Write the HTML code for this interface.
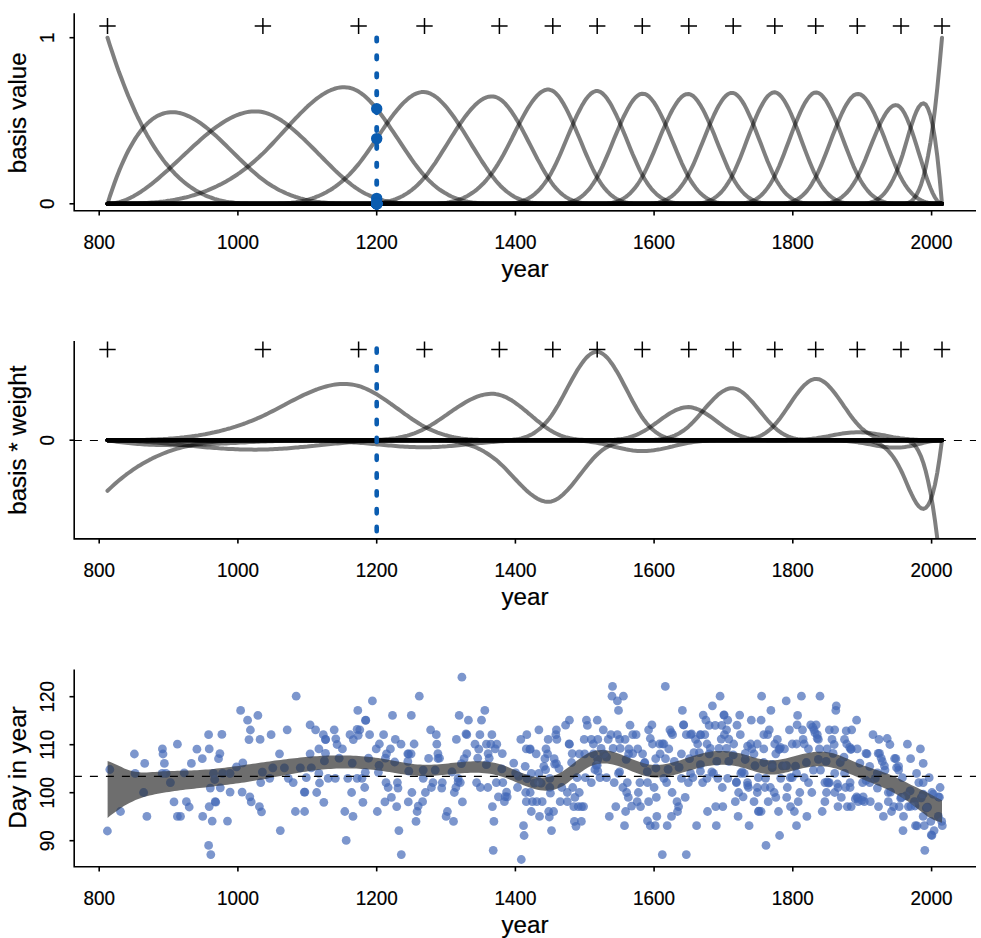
<!DOCTYPE html>
<html><head><meta charset="utf-8"><style>
html,body{margin:0;padding:0;background:#fff;}
svg{display:block;}
.tl{font-family:"Liberation Sans",sans-serif;font-size:19.2px;fill:#000;stroke:#000;stroke-width:0.2px;}
.al{font-family:"Liberation Sans",sans-serif;font-size:24.2px;fill:#000;stroke:#000;stroke-width:0.2px;}
</style></head><body>
<svg width="981" height="938" viewBox="0 0 981 938">
<rect width="981" height="938" fill="#fff"/>
<path d="M74.2 13.3 V210.8 H976" fill="none" stroke="#000" stroke-width="1.6"/>
<path d="M99.2 210.8 H931.6" stroke="#000" stroke-width="1" fill="none"/>
<path d="M99.2 210.8 v4.7" stroke="#000" stroke-width="1.6"/>
<text transform="translate(99.2 249.1) scale(0.985 1.045)" class="tl" text-anchor="middle">800</text>
<path d="M237.9 210.8 v4.7" stroke="#000" stroke-width="1.6"/>
<text transform="translate(237.9 249.1) scale(0.985 1.045)" class="tl" text-anchor="middle">1000</text>
<path d="M376.7 210.8 v4.7" stroke="#000" stroke-width="1.6"/>
<text transform="translate(376.7 249.1) scale(0.985 1.045)" class="tl" text-anchor="middle">1200</text>
<path d="M515.4 210.8 v4.7" stroke="#000" stroke-width="1.6"/>
<text transform="translate(515.4 249.1) scale(0.985 1.045)" class="tl" text-anchor="middle">1400</text>
<path d="M654.1 210.8 v4.7" stroke="#000" stroke-width="1.6"/>
<text transform="translate(654.1 249.1) scale(0.985 1.045)" class="tl" text-anchor="middle">1600</text>
<path d="M792.8 210.8 v4.7" stroke="#000" stroke-width="1.6"/>
<text transform="translate(792.8 249.1) scale(0.985 1.045)" class="tl" text-anchor="middle">1800</text>
<path d="M931.6 210.8 v4.7" stroke="#000" stroke-width="1.6"/>
<text transform="translate(931.6 249.1) scale(0.985 1.045)" class="tl" text-anchor="middle">2000</text>
<text x="525" y="277.1" class="al" text-anchor="middle">year</text>
<path d="M74.2 203.8 h-4.7" stroke="#000" stroke-width="1.6"/>
<text transform="translate(54.2 203.8) rotate(-90) scale(0.985 1.045)" class="tl" text-anchor="middle">0</text>
<path d="M74.2 37.7 h-4.7" stroke="#000" stroke-width="1.6"/>
<text transform="translate(54.2 37.7) rotate(-90) scale(0.985 1.045)" class="tl" text-anchor="middle">1</text>
<text transform="translate(25.9 112.8) rotate(-90)" class="al" text-anchor="middle">basis value</text>
<path d="M99.3 26.1 h16.4 M107.5 18.1 v16" stroke="#000" stroke-width="1.5"/>
<path d="M254.7 26.1 h16.4 M262.9 18.1 v16" stroke="#000" stroke-width="1.5"/>
<path d="M350.4 26.1 h16.4 M358.6 18.1 v16" stroke="#000" stroke-width="1.5"/>
<path d="M416.3 26.1 h16.4 M424.5 18.1 v16" stroke="#000" stroke-width="1.5"/>
<path d="M491.2 26.1 h16.4 M499.4 18.1 v16" stroke="#000" stroke-width="1.5"/>
<path d="M544.6 26.1 h16.4 M552.8 18.1 v16" stroke="#000" stroke-width="1.5"/>
<path d="M589.0 26.1 h16.4 M597.2 18.1 v16" stroke="#000" stroke-width="1.5"/>
<path d="M634.1 26.1 h16.4 M642.3 18.1 v16" stroke="#000" stroke-width="1.5"/>
<path d="M680.6 26.1 h16.4 M688.8 18.1 v16" stroke="#000" stroke-width="1.5"/>
<path d="M725.0 26.1 h16.4 M733.2 18.1 v16" stroke="#000" stroke-width="1.5"/>
<path d="M766.6 26.1 h16.4 M774.8 18.1 v16" stroke="#000" stroke-width="1.5"/>
<path d="M807.5 26.1 h16.4 M815.7 18.1 v16" stroke="#000" stroke-width="1.5"/>
<path d="M849.1 26.1 h16.4 M857.3 18.1 v16" stroke="#000" stroke-width="1.5"/>
<path d="M892.8 26.1 h16.4 M901.0 18.1 v16" stroke="#000" stroke-width="1.5"/>
<path d="M933.8 26.1 h16.4 M942.0 18.1 v16" stroke="#000" stroke-width="1.5"/>
<polyline points="107.5,37.7 109.8,45.0 112.2,52.2 114.5,59.1 116.8,65.8 119.1,72.3 121.5,78.5 123.8,84.6 126.1,90.5 128.4,96.2 130.8,101.6 133.1,106.9 135.4,112.1 137.7,117.0 140.1,121.7 142.4,126.3 144.7,130.7 147.0,134.9 149.4,139.0 151.7,142.9 154.0,146.6 156.3,150.2 158.7,153.6 161.0,156.9 163.3,160.1 165.6,163.1 168.0,165.9 170.3,168.6 172.6,171.2 174.9,173.7 177.3,176.0 179.6,178.2 181.9,180.3 184.2,182.2 186.6,184.1 188.9,185.8 191.2,187.5 193.5,189.0 195.8,190.5 198.2,191.8 200.5,193.0 202.8,194.2 205.1,195.3 207.5,196.3 209.8,197.2 212.1,198.0 214.4,198.8 216.8,199.5 219.1,200.1 221.4,200.6 223.7,201.1 226.1,201.6 228.4,202.0 230.7,202.3 233.0,202.6 235.4,202.9 237.7,203.1 240.0,203.3 242.3,203.4 244.7,203.5 247.0,203.6 249.3,203.7 251.6,203.7 254.0,203.8 256.3,203.8 258.6,203.8 260.9,203.8 263.3,203.8 265.6,203.8 267.9,203.8 270.2,203.8 272.6,203.8 274.9,203.8 277.2,203.8 279.5,203.8 281.9,203.8 284.2,203.8 286.5,203.8 288.8,203.8 291.1,203.8 293.5,203.8 295.8,203.8 298.1,203.8 300.4,203.8 302.8,203.8 305.1,203.8 307.4,203.8 309.7,203.8 312.1,203.8 314.4,203.8 316.7,203.8 319.0,203.8 321.4,203.8 323.7,203.8 326.0,203.8 328.3,203.8 330.7,203.8 333.0,203.8 335.3,203.8 337.6,203.8 340.0,203.8 342.3,203.8 344.6,203.8 346.9,203.8 349.3,203.8 351.6,203.8 353.9,203.8 356.2,203.8 358.6,203.8 360.9,203.8 363.2,203.8 365.5,203.8 367.9,203.8 370.2,203.8 372.5,203.8 374.8,203.8 377.2,203.8 379.5,203.8 381.8,203.8 384.1,203.8 386.4,203.8 388.8,203.8 391.1,203.8 393.4,203.8 395.7,203.8 398.1,203.8 400.4,203.8 402.7,203.8 405.0,203.8 407.4,203.8 409.7,203.8 412.0,203.8 414.3,203.8 416.7,203.8 419.0,203.8 421.3,203.8 423.6,203.8 426.0,203.8 428.3,203.8 430.6,203.8 432.9,203.8 435.3,203.8 437.6,203.8 439.9,203.8 442.2,203.8 444.6,203.8 446.9,203.8 449.2,203.8 451.5,203.8 453.9,203.8 456.2,203.8 458.5,203.8 460.8,203.8 463.2,203.8 465.5,203.8 467.8,203.8 470.1,203.8 472.4,203.8 474.8,203.8 477.1,203.8 479.4,203.8 481.7,203.8 484.1,203.8 486.4,203.8 488.7,203.8 491.0,203.8 493.4,203.8 495.7,203.8 498.0,203.8 500.3,203.8 502.7,203.8 505.0,203.8 507.3,203.8 509.6,203.8 512.0,203.8 514.3,203.8 516.6,203.8 518.9,203.8 521.3,203.8 523.6,203.8 525.9,203.8 528.2,203.8 530.6,203.8 532.9,203.8 535.2,203.8 537.5,203.8 539.9,203.8 542.2,203.8 544.5,203.8 546.8,203.8 549.2,203.8 551.5,203.8 553.8,203.8 556.1,203.8 558.5,203.8 560.8,203.8 563.1,203.8 565.4,203.8 567.7,203.8 570.1,203.8 572.4,203.8 574.7,203.8 577.0,203.8 579.4,203.8 581.7,203.8 584.0,203.8 586.3,203.8 588.7,203.8 591.0,203.8 593.3,203.8 595.6,203.8 598.0,203.8 600.3,203.8 602.6,203.8 604.9,203.8 607.3,203.8 609.6,203.8 611.9,203.8 614.2,203.8 616.6,203.8 618.9,203.8 621.2,203.8 623.5,203.8 625.9,203.8 628.2,203.8 630.5,203.8 632.8,203.8 635.2,203.8 637.5,203.8 639.8,203.8 642.1,203.8 644.5,203.8 646.8,203.8 649.1,203.8 651.4,203.8 653.8,203.8 656.1,203.8 658.4,203.8 660.7,203.8 663.0,203.8 665.4,203.8 667.7,203.8 670.0,203.8 672.3,203.8 674.7,203.8 677.0,203.8 679.3,203.8 681.6,203.8 684.0,203.8 686.3,203.8 688.6,203.8 690.9,203.8 693.3,203.8 695.6,203.8 697.9,203.8 700.2,203.8 702.6,203.8 704.9,203.8 707.2,203.8 709.5,203.8 711.9,203.8 714.2,203.8 716.5,203.8 718.8,203.8 721.2,203.8 723.5,203.8 725.8,203.8 728.1,203.8 730.5,203.8 732.8,203.8 735.1,203.8 737.4,203.8 739.8,203.8 742.1,203.8 744.4,203.8 746.7,203.8 749.0,203.8 751.4,203.8 753.7,203.8 756.0,203.8 758.3,203.8 760.7,203.8 763.0,203.8 765.3,203.8 767.6,203.8 770.0,203.8 772.3,203.8 774.6,203.8 776.9,203.8 779.3,203.8 781.6,203.8 783.9,203.8 786.2,203.8 788.6,203.8 790.9,203.8 793.2,203.8 795.5,203.8 797.9,203.8 800.2,203.8 802.5,203.8 804.8,203.8 807.2,203.8 809.5,203.8 811.8,203.8 814.1,203.8 816.5,203.8 818.8,203.8 821.1,203.8 823.4,203.8 825.8,203.8 828.1,203.8 830.4,203.8 832.7,203.8 835.1,203.8 837.4,203.8 839.7,203.8 842.0,203.8 844.3,203.8 846.7,203.8 849.0,203.8 851.3,203.8 853.6,203.8 856.0,203.8 858.3,203.8 860.6,203.8 862.9,203.8 865.3,203.8 867.6,203.8 869.9,203.8 872.2,203.8 874.6,203.8 876.9,203.8 879.2,203.8 881.5,203.8 883.9,203.8 886.2,203.8 888.5,203.8 890.8,203.8 893.2,203.8 895.5,203.8 897.8,203.8 900.1,203.8 902.5,203.8 904.8,203.8 907.1,203.8 909.4,203.8 911.8,203.8 914.1,203.8 916.4,203.8 918.7,203.8 921.1,203.8 923.4,203.8 925.7,203.8 928.0,203.8 930.4,203.8 932.7,203.8 935.0,203.8 937.3,203.8 939.6,203.8 942.0,203.8" fill="none" stroke="rgba(0,0,0,0.5)" stroke-width="4.0" stroke-linejoin="round" stroke-linecap="round"/>
<polyline points="107.5,203.8 109.8,196.5 112.2,189.6 114.5,183.0 116.8,176.8 119.1,170.9 121.5,165.3 123.8,160.1 126.1,155.1 128.4,150.5 130.8,146.2 133.1,142.2 135.4,138.4 137.7,135.0 140.1,131.8 142.4,128.8 144.7,126.2 147.0,123.8 149.4,121.6 151.7,119.7 154.0,118.0 156.3,116.6 158.7,115.3 161.0,114.3 163.3,113.5 165.6,112.9 168.0,112.5 170.3,112.2 172.6,112.2 174.9,112.3 177.3,112.6 179.6,113.0 181.9,113.6 184.2,114.4 186.6,115.3 188.9,116.3 191.2,117.5 193.5,118.7 195.8,120.1 198.2,121.6 200.5,123.2 202.8,124.9 205.1,126.7 207.5,128.5 209.8,130.5 212.1,132.5 214.4,134.5 216.8,136.6 219.1,138.8 221.4,141.0 223.7,143.2 226.1,145.5 228.4,147.8 230.7,150.1 233.0,152.4 235.4,154.7 237.7,157.0 240.0,159.3 242.3,161.5 244.7,163.8 247.0,166.0 249.3,168.1 251.6,170.3 254.0,172.3 256.3,174.3 258.6,176.3 260.9,178.1 263.3,179.9 265.6,181.6 267.9,183.3 270.2,184.8 272.6,186.3 274.9,187.6 277.2,188.9 279.5,190.2 281.9,191.3 284.2,192.4 286.5,193.5 288.8,194.4 291.1,195.3 293.5,196.2 295.8,197.0 298.1,197.7 300.4,198.4 302.8,199.0 305.1,199.6 307.4,200.1 309.7,200.6 312.1,201.0 314.4,201.4 316.7,201.8 319.0,202.1 321.4,202.4 323.7,202.6 326.0,202.8 328.3,203.0 330.7,203.2 333.0,203.3 335.3,203.5 337.6,203.5 340.0,203.6 342.3,203.7 344.6,203.7 346.9,203.8 349.3,203.8 351.6,203.8 353.9,203.8 356.2,203.8 358.6,203.8 360.9,203.8 363.2,203.8 365.5,203.8 367.9,203.8 370.2,203.8 372.5,203.8 374.8,203.8 377.2,203.8 379.5,203.8 381.8,203.8 384.1,203.8 386.4,203.8 388.8,203.8 391.1,203.8 393.4,203.8 395.7,203.8 398.1,203.8 400.4,203.8 402.7,203.8 405.0,203.8 407.4,203.8 409.7,203.8 412.0,203.8 414.3,203.8 416.7,203.8 419.0,203.8 421.3,203.8 423.6,203.8 426.0,203.8 428.3,203.8 430.6,203.8 432.9,203.8 435.3,203.8 437.6,203.8 439.9,203.8 442.2,203.8 444.6,203.8 446.9,203.8 449.2,203.8 451.5,203.8 453.9,203.8 456.2,203.8 458.5,203.8 460.8,203.8 463.2,203.8 465.5,203.8 467.8,203.8 470.1,203.8 472.4,203.8 474.8,203.8 477.1,203.8 479.4,203.8 481.7,203.8 484.1,203.8 486.4,203.8 488.7,203.8 491.0,203.8 493.4,203.8 495.7,203.8 498.0,203.8 500.3,203.8 502.7,203.8 505.0,203.8 507.3,203.8 509.6,203.8 512.0,203.8 514.3,203.8 516.6,203.8 518.9,203.8 521.3,203.8 523.6,203.8 525.9,203.8 528.2,203.8 530.6,203.8 532.9,203.8 535.2,203.8 537.5,203.8 539.9,203.8 542.2,203.8 544.5,203.8 546.8,203.8 549.2,203.8 551.5,203.8 553.8,203.8 556.1,203.8 558.5,203.8 560.8,203.8 563.1,203.8 565.4,203.8 567.7,203.8 570.1,203.8 572.4,203.8 574.7,203.8 577.0,203.8 579.4,203.8 581.7,203.8 584.0,203.8 586.3,203.8 588.7,203.8 591.0,203.8 593.3,203.8 595.6,203.8 598.0,203.8 600.3,203.8 602.6,203.8 604.9,203.8 607.3,203.8 609.6,203.8 611.9,203.8 614.2,203.8 616.6,203.8 618.9,203.8 621.2,203.8 623.5,203.8 625.9,203.8 628.2,203.8 630.5,203.8 632.8,203.8 635.2,203.8 637.5,203.8 639.8,203.8 642.1,203.8 644.5,203.8 646.8,203.8 649.1,203.8 651.4,203.8 653.8,203.8 656.1,203.8 658.4,203.8 660.7,203.8 663.0,203.8 665.4,203.8 667.7,203.8 670.0,203.8 672.3,203.8 674.7,203.8 677.0,203.8 679.3,203.8 681.6,203.8 684.0,203.8 686.3,203.8 688.6,203.8 690.9,203.8 693.3,203.8 695.6,203.8 697.9,203.8 700.2,203.8 702.6,203.8 704.9,203.8 707.2,203.8 709.5,203.8 711.9,203.8 714.2,203.8 716.5,203.8 718.8,203.8 721.2,203.8 723.5,203.8 725.8,203.8 728.1,203.8 730.5,203.8 732.8,203.8 735.1,203.8 737.4,203.8 739.8,203.8 742.1,203.8 744.4,203.8 746.7,203.8 749.0,203.8 751.4,203.8 753.7,203.8 756.0,203.8 758.3,203.8 760.7,203.8 763.0,203.8 765.3,203.8 767.6,203.8 770.0,203.8 772.3,203.8 774.6,203.8 776.9,203.8 779.3,203.8 781.6,203.8 783.9,203.8 786.2,203.8 788.6,203.8 790.9,203.8 793.2,203.8 795.5,203.8 797.9,203.8 800.2,203.8 802.5,203.8 804.8,203.8 807.2,203.8 809.5,203.8 811.8,203.8 814.1,203.8 816.5,203.8 818.8,203.8 821.1,203.8 823.4,203.8 825.8,203.8 828.1,203.8 830.4,203.8 832.7,203.8 835.1,203.8 837.4,203.8 839.7,203.8 842.0,203.8 844.3,203.8 846.7,203.8 849.0,203.8 851.3,203.8 853.6,203.8 856.0,203.8 858.3,203.8 860.6,203.8 862.9,203.8 865.3,203.8 867.6,203.8 869.9,203.8 872.2,203.8 874.6,203.8 876.9,203.8 879.2,203.8 881.5,203.8 883.9,203.8 886.2,203.8 888.5,203.8 890.8,203.8 893.2,203.8 895.5,203.8 897.8,203.8 900.1,203.8 902.5,203.8 904.8,203.8 907.1,203.8 909.4,203.8 911.8,203.8 914.1,203.8 916.4,203.8 918.7,203.8 921.1,203.8 923.4,203.8 925.7,203.8 928.0,203.8 930.4,203.8 932.7,203.8 935.0,203.8 937.3,203.8 939.6,203.8 942.0,203.8" fill="none" stroke="rgba(0,0,0,0.5)" stroke-width="4.0" stroke-linejoin="round" stroke-linecap="round"/>
<polyline points="107.5,203.8 109.8,203.7 112.2,203.5 114.5,203.2 116.8,202.7 119.1,202.2 121.5,201.5 123.8,200.7 126.1,199.8 128.4,198.7 130.8,197.6 133.1,196.4 135.4,195.1 137.7,193.7 140.1,192.3 142.4,190.7 144.7,189.1 147.0,187.4 149.4,185.7 151.7,183.9 154.0,182.0 156.3,180.1 158.7,178.1 161.0,176.1 163.3,174.1 165.6,172.0 168.0,169.9 170.3,167.8 172.6,165.6 174.9,163.5 177.3,161.3 179.6,159.1 181.9,156.9 184.2,154.7 186.6,152.6 188.9,150.4 191.2,148.2 193.5,146.1 195.8,144.0 198.2,141.9 200.5,139.8 202.8,137.8 205.1,135.8 207.5,133.9 209.8,132.0 212.1,130.2 214.4,128.4 216.8,126.7 219.1,125.1 221.4,123.5 223.7,122.0 226.1,120.6 228.4,119.2 230.7,118.0 233.0,116.9 235.4,115.8 237.7,114.8 240.0,114.0 242.3,113.3 244.7,112.6 247.0,112.1 249.3,111.7 251.6,111.5 254.0,111.4 256.3,111.4 258.6,111.5 260.9,111.8 263.3,112.3 265.6,112.9 267.9,113.6 270.2,114.5 272.6,115.5 274.9,116.7 277.2,118.0 279.5,119.3 281.9,120.8 284.2,122.4 286.5,124.1 288.8,125.9 291.1,127.8 293.5,129.7 295.8,131.7 298.1,133.8 300.4,135.9 302.8,138.1 305.1,140.3 307.4,142.6 309.7,144.9 312.1,147.2 314.4,149.5 316.7,151.9 319.0,154.3 321.4,156.6 323.7,159.0 326.0,161.4 328.3,163.7 330.7,166.0 333.0,168.3 335.3,170.6 337.6,172.8 340.0,174.9 342.3,177.0 344.6,179.1 346.9,181.0 349.3,182.9 351.6,184.8 353.9,186.5 356.2,188.1 358.6,189.7 360.9,191.1 363.2,192.5 365.5,193.7 367.9,194.8 370.2,195.9 372.5,196.9 374.8,197.8 377.2,198.6 379.5,199.3 381.8,200.0 384.1,200.6 386.4,201.1 388.8,201.6 391.1,202.0 393.4,202.3 395.7,202.6 398.1,202.9 400.4,203.1 402.7,203.3 405.0,203.4 407.4,203.6 409.7,203.6 412.0,203.7 414.3,203.7 416.7,203.8 419.0,203.8 421.3,203.8 423.6,203.8 426.0,203.8 428.3,203.8 430.6,203.8 432.9,203.8 435.3,203.8 437.6,203.8 439.9,203.8 442.2,203.8 444.6,203.8 446.9,203.8 449.2,203.8 451.5,203.8 453.9,203.8 456.2,203.8 458.5,203.8 460.8,203.8 463.2,203.8 465.5,203.8 467.8,203.8 470.1,203.8 472.4,203.8 474.8,203.8 477.1,203.8 479.4,203.8 481.7,203.8 484.1,203.8 486.4,203.8 488.7,203.8 491.0,203.8 493.4,203.8 495.7,203.8 498.0,203.8 500.3,203.8 502.7,203.8 505.0,203.8 507.3,203.8 509.6,203.8 512.0,203.8 514.3,203.8 516.6,203.8 518.9,203.8 521.3,203.8 523.6,203.8 525.9,203.8 528.2,203.8 530.6,203.8 532.9,203.8 535.2,203.8 537.5,203.8 539.9,203.8 542.2,203.8 544.5,203.8 546.8,203.8 549.2,203.8 551.5,203.8 553.8,203.8 556.1,203.8 558.5,203.8 560.8,203.8 563.1,203.8 565.4,203.8 567.7,203.8 570.1,203.8 572.4,203.8 574.7,203.8 577.0,203.8 579.4,203.8 581.7,203.8 584.0,203.8 586.3,203.8 588.7,203.8 591.0,203.8 593.3,203.8 595.6,203.8 598.0,203.8 600.3,203.8 602.6,203.8 604.9,203.8 607.3,203.8 609.6,203.8 611.9,203.8 614.2,203.8 616.6,203.8 618.9,203.8 621.2,203.8 623.5,203.8 625.9,203.8 628.2,203.8 630.5,203.8 632.8,203.8 635.2,203.8 637.5,203.8 639.8,203.8 642.1,203.8 644.5,203.8 646.8,203.8 649.1,203.8 651.4,203.8 653.8,203.8 656.1,203.8 658.4,203.8 660.7,203.8 663.0,203.8 665.4,203.8 667.7,203.8 670.0,203.8 672.3,203.8 674.7,203.8 677.0,203.8 679.3,203.8 681.6,203.8 684.0,203.8 686.3,203.8 688.6,203.8 690.9,203.8 693.3,203.8 695.6,203.8 697.9,203.8 700.2,203.8 702.6,203.8 704.9,203.8 707.2,203.8 709.5,203.8 711.9,203.8 714.2,203.8 716.5,203.8 718.8,203.8 721.2,203.8 723.5,203.8 725.8,203.8 728.1,203.8 730.5,203.8 732.8,203.8 735.1,203.8 737.4,203.8 739.8,203.8 742.1,203.8 744.4,203.8 746.7,203.8 749.0,203.8 751.4,203.8 753.7,203.8 756.0,203.8 758.3,203.8 760.7,203.8 763.0,203.8 765.3,203.8 767.6,203.8 770.0,203.8 772.3,203.8 774.6,203.8 776.9,203.8 779.3,203.8 781.6,203.8 783.9,203.8 786.2,203.8 788.6,203.8 790.9,203.8 793.2,203.8 795.5,203.8 797.9,203.8 800.2,203.8 802.5,203.8 804.8,203.8 807.2,203.8 809.5,203.8 811.8,203.8 814.1,203.8 816.5,203.8 818.8,203.8 821.1,203.8 823.4,203.8 825.8,203.8 828.1,203.8 830.4,203.8 832.7,203.8 835.1,203.8 837.4,203.8 839.7,203.8 842.0,203.8 844.3,203.8 846.7,203.8 849.0,203.8 851.3,203.8 853.6,203.8 856.0,203.8 858.3,203.8 860.6,203.8 862.9,203.8 865.3,203.8 867.6,203.8 869.9,203.8 872.2,203.8 874.6,203.8 876.9,203.8 879.2,203.8 881.5,203.8 883.9,203.8 886.2,203.8 888.5,203.8 890.8,203.8 893.2,203.8 895.5,203.8 897.8,203.8 900.1,203.8 902.5,203.8 904.8,203.8 907.1,203.8 909.4,203.8 911.8,203.8 914.1,203.8 916.4,203.8 918.7,203.8 921.1,203.8 923.4,203.8 925.7,203.8 928.0,203.8 930.4,203.8 932.7,203.8 935.0,203.8 937.3,203.8 939.6,203.8 942.0,203.8" fill="none" stroke="rgba(0,0,0,0.5)" stroke-width="4.0" stroke-linejoin="round" stroke-linecap="round"/>
<polyline points="107.5,203.8 109.8,203.8 112.2,203.8 114.5,203.8 116.8,203.8 119.1,203.8 121.5,203.8 123.8,203.7 126.1,203.7 128.4,203.7 130.8,203.6 133.1,203.6 135.4,203.5 137.7,203.4 140.1,203.3 142.4,203.2 144.7,203.1 147.0,203.0 149.4,202.8 151.7,202.6 154.0,202.5 156.3,202.2 158.7,202.0 161.0,201.7 163.3,201.5 165.6,201.2 168.0,200.8 170.3,200.5 172.6,200.1 174.9,199.7 177.3,199.2 179.6,198.8 181.9,198.3 184.2,197.7 186.6,197.2 188.9,196.6 191.2,195.9 193.5,195.3 195.8,194.5 198.2,193.8 200.5,193.0 202.8,192.2 205.1,191.3 207.5,190.4 209.8,189.4 212.1,188.4 214.4,187.4 216.8,186.3 219.1,185.1 221.4,184.0 223.7,182.7 226.1,181.4 228.4,180.1 230.7,178.7 233.0,177.2 235.4,175.7 237.7,174.2 240.0,172.6 242.3,170.9 244.7,169.2 247.0,167.4 249.3,165.5 251.6,163.6 254.0,161.6 256.3,159.6 258.6,157.5 260.9,155.3 263.3,153.1 265.6,150.8 267.9,148.4 270.2,146.0 272.6,143.5 274.9,141.0 277.2,138.5 279.5,136.0 281.9,133.4 284.2,130.9 286.5,128.3 288.8,125.8 291.1,123.2 293.5,120.7 295.8,118.2 298.1,115.8 300.4,113.4 302.8,111.1 305.1,108.8 307.4,106.6 309.7,104.5 312.1,102.5 314.4,100.5 316.7,98.7 319.0,97.0 321.4,95.3 323.7,93.9 326.0,92.5 328.3,91.3 330.7,90.2 333.0,89.3 335.3,88.5 337.6,87.9 340.0,87.5 342.3,87.3 344.6,87.3 346.9,87.4 349.3,87.8 351.6,88.4 353.9,89.2 356.2,90.3 358.6,91.6 360.9,93.1 363.2,94.8 365.5,96.8 367.9,99.0 370.2,101.3 372.5,103.9 374.8,106.6 377.2,109.4 379.5,112.4 381.8,115.5 384.1,118.7 386.4,122.0 388.8,125.3 391.1,128.8 393.4,132.2 395.7,135.7 398.1,139.2 400.4,142.7 402.7,146.2 405.0,149.7 407.4,153.2 409.7,156.5 412.0,159.8 414.3,163.1 416.7,166.2 419.0,169.2 421.3,172.1 423.6,174.8 426.0,177.4 428.3,179.8 430.6,182.1 432.9,184.2 435.3,186.2 437.6,188.1 439.9,189.8 442.2,191.3 444.6,192.8 446.9,194.1 449.2,195.4 451.5,196.5 453.9,197.5 456.2,198.4 458.5,199.2 460.8,200.0 463.2,200.6 465.5,201.2 467.8,201.7 470.1,202.1 472.4,202.5 474.8,202.8 477.1,203.1 479.4,203.3 481.7,203.4 484.1,203.6 486.4,203.7 488.7,203.7 491.0,203.8 493.4,203.8 495.7,203.8 498.0,203.8 500.3,203.8 502.7,203.8 505.0,203.8 507.3,203.8 509.6,203.8 512.0,203.8 514.3,203.8 516.6,203.8 518.9,203.8 521.3,203.8 523.6,203.8 525.9,203.8 528.2,203.8 530.6,203.8 532.9,203.8 535.2,203.8 537.5,203.8 539.9,203.8 542.2,203.8 544.5,203.8 546.8,203.8 549.2,203.8 551.5,203.8 553.8,203.8 556.1,203.8 558.5,203.8 560.8,203.8 563.1,203.8 565.4,203.8 567.7,203.8 570.1,203.8 572.4,203.8 574.7,203.8 577.0,203.8 579.4,203.8 581.7,203.8 584.0,203.8 586.3,203.8 588.7,203.8 591.0,203.8 593.3,203.8 595.6,203.8 598.0,203.8 600.3,203.8 602.6,203.8 604.9,203.8 607.3,203.8 609.6,203.8 611.9,203.8 614.2,203.8 616.6,203.8 618.9,203.8 621.2,203.8 623.5,203.8 625.9,203.8 628.2,203.8 630.5,203.8 632.8,203.8 635.2,203.8 637.5,203.8 639.8,203.8 642.1,203.8 644.5,203.8 646.8,203.8 649.1,203.8 651.4,203.8 653.8,203.8 656.1,203.8 658.4,203.8 660.7,203.8 663.0,203.8 665.4,203.8 667.7,203.8 670.0,203.8 672.3,203.8 674.7,203.8 677.0,203.8 679.3,203.8 681.6,203.8 684.0,203.8 686.3,203.8 688.6,203.8 690.9,203.8 693.3,203.8 695.6,203.8 697.9,203.8 700.2,203.8 702.6,203.8 704.9,203.8 707.2,203.8 709.5,203.8 711.9,203.8 714.2,203.8 716.5,203.8 718.8,203.8 721.2,203.8 723.5,203.8 725.8,203.8 728.1,203.8 730.5,203.8 732.8,203.8 735.1,203.8 737.4,203.8 739.8,203.8 742.1,203.8 744.4,203.8 746.7,203.8 749.0,203.8 751.4,203.8 753.7,203.8 756.0,203.8 758.3,203.8 760.7,203.8 763.0,203.8 765.3,203.8 767.6,203.8 770.0,203.8 772.3,203.8 774.6,203.8 776.9,203.8 779.3,203.8 781.6,203.8 783.9,203.8 786.2,203.8 788.6,203.8 790.9,203.8 793.2,203.8 795.5,203.8 797.9,203.8 800.2,203.8 802.5,203.8 804.8,203.8 807.2,203.8 809.5,203.8 811.8,203.8 814.1,203.8 816.5,203.8 818.8,203.8 821.1,203.8 823.4,203.8 825.8,203.8 828.1,203.8 830.4,203.8 832.7,203.8 835.1,203.8 837.4,203.8 839.7,203.8 842.0,203.8 844.3,203.8 846.7,203.8 849.0,203.8 851.3,203.8 853.6,203.8 856.0,203.8 858.3,203.8 860.6,203.8 862.9,203.8 865.3,203.8 867.6,203.8 869.9,203.8 872.2,203.8 874.6,203.8 876.9,203.8 879.2,203.8 881.5,203.8 883.9,203.8 886.2,203.8 888.5,203.8 890.8,203.8 893.2,203.8 895.5,203.8 897.8,203.8 900.1,203.8 902.5,203.8 904.8,203.8 907.1,203.8 909.4,203.8 911.8,203.8 914.1,203.8 916.4,203.8 918.7,203.8 921.1,203.8 923.4,203.8 925.7,203.8 928.0,203.8 930.4,203.8 932.7,203.8 935.0,203.8 937.3,203.8 939.6,203.8 942.0,203.8" fill="none" stroke="rgba(0,0,0,0.5)" stroke-width="4.0" stroke-linejoin="round" stroke-linecap="round"/>
<polyline points="107.5,203.8 109.8,203.8 112.2,203.8 114.5,203.8 116.8,203.8 119.1,203.8 121.5,203.8 123.8,203.8 126.1,203.8 128.4,203.8 130.8,203.8 133.1,203.8 135.4,203.8 137.7,203.8 140.1,203.8 142.4,203.8 144.7,203.8 147.0,203.8 149.4,203.8 151.7,203.8 154.0,203.8 156.3,203.8 158.7,203.8 161.0,203.8 163.3,203.8 165.6,203.8 168.0,203.8 170.3,203.8 172.6,203.8 174.9,203.8 177.3,203.8 179.6,203.8 181.9,203.8 184.2,203.8 186.6,203.8 188.9,203.8 191.2,203.8 193.5,203.8 195.8,203.8 198.2,203.8 200.5,203.8 202.8,203.8 205.1,203.8 207.5,203.8 209.8,203.8 212.1,203.8 214.4,203.8 216.8,203.8 219.1,203.8 221.4,203.8 223.7,203.8 226.1,203.8 228.4,203.8 230.7,203.8 233.0,203.8 235.4,203.8 237.7,203.8 240.0,203.8 242.3,203.8 244.7,203.8 247.0,203.8 249.3,203.8 251.6,203.8 254.0,203.8 256.3,203.8 258.6,203.8 260.9,203.8 263.3,203.8 265.6,203.8 267.9,203.8 270.2,203.8 272.6,203.8 274.9,203.7 277.2,203.7 279.5,203.6 281.9,203.5 284.2,203.4 286.5,203.2 288.8,203.0 291.1,202.8 293.5,202.5 295.8,202.2 298.1,201.8 300.4,201.4 302.8,200.9 305.1,200.4 307.4,199.8 309.7,199.1 312.1,198.4 314.4,197.6 316.7,196.7 319.0,195.8 321.4,194.7 323.7,193.6 326.0,192.4 328.3,191.1 330.7,189.7 333.0,188.2 335.3,186.6 337.6,184.9 340.0,183.0 342.3,181.1 344.6,179.0 346.9,176.9 349.3,174.6 351.6,172.1 353.9,169.6 356.2,166.9 358.6,164.1 360.9,161.1 363.2,158.0 365.5,154.8 367.9,151.5 370.2,148.2 372.5,144.8 374.8,141.3 377.2,137.9 379.5,134.4 381.8,131.0 384.1,127.6 386.4,124.2 388.8,120.9 391.1,117.7 393.4,114.6 395.7,111.7 398.1,108.8 400.4,106.2 402.7,103.7 405.0,101.4 407.4,99.3 409.7,97.4 412.0,95.8 414.3,94.4 416.7,93.4 419.0,92.6 421.3,92.1 423.6,92.0 426.0,92.2 428.3,92.8 430.6,93.7 432.9,94.9 435.3,96.5 437.6,98.2 439.9,100.3 442.2,102.6 444.6,105.1 446.9,107.8 449.2,110.7 451.5,113.8 453.9,117.0 456.2,120.3 458.5,123.8 460.8,127.4 463.2,131.0 465.5,134.7 467.8,138.5 470.1,142.3 472.4,146.1 474.8,149.9 477.1,153.6 479.4,157.3 481.7,161.0 484.1,164.5 486.4,168.0 488.7,171.3 491.0,174.6 493.4,177.6 495.7,180.5 498.0,183.2 500.3,185.7 502.7,188.0 505.0,190.1 507.3,192.0 509.6,193.7 512.0,195.3 514.3,196.7 516.6,197.9 518.9,198.9 521.3,199.9 523.6,200.7 525.9,201.4 528.2,201.9 530.6,202.4 532.9,202.8 535.2,203.1 537.5,203.4 539.9,203.5 542.2,203.6 544.5,203.7 546.8,203.8 549.2,203.8 551.5,203.8 553.8,203.8 556.1,203.8 558.5,203.8 560.8,203.8 563.1,203.8 565.4,203.8 567.7,203.8 570.1,203.8 572.4,203.8 574.7,203.8 577.0,203.8 579.4,203.8 581.7,203.8 584.0,203.8 586.3,203.8 588.7,203.8 591.0,203.8 593.3,203.8 595.6,203.8 598.0,203.8 600.3,203.8 602.6,203.8 604.9,203.8 607.3,203.8 609.6,203.8 611.9,203.8 614.2,203.8 616.6,203.8 618.9,203.8 621.2,203.8 623.5,203.8 625.9,203.8 628.2,203.8 630.5,203.8 632.8,203.8 635.2,203.8 637.5,203.8 639.8,203.8 642.1,203.8 644.5,203.8 646.8,203.8 649.1,203.8 651.4,203.8 653.8,203.8 656.1,203.8 658.4,203.8 660.7,203.8 663.0,203.8 665.4,203.8 667.7,203.8 670.0,203.8 672.3,203.8 674.7,203.8 677.0,203.8 679.3,203.8 681.6,203.8 684.0,203.8 686.3,203.8 688.6,203.8 690.9,203.8 693.3,203.8 695.6,203.8 697.9,203.8 700.2,203.8 702.6,203.8 704.9,203.8 707.2,203.8 709.5,203.8 711.9,203.8 714.2,203.8 716.5,203.8 718.8,203.8 721.2,203.8 723.5,203.8 725.8,203.8 728.1,203.8 730.5,203.8 732.8,203.8 735.1,203.8 737.4,203.8 739.8,203.8 742.1,203.8 744.4,203.8 746.7,203.8 749.0,203.8 751.4,203.8 753.7,203.8 756.0,203.8 758.3,203.8 760.7,203.8 763.0,203.8 765.3,203.8 767.6,203.8 770.0,203.8 772.3,203.8 774.6,203.8 776.9,203.8 779.3,203.8 781.6,203.8 783.9,203.8 786.2,203.8 788.6,203.8 790.9,203.8 793.2,203.8 795.5,203.8 797.9,203.8 800.2,203.8 802.5,203.8 804.8,203.8 807.2,203.8 809.5,203.8 811.8,203.8 814.1,203.8 816.5,203.8 818.8,203.8 821.1,203.8 823.4,203.8 825.8,203.8 828.1,203.8 830.4,203.8 832.7,203.8 835.1,203.8 837.4,203.8 839.7,203.8 842.0,203.8 844.3,203.8 846.7,203.8 849.0,203.8 851.3,203.8 853.6,203.8 856.0,203.8 858.3,203.8 860.6,203.8 862.9,203.8 865.3,203.8 867.6,203.8 869.9,203.8 872.2,203.8 874.6,203.8 876.9,203.8 879.2,203.8 881.5,203.8 883.9,203.8 886.2,203.8 888.5,203.8 890.8,203.8 893.2,203.8 895.5,203.8 897.8,203.8 900.1,203.8 902.5,203.8 904.8,203.8 907.1,203.8 909.4,203.8 911.8,203.8 914.1,203.8 916.4,203.8 918.7,203.8 921.1,203.8 923.4,203.8 925.7,203.8 928.0,203.8 930.4,203.8 932.7,203.8 935.0,203.8 937.3,203.8 939.6,203.8 942.0,203.8" fill="none" stroke="rgba(0,0,0,0.5)" stroke-width="4.0" stroke-linejoin="round" stroke-linecap="round"/>
<polyline points="107.5,203.8 109.8,203.8 112.2,203.8 114.5,203.8 116.8,203.8 119.1,203.8 121.5,203.8 123.8,203.8 126.1,203.8 128.4,203.8 130.8,203.8 133.1,203.8 135.4,203.8 137.7,203.8 140.1,203.8 142.4,203.8 144.7,203.8 147.0,203.8 149.4,203.8 151.7,203.8 154.0,203.8 156.3,203.8 158.7,203.8 161.0,203.8 163.3,203.8 165.6,203.8 168.0,203.8 170.3,203.8 172.6,203.8 174.9,203.8 177.3,203.8 179.6,203.8 181.9,203.8 184.2,203.8 186.6,203.8 188.9,203.8 191.2,203.8 193.5,203.8 195.8,203.8 198.2,203.8 200.5,203.8 202.8,203.8 205.1,203.8 207.5,203.8 209.8,203.8 212.1,203.8 214.4,203.8 216.8,203.8 219.1,203.8 221.4,203.8 223.7,203.8 226.1,203.8 228.4,203.8 230.7,203.8 233.0,203.8 235.4,203.8 237.7,203.8 240.0,203.8 242.3,203.8 244.7,203.8 247.0,203.8 249.3,203.8 251.6,203.8 254.0,203.8 256.3,203.8 258.6,203.8 260.9,203.8 263.3,203.8 265.6,203.8 267.9,203.8 270.2,203.8 272.6,203.8 274.9,203.8 277.2,203.8 279.5,203.8 281.9,203.8 284.2,203.8 286.5,203.8 288.8,203.8 291.1,203.8 293.5,203.8 295.8,203.8 298.1,203.8 300.4,203.8 302.8,203.8 305.1,203.8 307.4,203.8 309.7,203.8 312.1,203.8 314.4,203.8 316.7,203.8 319.0,203.8 321.4,203.8 323.7,203.8 326.0,203.8 328.3,203.8 330.7,203.8 333.0,203.8 335.3,203.8 337.6,203.8 340.0,203.8 342.3,203.8 344.6,203.8 346.9,203.8 349.3,203.8 351.6,203.8 353.9,203.8 356.2,203.8 358.6,203.8 360.9,203.8 363.2,203.8 365.5,203.8 367.9,203.7 370.2,203.7 372.5,203.6 374.8,203.4 377.2,203.2 379.5,203.0 381.8,202.7 384.1,202.3 386.4,201.8 388.8,201.3 391.1,200.6 393.4,199.9 395.7,199.1 398.1,198.1 400.4,197.1 402.7,195.9 405.0,194.6 407.4,193.1 409.7,191.5 412.0,189.8 414.3,187.9 416.7,185.8 419.0,183.5 421.3,181.1 423.6,178.5 426.0,175.7 428.3,172.7 430.6,169.5 432.9,166.2 435.3,162.8 437.6,159.2 439.9,155.6 442.2,151.9 444.6,148.2 446.9,144.5 449.2,140.7 451.5,137.0 453.9,133.3 456.2,129.7 458.5,126.2 460.8,122.7 463.2,119.4 465.5,116.2 467.8,113.2 470.1,110.4 472.4,107.8 474.8,105.3 477.1,103.2 479.4,101.3 481.7,99.7 484.1,98.3 486.4,97.4 488.7,96.7 491.0,96.4 493.4,96.5 495.7,97.0 498.0,98.0 500.3,99.4 502.7,101.2 505.0,103.4 507.3,106.1 509.6,109.0 512.0,112.3 514.3,115.8 516.6,119.6 518.9,123.6 521.3,127.8 523.6,132.1 525.9,136.5 528.2,141.0 530.6,145.6 532.9,150.1 535.2,154.6 537.5,159.1 539.9,163.4 542.2,167.7 544.5,171.7 546.8,175.6 549.2,179.2 551.5,182.6 553.8,185.7 556.1,188.4 558.5,190.9 560.8,193.1 563.1,195.0 565.4,196.7 567.7,198.1 570.1,199.4 572.4,200.4 574.7,201.3 577.0,202.0 579.4,202.5 581.7,203.0 584.0,203.3 586.3,203.5 588.7,203.7 591.0,203.7 593.3,203.8 595.6,203.8 598.0,203.8 600.3,203.8 602.6,203.8 604.9,203.8 607.3,203.8 609.6,203.8 611.9,203.8 614.2,203.8 616.6,203.8 618.9,203.8 621.2,203.8 623.5,203.8 625.9,203.8 628.2,203.8 630.5,203.8 632.8,203.8 635.2,203.8 637.5,203.8 639.8,203.8 642.1,203.8 644.5,203.8 646.8,203.8 649.1,203.8 651.4,203.8 653.8,203.8 656.1,203.8 658.4,203.8 660.7,203.8 663.0,203.8 665.4,203.8 667.7,203.8 670.0,203.8 672.3,203.8 674.7,203.8 677.0,203.8 679.3,203.8 681.6,203.8 684.0,203.8 686.3,203.8 688.6,203.8 690.9,203.8 693.3,203.8 695.6,203.8 697.9,203.8 700.2,203.8 702.6,203.8 704.9,203.8 707.2,203.8 709.5,203.8 711.9,203.8 714.2,203.8 716.5,203.8 718.8,203.8 721.2,203.8 723.5,203.8 725.8,203.8 728.1,203.8 730.5,203.8 732.8,203.8 735.1,203.8 737.4,203.8 739.8,203.8 742.1,203.8 744.4,203.8 746.7,203.8 749.0,203.8 751.4,203.8 753.7,203.8 756.0,203.8 758.3,203.8 760.7,203.8 763.0,203.8 765.3,203.8 767.6,203.8 770.0,203.8 772.3,203.8 774.6,203.8 776.9,203.8 779.3,203.8 781.6,203.8 783.9,203.8 786.2,203.8 788.6,203.8 790.9,203.8 793.2,203.8 795.5,203.8 797.9,203.8 800.2,203.8 802.5,203.8 804.8,203.8 807.2,203.8 809.5,203.8 811.8,203.8 814.1,203.8 816.5,203.8 818.8,203.8 821.1,203.8 823.4,203.8 825.8,203.8 828.1,203.8 830.4,203.8 832.7,203.8 835.1,203.8 837.4,203.8 839.7,203.8 842.0,203.8 844.3,203.8 846.7,203.8 849.0,203.8 851.3,203.8 853.6,203.8 856.0,203.8 858.3,203.8 860.6,203.8 862.9,203.8 865.3,203.8 867.6,203.8 869.9,203.8 872.2,203.8 874.6,203.8 876.9,203.8 879.2,203.8 881.5,203.8 883.9,203.8 886.2,203.8 888.5,203.8 890.8,203.8 893.2,203.8 895.5,203.8 897.8,203.8 900.1,203.8 902.5,203.8 904.8,203.8 907.1,203.8 909.4,203.8 911.8,203.8 914.1,203.8 916.4,203.8 918.7,203.8 921.1,203.8 923.4,203.8 925.7,203.8 928.0,203.8 930.4,203.8 932.7,203.8 935.0,203.8 937.3,203.8 939.6,203.8 942.0,203.8" fill="none" stroke="rgba(0,0,0,0.5)" stroke-width="4.0" stroke-linejoin="round" stroke-linecap="round"/>
<polyline points="107.5,203.8 109.8,203.8 112.2,203.8 114.5,203.8 116.8,203.8 119.1,203.8 121.5,203.8 123.8,203.8 126.1,203.8 128.4,203.8 130.8,203.8 133.1,203.8 135.4,203.8 137.7,203.8 140.1,203.8 142.4,203.8 144.7,203.8 147.0,203.8 149.4,203.8 151.7,203.8 154.0,203.8 156.3,203.8 158.7,203.8 161.0,203.8 163.3,203.8 165.6,203.8 168.0,203.8 170.3,203.8 172.6,203.8 174.9,203.8 177.3,203.8 179.6,203.8 181.9,203.8 184.2,203.8 186.6,203.8 188.9,203.8 191.2,203.8 193.5,203.8 195.8,203.8 198.2,203.8 200.5,203.8 202.8,203.8 205.1,203.8 207.5,203.8 209.8,203.8 212.1,203.8 214.4,203.8 216.8,203.8 219.1,203.8 221.4,203.8 223.7,203.8 226.1,203.8 228.4,203.8 230.7,203.8 233.0,203.8 235.4,203.8 237.7,203.8 240.0,203.8 242.3,203.8 244.7,203.8 247.0,203.8 249.3,203.8 251.6,203.8 254.0,203.8 256.3,203.8 258.6,203.8 260.9,203.8 263.3,203.8 265.6,203.8 267.9,203.8 270.2,203.8 272.6,203.8 274.9,203.8 277.2,203.8 279.5,203.8 281.9,203.8 284.2,203.8 286.5,203.8 288.8,203.8 291.1,203.8 293.5,203.8 295.8,203.8 298.1,203.8 300.4,203.8 302.8,203.8 305.1,203.8 307.4,203.8 309.7,203.8 312.1,203.8 314.4,203.8 316.7,203.8 319.0,203.8 321.4,203.8 323.7,203.8 326.0,203.8 328.3,203.8 330.7,203.8 333.0,203.8 335.3,203.8 337.6,203.8 340.0,203.8 342.3,203.8 344.6,203.8 346.9,203.8 349.3,203.8 351.6,203.8 353.9,203.8 356.2,203.8 358.6,203.8 360.9,203.8 363.2,203.8 365.5,203.8 367.9,203.8 370.2,203.8 372.5,203.8 374.8,203.8 377.2,203.8 379.5,203.8 381.8,203.8 384.1,203.8 386.4,203.8 388.8,203.8 391.1,203.8 393.4,203.8 395.7,203.8 398.1,203.8 400.4,203.8 402.7,203.8 405.0,203.8 407.4,203.8 409.7,203.8 412.0,203.8 414.3,203.8 416.7,203.8 419.0,203.8 421.3,203.8 423.6,203.8 426.0,203.8 428.3,203.8 430.6,203.8 432.9,203.7 435.3,203.7 437.6,203.6 439.9,203.4 442.2,203.2 444.6,203.0 446.9,202.7 449.2,202.3 451.5,201.8 453.9,201.3 456.2,200.6 458.5,199.9 460.8,199.0 463.2,198.0 465.5,196.9 467.8,195.7 470.1,194.3 472.4,192.8 474.8,191.1 477.1,189.3 479.4,187.2 481.7,185.0 484.1,182.7 486.4,180.1 488.7,177.3 491.0,174.3 493.4,171.1 495.7,167.7 498.0,164.1 500.3,160.2 502.7,156.1 505.0,151.8 507.3,147.3 509.6,142.8 512.0,138.2 514.3,133.5 516.6,128.9 518.9,124.4 521.3,119.9 523.6,115.6 525.9,111.5 528.2,107.6 530.6,104.0 532.9,100.7 535.2,97.8 537.5,95.2 539.9,93.0 542.2,91.4 544.5,90.2 546.8,89.6 549.2,89.6 551.5,90.3 553.8,91.6 556.1,93.6 558.5,96.2 560.8,99.4 563.1,103.1 565.4,107.2 567.7,111.7 570.1,116.6 572.4,121.7 574.7,127.0 577.0,132.5 579.4,138.0 581.7,143.6 584.0,149.2 586.3,154.6 588.7,160.0 591.0,165.1 593.3,170.0 595.6,174.5 598.0,178.7 600.3,182.4 602.6,185.8 604.9,188.7 607.3,191.4 609.6,193.7 611.9,195.7 614.2,197.4 616.6,198.9 618.9,200.1 621.2,201.1 623.5,201.9 625.9,202.5 628.2,203.0 630.5,203.3 632.8,203.6 635.2,203.7 637.5,203.8 639.8,203.8 642.1,203.8 644.5,203.8 646.8,203.8 649.1,203.8 651.4,203.8 653.8,203.8 656.1,203.8 658.4,203.8 660.7,203.8 663.0,203.8 665.4,203.8 667.7,203.8 670.0,203.8 672.3,203.8 674.7,203.8 677.0,203.8 679.3,203.8 681.6,203.8 684.0,203.8 686.3,203.8 688.6,203.8 690.9,203.8 693.3,203.8 695.6,203.8 697.9,203.8 700.2,203.8 702.6,203.8 704.9,203.8 707.2,203.8 709.5,203.8 711.9,203.8 714.2,203.8 716.5,203.8 718.8,203.8 721.2,203.8 723.5,203.8 725.8,203.8 728.1,203.8 730.5,203.8 732.8,203.8 735.1,203.8 737.4,203.8 739.8,203.8 742.1,203.8 744.4,203.8 746.7,203.8 749.0,203.8 751.4,203.8 753.7,203.8 756.0,203.8 758.3,203.8 760.7,203.8 763.0,203.8 765.3,203.8 767.6,203.8 770.0,203.8 772.3,203.8 774.6,203.8 776.9,203.8 779.3,203.8 781.6,203.8 783.9,203.8 786.2,203.8 788.6,203.8 790.9,203.8 793.2,203.8 795.5,203.8 797.9,203.8 800.2,203.8 802.5,203.8 804.8,203.8 807.2,203.8 809.5,203.8 811.8,203.8 814.1,203.8 816.5,203.8 818.8,203.8 821.1,203.8 823.4,203.8 825.8,203.8 828.1,203.8 830.4,203.8 832.7,203.8 835.1,203.8 837.4,203.8 839.7,203.8 842.0,203.8 844.3,203.8 846.7,203.8 849.0,203.8 851.3,203.8 853.6,203.8 856.0,203.8 858.3,203.8 860.6,203.8 862.9,203.8 865.3,203.8 867.6,203.8 869.9,203.8 872.2,203.8 874.6,203.8 876.9,203.8 879.2,203.8 881.5,203.8 883.9,203.8 886.2,203.8 888.5,203.8 890.8,203.8 893.2,203.8 895.5,203.8 897.8,203.8 900.1,203.8 902.5,203.8 904.8,203.8 907.1,203.8 909.4,203.8 911.8,203.8 914.1,203.8 916.4,203.8 918.7,203.8 921.1,203.8 923.4,203.8 925.7,203.8 928.0,203.8 930.4,203.8 932.7,203.8 935.0,203.8 937.3,203.8 939.6,203.8 942.0,203.8" fill="none" stroke="rgba(0,0,0,0.5)" stroke-width="4.0" stroke-linejoin="round" stroke-linecap="round"/>
<polyline points="107.5,203.8 109.8,203.8 112.2,203.8 114.5,203.8 116.8,203.8 119.1,203.8 121.5,203.8 123.8,203.8 126.1,203.8 128.4,203.8 130.8,203.8 133.1,203.8 135.4,203.8 137.7,203.8 140.1,203.8 142.4,203.8 144.7,203.8 147.0,203.8 149.4,203.8 151.7,203.8 154.0,203.8 156.3,203.8 158.7,203.8 161.0,203.8 163.3,203.8 165.6,203.8 168.0,203.8 170.3,203.8 172.6,203.8 174.9,203.8 177.3,203.8 179.6,203.8 181.9,203.8 184.2,203.8 186.6,203.8 188.9,203.8 191.2,203.8 193.5,203.8 195.8,203.8 198.2,203.8 200.5,203.8 202.8,203.8 205.1,203.8 207.5,203.8 209.8,203.8 212.1,203.8 214.4,203.8 216.8,203.8 219.1,203.8 221.4,203.8 223.7,203.8 226.1,203.8 228.4,203.8 230.7,203.8 233.0,203.8 235.4,203.8 237.7,203.8 240.0,203.8 242.3,203.8 244.7,203.8 247.0,203.8 249.3,203.8 251.6,203.8 254.0,203.8 256.3,203.8 258.6,203.8 260.9,203.8 263.3,203.8 265.6,203.8 267.9,203.8 270.2,203.8 272.6,203.8 274.9,203.8 277.2,203.8 279.5,203.8 281.9,203.8 284.2,203.8 286.5,203.8 288.8,203.8 291.1,203.8 293.5,203.8 295.8,203.8 298.1,203.8 300.4,203.8 302.8,203.8 305.1,203.8 307.4,203.8 309.7,203.8 312.1,203.8 314.4,203.8 316.7,203.8 319.0,203.8 321.4,203.8 323.7,203.8 326.0,203.8 328.3,203.8 330.7,203.8 333.0,203.8 335.3,203.8 337.6,203.8 340.0,203.8 342.3,203.8 344.6,203.8 346.9,203.8 349.3,203.8 351.6,203.8 353.9,203.8 356.2,203.8 358.6,203.8 360.9,203.8 363.2,203.8 365.5,203.8 367.9,203.8 370.2,203.8 372.5,203.8 374.8,203.8 377.2,203.8 379.5,203.8 381.8,203.8 384.1,203.8 386.4,203.8 388.8,203.8 391.1,203.8 393.4,203.8 395.7,203.8 398.1,203.8 400.4,203.8 402.7,203.8 405.0,203.8 407.4,203.8 409.7,203.8 412.0,203.8 414.3,203.8 416.7,203.8 419.0,203.8 421.3,203.8 423.6,203.8 426.0,203.8 428.3,203.8 430.6,203.8 432.9,203.8 435.3,203.8 437.6,203.8 439.9,203.8 442.2,203.8 444.6,203.8 446.9,203.8 449.2,203.8 451.5,203.8 453.9,203.8 456.2,203.8 458.5,203.8 460.8,203.8 463.2,203.8 465.5,203.8 467.8,203.8 470.1,203.8 472.4,203.8 474.8,203.8 477.1,203.8 479.4,203.8 481.7,203.8 484.1,203.8 486.4,203.8 488.7,203.8 491.0,203.8 493.4,203.8 495.7,203.8 498.0,203.8 500.3,203.8 502.7,203.8 505.0,203.8 507.3,203.7 509.6,203.6 512.0,203.4 514.3,203.1 516.6,202.7 518.9,202.1 521.3,201.5 523.6,200.7 525.9,199.7 528.2,198.5 530.6,197.1 532.9,195.5 535.2,193.6 537.5,191.5 539.9,189.1 542.2,186.4 544.5,183.4 546.8,180.1 549.2,176.4 551.5,172.4 553.8,168.0 556.1,163.3 558.5,158.2 560.8,153.0 563.1,147.5 565.4,142.0 567.7,136.5 570.1,130.9 572.4,125.5 574.7,120.2 577.0,115.2 579.4,110.5 581.7,106.1 584.0,102.2 586.3,98.7 588.7,95.8 591.0,93.5 593.3,92.0 595.6,91.1 598.0,91.1 600.3,91.9 602.6,93.5 604.9,95.8 607.3,98.8 609.6,102.3 611.9,106.3 614.2,110.8 616.6,115.7 618.9,120.8 621.2,126.2 623.5,131.8 625.9,137.5 628.2,143.2 630.5,148.9 632.8,154.5 635.2,159.9 637.5,165.1 639.8,170.1 642.1,174.6 644.5,178.8 646.8,182.5 649.1,185.8 651.4,188.8 653.8,191.4 656.1,193.7 658.4,195.7 660.7,197.4 663.0,198.9 665.4,200.1 667.7,201.1 670.0,201.9 672.3,202.5 674.7,203.0 677.0,203.3 679.3,203.6 681.6,203.7 684.0,203.8 686.3,203.8 688.6,203.8 690.9,203.8 693.3,203.8 695.6,203.8 697.9,203.8 700.2,203.8 702.6,203.8 704.9,203.8 707.2,203.8 709.5,203.8 711.9,203.8 714.2,203.8 716.5,203.8 718.8,203.8 721.2,203.8 723.5,203.8 725.8,203.8 728.1,203.8 730.5,203.8 732.8,203.8 735.1,203.8 737.4,203.8 739.8,203.8 742.1,203.8 744.4,203.8 746.7,203.8 749.0,203.8 751.4,203.8 753.7,203.8 756.0,203.8 758.3,203.8 760.7,203.8 763.0,203.8 765.3,203.8 767.6,203.8 770.0,203.8 772.3,203.8 774.6,203.8 776.9,203.8 779.3,203.8 781.6,203.8 783.9,203.8 786.2,203.8 788.6,203.8 790.9,203.8 793.2,203.8 795.5,203.8 797.9,203.8 800.2,203.8 802.5,203.8 804.8,203.8 807.2,203.8 809.5,203.8 811.8,203.8 814.1,203.8 816.5,203.8 818.8,203.8 821.1,203.8 823.4,203.8 825.8,203.8 828.1,203.8 830.4,203.8 832.7,203.8 835.1,203.8 837.4,203.8 839.7,203.8 842.0,203.8 844.3,203.8 846.7,203.8 849.0,203.8 851.3,203.8 853.6,203.8 856.0,203.8 858.3,203.8 860.6,203.8 862.9,203.8 865.3,203.8 867.6,203.8 869.9,203.8 872.2,203.8 874.6,203.8 876.9,203.8 879.2,203.8 881.5,203.8 883.9,203.8 886.2,203.8 888.5,203.8 890.8,203.8 893.2,203.8 895.5,203.8 897.8,203.8 900.1,203.8 902.5,203.8 904.8,203.8 907.1,203.8 909.4,203.8 911.8,203.8 914.1,203.8 916.4,203.8 918.7,203.8 921.1,203.8 923.4,203.8 925.7,203.8 928.0,203.8 930.4,203.8 932.7,203.8 935.0,203.8 937.3,203.8 939.6,203.8 942.0,203.8" fill="none" stroke="rgba(0,0,0,0.5)" stroke-width="4.0" stroke-linejoin="round" stroke-linecap="round"/>
<polyline points="107.5,203.8 109.8,203.8 112.2,203.8 114.5,203.8 116.8,203.8 119.1,203.8 121.5,203.8 123.8,203.8 126.1,203.8 128.4,203.8 130.8,203.8 133.1,203.8 135.4,203.8 137.7,203.8 140.1,203.8 142.4,203.8 144.7,203.8 147.0,203.8 149.4,203.8 151.7,203.8 154.0,203.8 156.3,203.8 158.7,203.8 161.0,203.8 163.3,203.8 165.6,203.8 168.0,203.8 170.3,203.8 172.6,203.8 174.9,203.8 177.3,203.8 179.6,203.8 181.9,203.8 184.2,203.8 186.6,203.8 188.9,203.8 191.2,203.8 193.5,203.8 195.8,203.8 198.2,203.8 200.5,203.8 202.8,203.8 205.1,203.8 207.5,203.8 209.8,203.8 212.1,203.8 214.4,203.8 216.8,203.8 219.1,203.8 221.4,203.8 223.7,203.8 226.1,203.8 228.4,203.8 230.7,203.8 233.0,203.8 235.4,203.8 237.7,203.8 240.0,203.8 242.3,203.8 244.7,203.8 247.0,203.8 249.3,203.8 251.6,203.8 254.0,203.8 256.3,203.8 258.6,203.8 260.9,203.8 263.3,203.8 265.6,203.8 267.9,203.8 270.2,203.8 272.6,203.8 274.9,203.8 277.2,203.8 279.5,203.8 281.9,203.8 284.2,203.8 286.5,203.8 288.8,203.8 291.1,203.8 293.5,203.8 295.8,203.8 298.1,203.8 300.4,203.8 302.8,203.8 305.1,203.8 307.4,203.8 309.7,203.8 312.1,203.8 314.4,203.8 316.7,203.8 319.0,203.8 321.4,203.8 323.7,203.8 326.0,203.8 328.3,203.8 330.7,203.8 333.0,203.8 335.3,203.8 337.6,203.8 340.0,203.8 342.3,203.8 344.6,203.8 346.9,203.8 349.3,203.8 351.6,203.8 353.9,203.8 356.2,203.8 358.6,203.8 360.9,203.8 363.2,203.8 365.5,203.8 367.9,203.8 370.2,203.8 372.5,203.8 374.8,203.8 377.2,203.8 379.5,203.8 381.8,203.8 384.1,203.8 386.4,203.8 388.8,203.8 391.1,203.8 393.4,203.8 395.7,203.8 398.1,203.8 400.4,203.8 402.7,203.8 405.0,203.8 407.4,203.8 409.7,203.8 412.0,203.8 414.3,203.8 416.7,203.8 419.0,203.8 421.3,203.8 423.6,203.8 426.0,203.8 428.3,203.8 430.6,203.8 432.9,203.8 435.3,203.8 437.6,203.8 439.9,203.8 442.2,203.8 444.6,203.8 446.9,203.8 449.2,203.8 451.5,203.8 453.9,203.8 456.2,203.8 458.5,203.8 460.8,203.8 463.2,203.8 465.5,203.8 467.8,203.8 470.1,203.8 472.4,203.8 474.8,203.8 477.1,203.8 479.4,203.8 481.7,203.8 484.1,203.8 486.4,203.8 488.7,203.8 491.0,203.8 493.4,203.8 495.7,203.8 498.0,203.8 500.3,203.8 502.7,203.8 505.0,203.8 507.3,203.8 509.6,203.8 512.0,203.8 514.3,203.8 516.6,203.8 518.9,203.8 521.3,203.8 523.6,203.8 525.9,203.8 528.2,203.8 530.6,203.8 532.9,203.8 535.2,203.8 537.5,203.8 539.9,203.8 542.2,203.8 544.5,203.8 546.8,203.8 549.2,203.8 551.5,203.8 553.8,203.8 556.1,203.8 558.5,203.7 560.8,203.6 563.1,203.5 565.4,203.2 567.7,202.8 570.1,202.2 572.4,201.5 574.7,200.6 577.0,199.4 579.4,198.1 581.7,196.4 584.0,194.5 586.3,192.2 588.7,189.7 591.0,186.7 593.3,183.4 595.6,179.7 598.0,175.5 600.3,171.0 602.6,166.1 604.9,160.9 607.3,155.4 609.6,149.9 611.9,144.2 614.2,138.5 616.6,132.9 618.9,127.4 621.2,122.1 623.5,117.0 625.9,112.3 628.2,107.9 630.5,104.0 632.8,100.6 635.2,97.8 637.5,95.7 639.8,94.3 642.1,93.7 644.5,93.9 646.8,94.9 649.1,96.7 651.4,99.1 653.8,102.2 656.1,105.8 658.4,109.9 660.7,114.4 663.0,119.2 665.4,124.3 667.7,129.7 670.0,135.2 672.3,140.8 674.7,146.4 677.0,152.0 679.3,157.4 681.6,162.8 684.0,167.8 686.3,172.6 688.6,177.0 690.9,181.0 693.3,184.5 695.6,187.7 697.9,190.5 700.2,193.0 702.6,195.1 704.9,196.9 707.2,198.5 709.5,199.8 711.9,200.9 714.2,201.7 716.5,202.4 718.8,202.9 721.2,203.3 723.5,203.5 725.8,203.7 728.1,203.8 730.5,203.8 732.8,203.8 735.1,203.8 737.4,203.8 739.8,203.8 742.1,203.8 744.4,203.8 746.7,203.8 749.0,203.8 751.4,203.8 753.7,203.8 756.0,203.8 758.3,203.8 760.7,203.8 763.0,203.8 765.3,203.8 767.6,203.8 770.0,203.8 772.3,203.8 774.6,203.8 776.9,203.8 779.3,203.8 781.6,203.8 783.9,203.8 786.2,203.8 788.6,203.8 790.9,203.8 793.2,203.8 795.5,203.8 797.9,203.8 800.2,203.8 802.5,203.8 804.8,203.8 807.2,203.8 809.5,203.8 811.8,203.8 814.1,203.8 816.5,203.8 818.8,203.8 821.1,203.8 823.4,203.8 825.8,203.8 828.1,203.8 830.4,203.8 832.7,203.8 835.1,203.8 837.4,203.8 839.7,203.8 842.0,203.8 844.3,203.8 846.7,203.8 849.0,203.8 851.3,203.8 853.6,203.8 856.0,203.8 858.3,203.8 860.6,203.8 862.9,203.8 865.3,203.8 867.6,203.8 869.9,203.8 872.2,203.8 874.6,203.8 876.9,203.8 879.2,203.8 881.5,203.8 883.9,203.8 886.2,203.8 888.5,203.8 890.8,203.8 893.2,203.8 895.5,203.8 897.8,203.8 900.1,203.8 902.5,203.8 904.8,203.8 907.1,203.8 909.4,203.8 911.8,203.8 914.1,203.8 916.4,203.8 918.7,203.8 921.1,203.8 923.4,203.8 925.7,203.8 928.0,203.8 930.4,203.8 932.7,203.8 935.0,203.8 937.3,203.8 939.6,203.8 942.0,203.8" fill="none" stroke="rgba(0,0,0,0.5)" stroke-width="4.0" stroke-linejoin="round" stroke-linecap="round"/>
<polyline points="107.5,203.8 109.8,203.8 112.2,203.8 114.5,203.8 116.8,203.8 119.1,203.8 121.5,203.8 123.8,203.8 126.1,203.8 128.4,203.8 130.8,203.8 133.1,203.8 135.4,203.8 137.7,203.8 140.1,203.8 142.4,203.8 144.7,203.8 147.0,203.8 149.4,203.8 151.7,203.8 154.0,203.8 156.3,203.8 158.7,203.8 161.0,203.8 163.3,203.8 165.6,203.8 168.0,203.8 170.3,203.8 172.6,203.8 174.9,203.8 177.3,203.8 179.6,203.8 181.9,203.8 184.2,203.8 186.6,203.8 188.9,203.8 191.2,203.8 193.5,203.8 195.8,203.8 198.2,203.8 200.5,203.8 202.8,203.8 205.1,203.8 207.5,203.8 209.8,203.8 212.1,203.8 214.4,203.8 216.8,203.8 219.1,203.8 221.4,203.8 223.7,203.8 226.1,203.8 228.4,203.8 230.7,203.8 233.0,203.8 235.4,203.8 237.7,203.8 240.0,203.8 242.3,203.8 244.7,203.8 247.0,203.8 249.3,203.8 251.6,203.8 254.0,203.8 256.3,203.8 258.6,203.8 260.9,203.8 263.3,203.8 265.6,203.8 267.9,203.8 270.2,203.8 272.6,203.8 274.9,203.8 277.2,203.8 279.5,203.8 281.9,203.8 284.2,203.8 286.5,203.8 288.8,203.8 291.1,203.8 293.5,203.8 295.8,203.8 298.1,203.8 300.4,203.8 302.8,203.8 305.1,203.8 307.4,203.8 309.7,203.8 312.1,203.8 314.4,203.8 316.7,203.8 319.0,203.8 321.4,203.8 323.7,203.8 326.0,203.8 328.3,203.8 330.7,203.8 333.0,203.8 335.3,203.8 337.6,203.8 340.0,203.8 342.3,203.8 344.6,203.8 346.9,203.8 349.3,203.8 351.6,203.8 353.9,203.8 356.2,203.8 358.6,203.8 360.9,203.8 363.2,203.8 365.5,203.8 367.9,203.8 370.2,203.8 372.5,203.8 374.8,203.8 377.2,203.8 379.5,203.8 381.8,203.8 384.1,203.8 386.4,203.8 388.8,203.8 391.1,203.8 393.4,203.8 395.7,203.8 398.1,203.8 400.4,203.8 402.7,203.8 405.0,203.8 407.4,203.8 409.7,203.8 412.0,203.8 414.3,203.8 416.7,203.8 419.0,203.8 421.3,203.8 423.6,203.8 426.0,203.8 428.3,203.8 430.6,203.8 432.9,203.8 435.3,203.8 437.6,203.8 439.9,203.8 442.2,203.8 444.6,203.8 446.9,203.8 449.2,203.8 451.5,203.8 453.9,203.8 456.2,203.8 458.5,203.8 460.8,203.8 463.2,203.8 465.5,203.8 467.8,203.8 470.1,203.8 472.4,203.8 474.8,203.8 477.1,203.8 479.4,203.8 481.7,203.8 484.1,203.8 486.4,203.8 488.7,203.8 491.0,203.8 493.4,203.8 495.7,203.8 498.0,203.8 500.3,203.8 502.7,203.8 505.0,203.8 507.3,203.8 509.6,203.8 512.0,203.8 514.3,203.8 516.6,203.8 518.9,203.8 521.3,203.8 523.6,203.8 525.9,203.8 528.2,203.8 530.6,203.8 532.9,203.8 535.2,203.8 537.5,203.8 539.9,203.8 542.2,203.8 544.5,203.8 546.8,203.8 549.2,203.8 551.5,203.8 553.8,203.8 556.1,203.8 558.5,203.8 560.8,203.8 563.1,203.8 565.4,203.8 567.7,203.8 570.1,203.8 572.4,203.8 574.7,203.8 577.0,203.8 579.4,203.8 581.7,203.8 584.0,203.8 586.3,203.8 588.7,203.8 591.0,203.8 593.3,203.8 595.6,203.8 598.0,203.8 600.3,203.8 602.6,203.8 604.9,203.7 607.3,203.5 609.6,203.2 611.9,202.9 614.2,202.3 616.6,201.7 618.9,200.8 621.2,199.7 623.5,198.4 625.9,196.9 628.2,195.0 630.5,192.9 632.8,190.4 635.2,187.7 637.5,184.5 639.8,181.0 642.1,177.0 644.5,172.7 646.8,167.9 649.1,162.9 651.4,157.6 653.8,152.1 656.1,146.5 658.4,140.9 660.7,135.3 663.0,129.8 665.4,124.5 667.7,119.4 670.0,114.5 672.3,110.0 674.7,106.0 677.0,102.4 679.3,99.3 681.6,96.9 684.0,95.2 686.3,94.2 688.6,94.0 690.9,94.7 693.3,96.1 695.6,98.4 697.9,101.3 700.2,104.8 702.6,108.9 704.9,113.4 707.2,118.3 709.5,123.5 711.9,129.0 714.2,134.6 716.5,140.4 718.8,146.2 721.2,152.0 723.5,157.6 725.8,163.1 728.1,168.4 730.5,173.3 732.8,177.8 735.1,181.9 737.4,185.5 739.8,188.7 742.1,191.5 744.4,194.0 746.7,196.0 749.0,197.8 751.4,199.3 753.7,200.5 756.0,201.5 758.3,202.2 760.7,202.8 763.0,203.2 765.3,203.5 767.6,203.7 770.0,203.8 772.3,203.8 774.6,203.8 776.9,203.8 779.3,203.8 781.6,203.8 783.9,203.8 786.2,203.8 788.6,203.8 790.9,203.8 793.2,203.8 795.5,203.8 797.9,203.8 800.2,203.8 802.5,203.8 804.8,203.8 807.2,203.8 809.5,203.8 811.8,203.8 814.1,203.8 816.5,203.8 818.8,203.8 821.1,203.8 823.4,203.8 825.8,203.8 828.1,203.8 830.4,203.8 832.7,203.8 835.1,203.8 837.4,203.8 839.7,203.8 842.0,203.8 844.3,203.8 846.7,203.8 849.0,203.8 851.3,203.8 853.6,203.8 856.0,203.8 858.3,203.8 860.6,203.8 862.9,203.8 865.3,203.8 867.6,203.8 869.9,203.8 872.2,203.8 874.6,203.8 876.9,203.8 879.2,203.8 881.5,203.8 883.9,203.8 886.2,203.8 888.5,203.8 890.8,203.8 893.2,203.8 895.5,203.8 897.8,203.8 900.1,203.8 902.5,203.8 904.8,203.8 907.1,203.8 909.4,203.8 911.8,203.8 914.1,203.8 916.4,203.8 918.7,203.8 921.1,203.8 923.4,203.8 925.7,203.8 928.0,203.8 930.4,203.8 932.7,203.8 935.0,203.8 937.3,203.8 939.6,203.8 942.0,203.8" fill="none" stroke="rgba(0,0,0,0.5)" stroke-width="4.0" stroke-linejoin="round" stroke-linecap="round"/>
<polyline points="107.5,203.8 109.8,203.8 112.2,203.8 114.5,203.8 116.8,203.8 119.1,203.8 121.5,203.8 123.8,203.8 126.1,203.8 128.4,203.8 130.8,203.8 133.1,203.8 135.4,203.8 137.7,203.8 140.1,203.8 142.4,203.8 144.7,203.8 147.0,203.8 149.4,203.8 151.7,203.8 154.0,203.8 156.3,203.8 158.7,203.8 161.0,203.8 163.3,203.8 165.6,203.8 168.0,203.8 170.3,203.8 172.6,203.8 174.9,203.8 177.3,203.8 179.6,203.8 181.9,203.8 184.2,203.8 186.6,203.8 188.9,203.8 191.2,203.8 193.5,203.8 195.8,203.8 198.2,203.8 200.5,203.8 202.8,203.8 205.1,203.8 207.5,203.8 209.8,203.8 212.1,203.8 214.4,203.8 216.8,203.8 219.1,203.8 221.4,203.8 223.7,203.8 226.1,203.8 228.4,203.8 230.7,203.8 233.0,203.8 235.4,203.8 237.7,203.8 240.0,203.8 242.3,203.8 244.7,203.8 247.0,203.8 249.3,203.8 251.6,203.8 254.0,203.8 256.3,203.8 258.6,203.8 260.9,203.8 263.3,203.8 265.6,203.8 267.9,203.8 270.2,203.8 272.6,203.8 274.9,203.8 277.2,203.8 279.5,203.8 281.9,203.8 284.2,203.8 286.5,203.8 288.8,203.8 291.1,203.8 293.5,203.8 295.8,203.8 298.1,203.8 300.4,203.8 302.8,203.8 305.1,203.8 307.4,203.8 309.7,203.8 312.1,203.8 314.4,203.8 316.7,203.8 319.0,203.8 321.4,203.8 323.7,203.8 326.0,203.8 328.3,203.8 330.7,203.8 333.0,203.8 335.3,203.8 337.6,203.8 340.0,203.8 342.3,203.8 344.6,203.8 346.9,203.8 349.3,203.8 351.6,203.8 353.9,203.8 356.2,203.8 358.6,203.8 360.9,203.8 363.2,203.8 365.5,203.8 367.9,203.8 370.2,203.8 372.5,203.8 374.8,203.8 377.2,203.8 379.5,203.8 381.8,203.8 384.1,203.8 386.4,203.8 388.8,203.8 391.1,203.8 393.4,203.8 395.7,203.8 398.1,203.8 400.4,203.8 402.7,203.8 405.0,203.8 407.4,203.8 409.7,203.8 412.0,203.8 414.3,203.8 416.7,203.8 419.0,203.8 421.3,203.8 423.6,203.8 426.0,203.8 428.3,203.8 430.6,203.8 432.9,203.8 435.3,203.8 437.6,203.8 439.9,203.8 442.2,203.8 444.6,203.8 446.9,203.8 449.2,203.8 451.5,203.8 453.9,203.8 456.2,203.8 458.5,203.8 460.8,203.8 463.2,203.8 465.5,203.8 467.8,203.8 470.1,203.8 472.4,203.8 474.8,203.8 477.1,203.8 479.4,203.8 481.7,203.8 484.1,203.8 486.4,203.8 488.7,203.8 491.0,203.8 493.4,203.8 495.7,203.8 498.0,203.8 500.3,203.8 502.7,203.8 505.0,203.8 507.3,203.8 509.6,203.8 512.0,203.8 514.3,203.8 516.6,203.8 518.9,203.8 521.3,203.8 523.6,203.8 525.9,203.8 528.2,203.8 530.6,203.8 532.9,203.8 535.2,203.8 537.5,203.8 539.9,203.8 542.2,203.8 544.5,203.8 546.8,203.8 549.2,203.8 551.5,203.8 553.8,203.8 556.1,203.8 558.5,203.8 560.8,203.8 563.1,203.8 565.4,203.8 567.7,203.8 570.1,203.8 572.4,203.8 574.7,203.8 577.0,203.8 579.4,203.8 581.7,203.8 584.0,203.8 586.3,203.8 588.7,203.8 591.0,203.8 593.3,203.8 595.6,203.8 598.0,203.8 600.3,203.8 602.6,203.8 604.9,203.8 607.3,203.8 609.6,203.8 611.9,203.8 614.2,203.8 616.6,203.8 618.9,203.8 621.2,203.8 623.5,203.8 625.9,203.8 628.2,203.8 630.5,203.8 632.8,203.8 635.2,203.8 637.5,203.8 639.8,203.8 642.1,203.8 644.5,203.8 646.8,203.8 649.1,203.7 651.4,203.6 653.8,203.4 656.1,203.0 658.4,202.6 660.7,201.9 663.0,201.2 665.4,200.2 667.7,198.9 670.0,197.5 672.3,195.8 674.7,193.7 677.0,191.4 679.3,188.8 681.6,185.7 684.0,182.4 686.3,178.6 688.6,174.3 690.9,169.7 693.3,164.7 695.6,159.3 697.9,153.8 700.2,148.0 702.6,142.2 704.9,136.4 707.2,130.7 709.5,125.1 711.9,119.7 714.2,114.5 716.5,109.8 718.8,105.5 721.2,101.7 723.5,98.4 725.8,95.9 728.1,94.0 730.5,93.0 732.8,92.9 735.1,93.6 737.4,95.3 739.8,97.8 742.1,101.1 744.4,104.9 746.7,109.4 749.0,114.3 751.4,119.6 753.7,125.3 756.0,131.2 758.3,137.2 760.7,143.3 763.0,149.4 765.3,155.4 767.6,161.3 770.0,166.8 772.3,172.1 774.6,176.9 776.9,181.2 779.3,185.0 781.6,188.4 783.9,191.3 786.2,193.9 788.6,196.0 790.9,197.9 793.2,199.4 795.5,200.6 797.9,201.6 800.2,202.3 802.5,202.9 804.8,203.3 807.2,203.6 809.5,203.7 811.8,203.8 814.1,203.8 816.5,203.8 818.8,203.8 821.1,203.8 823.4,203.8 825.8,203.8 828.1,203.8 830.4,203.8 832.7,203.8 835.1,203.8 837.4,203.8 839.7,203.8 842.0,203.8 844.3,203.8 846.7,203.8 849.0,203.8 851.3,203.8 853.6,203.8 856.0,203.8 858.3,203.8 860.6,203.8 862.9,203.8 865.3,203.8 867.6,203.8 869.9,203.8 872.2,203.8 874.6,203.8 876.9,203.8 879.2,203.8 881.5,203.8 883.9,203.8 886.2,203.8 888.5,203.8 890.8,203.8 893.2,203.8 895.5,203.8 897.8,203.8 900.1,203.8 902.5,203.8 904.8,203.8 907.1,203.8 909.4,203.8 911.8,203.8 914.1,203.8 916.4,203.8 918.7,203.8 921.1,203.8 923.4,203.8 925.7,203.8 928.0,203.8 930.4,203.8 932.7,203.8 935.0,203.8 937.3,203.8 939.6,203.8 942.0,203.8" fill="none" stroke="rgba(0,0,0,0.5)" stroke-width="4.0" stroke-linejoin="round" stroke-linecap="round"/>
<polyline points="107.5,203.8 109.8,203.8 112.2,203.8 114.5,203.8 116.8,203.8 119.1,203.8 121.5,203.8 123.8,203.8 126.1,203.8 128.4,203.8 130.8,203.8 133.1,203.8 135.4,203.8 137.7,203.8 140.1,203.8 142.4,203.8 144.7,203.8 147.0,203.8 149.4,203.8 151.7,203.8 154.0,203.8 156.3,203.8 158.7,203.8 161.0,203.8 163.3,203.8 165.6,203.8 168.0,203.8 170.3,203.8 172.6,203.8 174.9,203.8 177.3,203.8 179.6,203.8 181.9,203.8 184.2,203.8 186.6,203.8 188.9,203.8 191.2,203.8 193.5,203.8 195.8,203.8 198.2,203.8 200.5,203.8 202.8,203.8 205.1,203.8 207.5,203.8 209.8,203.8 212.1,203.8 214.4,203.8 216.8,203.8 219.1,203.8 221.4,203.8 223.7,203.8 226.1,203.8 228.4,203.8 230.7,203.8 233.0,203.8 235.4,203.8 237.7,203.8 240.0,203.8 242.3,203.8 244.7,203.8 247.0,203.8 249.3,203.8 251.6,203.8 254.0,203.8 256.3,203.8 258.6,203.8 260.9,203.8 263.3,203.8 265.6,203.8 267.9,203.8 270.2,203.8 272.6,203.8 274.9,203.8 277.2,203.8 279.5,203.8 281.9,203.8 284.2,203.8 286.5,203.8 288.8,203.8 291.1,203.8 293.5,203.8 295.8,203.8 298.1,203.8 300.4,203.8 302.8,203.8 305.1,203.8 307.4,203.8 309.7,203.8 312.1,203.8 314.4,203.8 316.7,203.8 319.0,203.8 321.4,203.8 323.7,203.8 326.0,203.8 328.3,203.8 330.7,203.8 333.0,203.8 335.3,203.8 337.6,203.8 340.0,203.8 342.3,203.8 344.6,203.8 346.9,203.8 349.3,203.8 351.6,203.8 353.9,203.8 356.2,203.8 358.6,203.8 360.9,203.8 363.2,203.8 365.5,203.8 367.9,203.8 370.2,203.8 372.5,203.8 374.8,203.8 377.2,203.8 379.5,203.8 381.8,203.8 384.1,203.8 386.4,203.8 388.8,203.8 391.1,203.8 393.4,203.8 395.7,203.8 398.1,203.8 400.4,203.8 402.7,203.8 405.0,203.8 407.4,203.8 409.7,203.8 412.0,203.8 414.3,203.8 416.7,203.8 419.0,203.8 421.3,203.8 423.6,203.8 426.0,203.8 428.3,203.8 430.6,203.8 432.9,203.8 435.3,203.8 437.6,203.8 439.9,203.8 442.2,203.8 444.6,203.8 446.9,203.8 449.2,203.8 451.5,203.8 453.9,203.8 456.2,203.8 458.5,203.8 460.8,203.8 463.2,203.8 465.5,203.8 467.8,203.8 470.1,203.8 472.4,203.8 474.8,203.8 477.1,203.8 479.4,203.8 481.7,203.8 484.1,203.8 486.4,203.8 488.7,203.8 491.0,203.8 493.4,203.8 495.7,203.8 498.0,203.8 500.3,203.8 502.7,203.8 505.0,203.8 507.3,203.8 509.6,203.8 512.0,203.8 514.3,203.8 516.6,203.8 518.9,203.8 521.3,203.8 523.6,203.8 525.9,203.8 528.2,203.8 530.6,203.8 532.9,203.8 535.2,203.8 537.5,203.8 539.9,203.8 542.2,203.8 544.5,203.8 546.8,203.8 549.2,203.8 551.5,203.8 553.8,203.8 556.1,203.8 558.5,203.8 560.8,203.8 563.1,203.8 565.4,203.8 567.7,203.8 570.1,203.8 572.4,203.8 574.7,203.8 577.0,203.8 579.4,203.8 581.7,203.8 584.0,203.8 586.3,203.8 588.7,203.8 591.0,203.8 593.3,203.8 595.6,203.8 598.0,203.8 600.3,203.8 602.6,203.8 604.9,203.8 607.3,203.8 609.6,203.8 611.9,203.8 614.2,203.8 616.6,203.8 618.9,203.8 621.2,203.8 623.5,203.8 625.9,203.8 628.2,203.8 630.5,203.8 632.8,203.8 635.2,203.8 637.5,203.8 639.8,203.8 642.1,203.8 644.5,203.8 646.8,203.8 649.1,203.8 651.4,203.8 653.8,203.8 656.1,203.8 658.4,203.8 660.7,203.8 663.0,203.8 665.4,203.8 667.7,203.8 670.0,203.8 672.3,203.8 674.7,203.8 677.0,203.8 679.3,203.8 681.6,203.8 684.0,203.8 686.3,203.8 688.6,203.8 690.9,203.8 693.3,203.8 695.6,203.7 697.9,203.5 700.2,203.3 702.6,202.9 704.9,202.4 707.2,201.7 709.5,200.7 711.9,199.6 714.2,198.2 716.5,196.5 718.8,194.5 721.2,192.2 723.5,189.5 725.8,186.4 728.1,182.9 730.5,179.0 732.8,174.6 735.1,169.8 737.4,164.5 739.8,158.9 742.1,153.0 744.4,147.0 746.7,140.8 749.0,134.7 751.4,128.7 753.7,122.9 756.0,117.3 758.3,112.0 760.7,107.2 763.0,103.0 765.3,99.3 767.6,96.3 770.0,94.1 772.3,92.7 774.6,92.3 776.9,92.9 779.3,94.5 781.6,96.9 783.9,100.1 786.2,104.0 788.6,108.5 790.9,113.5 793.2,119.0 795.5,124.8 797.9,130.8 800.2,137.0 802.5,143.2 804.8,149.4 807.2,155.6 809.5,161.5 811.8,167.1 814.1,172.4 816.5,177.2 818.8,181.5 821.1,185.3 823.4,188.6 825.8,191.5 828.1,194.0 830.4,196.2 832.7,198.0 835.1,199.5 837.4,200.7 839.7,201.7 842.0,202.4 844.3,202.9 846.7,203.3 849.0,203.6 851.3,203.7 853.6,203.8 856.0,203.8 858.3,203.8 860.6,203.8 862.9,203.8 865.3,203.8 867.6,203.8 869.9,203.8 872.2,203.8 874.6,203.8 876.9,203.8 879.2,203.8 881.5,203.8 883.9,203.8 886.2,203.8 888.5,203.8 890.8,203.8 893.2,203.8 895.5,203.8 897.8,203.8 900.1,203.8 902.5,203.8 904.8,203.8 907.1,203.8 909.4,203.8 911.8,203.8 914.1,203.8 916.4,203.8 918.7,203.8 921.1,203.8 923.4,203.8 925.7,203.8 928.0,203.8 930.4,203.8 932.7,203.8 935.0,203.8 937.3,203.8 939.6,203.8 942.0,203.8" fill="none" stroke="rgba(0,0,0,0.5)" stroke-width="4.0" stroke-linejoin="round" stroke-linecap="round"/>
<polyline points="107.5,203.8 109.8,203.8 112.2,203.8 114.5,203.8 116.8,203.8 119.1,203.8 121.5,203.8 123.8,203.8 126.1,203.8 128.4,203.8 130.8,203.8 133.1,203.8 135.4,203.8 137.7,203.8 140.1,203.8 142.4,203.8 144.7,203.8 147.0,203.8 149.4,203.8 151.7,203.8 154.0,203.8 156.3,203.8 158.7,203.8 161.0,203.8 163.3,203.8 165.6,203.8 168.0,203.8 170.3,203.8 172.6,203.8 174.9,203.8 177.3,203.8 179.6,203.8 181.9,203.8 184.2,203.8 186.6,203.8 188.9,203.8 191.2,203.8 193.5,203.8 195.8,203.8 198.2,203.8 200.5,203.8 202.8,203.8 205.1,203.8 207.5,203.8 209.8,203.8 212.1,203.8 214.4,203.8 216.8,203.8 219.1,203.8 221.4,203.8 223.7,203.8 226.1,203.8 228.4,203.8 230.7,203.8 233.0,203.8 235.4,203.8 237.7,203.8 240.0,203.8 242.3,203.8 244.7,203.8 247.0,203.8 249.3,203.8 251.6,203.8 254.0,203.8 256.3,203.8 258.6,203.8 260.9,203.8 263.3,203.8 265.6,203.8 267.9,203.8 270.2,203.8 272.6,203.8 274.9,203.8 277.2,203.8 279.5,203.8 281.9,203.8 284.2,203.8 286.5,203.8 288.8,203.8 291.1,203.8 293.5,203.8 295.8,203.8 298.1,203.8 300.4,203.8 302.8,203.8 305.1,203.8 307.4,203.8 309.7,203.8 312.1,203.8 314.4,203.8 316.7,203.8 319.0,203.8 321.4,203.8 323.7,203.8 326.0,203.8 328.3,203.8 330.7,203.8 333.0,203.8 335.3,203.8 337.6,203.8 340.0,203.8 342.3,203.8 344.6,203.8 346.9,203.8 349.3,203.8 351.6,203.8 353.9,203.8 356.2,203.8 358.6,203.8 360.9,203.8 363.2,203.8 365.5,203.8 367.9,203.8 370.2,203.8 372.5,203.8 374.8,203.8 377.2,203.8 379.5,203.8 381.8,203.8 384.1,203.8 386.4,203.8 388.8,203.8 391.1,203.8 393.4,203.8 395.7,203.8 398.1,203.8 400.4,203.8 402.7,203.8 405.0,203.8 407.4,203.8 409.7,203.8 412.0,203.8 414.3,203.8 416.7,203.8 419.0,203.8 421.3,203.8 423.6,203.8 426.0,203.8 428.3,203.8 430.6,203.8 432.9,203.8 435.3,203.8 437.6,203.8 439.9,203.8 442.2,203.8 444.6,203.8 446.9,203.8 449.2,203.8 451.5,203.8 453.9,203.8 456.2,203.8 458.5,203.8 460.8,203.8 463.2,203.8 465.5,203.8 467.8,203.8 470.1,203.8 472.4,203.8 474.8,203.8 477.1,203.8 479.4,203.8 481.7,203.8 484.1,203.8 486.4,203.8 488.7,203.8 491.0,203.8 493.4,203.8 495.7,203.8 498.0,203.8 500.3,203.8 502.7,203.8 505.0,203.8 507.3,203.8 509.6,203.8 512.0,203.8 514.3,203.8 516.6,203.8 518.9,203.8 521.3,203.8 523.6,203.8 525.9,203.8 528.2,203.8 530.6,203.8 532.9,203.8 535.2,203.8 537.5,203.8 539.9,203.8 542.2,203.8 544.5,203.8 546.8,203.8 549.2,203.8 551.5,203.8 553.8,203.8 556.1,203.8 558.5,203.8 560.8,203.8 563.1,203.8 565.4,203.8 567.7,203.8 570.1,203.8 572.4,203.8 574.7,203.8 577.0,203.8 579.4,203.8 581.7,203.8 584.0,203.8 586.3,203.8 588.7,203.8 591.0,203.8 593.3,203.8 595.6,203.8 598.0,203.8 600.3,203.8 602.6,203.8 604.9,203.8 607.3,203.8 609.6,203.8 611.9,203.8 614.2,203.8 616.6,203.8 618.9,203.8 621.2,203.8 623.5,203.8 625.9,203.8 628.2,203.8 630.5,203.8 632.8,203.8 635.2,203.8 637.5,203.8 639.8,203.8 642.1,203.8 644.5,203.8 646.8,203.8 649.1,203.8 651.4,203.8 653.8,203.8 656.1,203.8 658.4,203.8 660.7,203.8 663.0,203.8 665.4,203.8 667.7,203.8 670.0,203.8 672.3,203.8 674.7,203.8 677.0,203.8 679.3,203.8 681.6,203.8 684.0,203.8 686.3,203.8 688.6,203.8 690.9,203.8 693.3,203.8 695.6,203.8 697.9,203.8 700.2,203.8 702.6,203.8 704.9,203.8 707.2,203.8 709.5,203.8 711.9,203.8 714.2,203.8 716.5,203.8 718.8,203.8 721.2,203.8 723.5,203.8 725.8,203.8 728.1,203.8 730.5,203.8 732.8,203.8 735.1,203.8 737.4,203.8 739.8,203.7 742.1,203.5 744.4,203.3 746.7,202.8 749.0,202.2 751.4,201.5 753.7,200.4 756.0,199.2 758.3,197.6 760.7,195.7 763.0,193.5 765.3,190.9 767.6,187.9 770.0,184.4 772.3,180.5 774.6,176.1 776.9,171.2 779.3,165.8 781.6,160.1 783.9,154.2 786.2,148.0 788.6,141.8 790.9,135.5 793.2,129.4 795.5,123.4 797.9,117.7 800.2,112.4 802.5,107.5 804.8,103.1 807.2,99.4 809.5,96.4 811.8,94.1 814.1,92.8 816.5,92.5 818.8,93.1 821.1,94.7 823.4,97.2 825.8,100.3 828.1,104.2 830.4,108.6 832.7,113.6 835.1,118.9 837.4,124.6 839.7,130.5 842.0,136.6 844.3,142.8 846.7,148.9 849.0,154.9 851.3,160.7 853.6,166.3 856.0,171.5 858.3,176.2 860.6,180.5 862.9,184.3 865.3,187.6 867.6,190.6 869.9,193.2 872.2,195.4 874.6,197.2 876.9,198.8 879.2,200.1 881.5,201.2 883.9,202.0 886.2,202.6 888.5,203.1 890.8,203.4 893.2,203.6 895.5,203.7 897.8,203.8 900.1,203.8 902.5,203.8 904.8,203.8 907.1,203.8 909.4,203.8 911.8,203.8 914.1,203.8 916.4,203.8 918.7,203.8 921.1,203.8 923.4,203.8 925.7,203.8 928.0,203.8 930.4,203.8 932.7,203.8 935.0,203.8 937.3,203.8 939.6,203.8 942.0,203.8" fill="none" stroke="rgba(0,0,0,0.5)" stroke-width="4.0" stroke-linejoin="round" stroke-linecap="round"/>
<polyline points="107.5,203.8 109.8,203.8 112.2,203.8 114.5,203.8 116.8,203.8 119.1,203.8 121.5,203.8 123.8,203.8 126.1,203.8 128.4,203.8 130.8,203.8 133.1,203.8 135.4,203.8 137.7,203.8 140.1,203.8 142.4,203.8 144.7,203.8 147.0,203.8 149.4,203.8 151.7,203.8 154.0,203.8 156.3,203.8 158.7,203.8 161.0,203.8 163.3,203.8 165.6,203.8 168.0,203.8 170.3,203.8 172.6,203.8 174.9,203.8 177.3,203.8 179.6,203.8 181.9,203.8 184.2,203.8 186.6,203.8 188.9,203.8 191.2,203.8 193.5,203.8 195.8,203.8 198.2,203.8 200.5,203.8 202.8,203.8 205.1,203.8 207.5,203.8 209.8,203.8 212.1,203.8 214.4,203.8 216.8,203.8 219.1,203.8 221.4,203.8 223.7,203.8 226.1,203.8 228.4,203.8 230.7,203.8 233.0,203.8 235.4,203.8 237.7,203.8 240.0,203.8 242.3,203.8 244.7,203.8 247.0,203.8 249.3,203.8 251.6,203.8 254.0,203.8 256.3,203.8 258.6,203.8 260.9,203.8 263.3,203.8 265.6,203.8 267.9,203.8 270.2,203.8 272.6,203.8 274.9,203.8 277.2,203.8 279.5,203.8 281.9,203.8 284.2,203.8 286.5,203.8 288.8,203.8 291.1,203.8 293.5,203.8 295.8,203.8 298.1,203.8 300.4,203.8 302.8,203.8 305.1,203.8 307.4,203.8 309.7,203.8 312.1,203.8 314.4,203.8 316.7,203.8 319.0,203.8 321.4,203.8 323.7,203.8 326.0,203.8 328.3,203.8 330.7,203.8 333.0,203.8 335.3,203.8 337.6,203.8 340.0,203.8 342.3,203.8 344.6,203.8 346.9,203.8 349.3,203.8 351.6,203.8 353.9,203.8 356.2,203.8 358.6,203.8 360.9,203.8 363.2,203.8 365.5,203.8 367.9,203.8 370.2,203.8 372.5,203.8 374.8,203.8 377.2,203.8 379.5,203.8 381.8,203.8 384.1,203.8 386.4,203.8 388.8,203.8 391.1,203.8 393.4,203.8 395.7,203.8 398.1,203.8 400.4,203.8 402.7,203.8 405.0,203.8 407.4,203.8 409.7,203.8 412.0,203.8 414.3,203.8 416.7,203.8 419.0,203.8 421.3,203.8 423.6,203.8 426.0,203.8 428.3,203.8 430.6,203.8 432.9,203.8 435.3,203.8 437.6,203.8 439.9,203.8 442.2,203.8 444.6,203.8 446.9,203.8 449.2,203.8 451.5,203.8 453.9,203.8 456.2,203.8 458.5,203.8 460.8,203.8 463.2,203.8 465.5,203.8 467.8,203.8 470.1,203.8 472.4,203.8 474.8,203.8 477.1,203.8 479.4,203.8 481.7,203.8 484.1,203.8 486.4,203.8 488.7,203.8 491.0,203.8 493.4,203.8 495.7,203.8 498.0,203.8 500.3,203.8 502.7,203.8 505.0,203.8 507.3,203.8 509.6,203.8 512.0,203.8 514.3,203.8 516.6,203.8 518.9,203.8 521.3,203.8 523.6,203.8 525.9,203.8 528.2,203.8 530.6,203.8 532.9,203.8 535.2,203.8 537.5,203.8 539.9,203.8 542.2,203.8 544.5,203.8 546.8,203.8 549.2,203.8 551.5,203.8 553.8,203.8 556.1,203.8 558.5,203.8 560.8,203.8 563.1,203.8 565.4,203.8 567.7,203.8 570.1,203.8 572.4,203.8 574.7,203.8 577.0,203.8 579.4,203.8 581.7,203.8 584.0,203.8 586.3,203.8 588.7,203.8 591.0,203.8 593.3,203.8 595.6,203.8 598.0,203.8 600.3,203.8 602.6,203.8 604.9,203.8 607.3,203.8 609.6,203.8 611.9,203.8 614.2,203.8 616.6,203.8 618.9,203.8 621.2,203.8 623.5,203.8 625.9,203.8 628.2,203.8 630.5,203.8 632.8,203.8 635.2,203.8 637.5,203.8 639.8,203.8 642.1,203.8 644.5,203.8 646.8,203.8 649.1,203.8 651.4,203.8 653.8,203.8 656.1,203.8 658.4,203.8 660.7,203.8 663.0,203.8 665.4,203.8 667.7,203.8 670.0,203.8 672.3,203.8 674.7,203.8 677.0,203.8 679.3,203.8 681.6,203.8 684.0,203.8 686.3,203.8 688.6,203.8 690.9,203.8 693.3,203.8 695.6,203.8 697.9,203.8 700.2,203.8 702.6,203.8 704.9,203.8 707.2,203.8 709.5,203.8 711.9,203.8 714.2,203.8 716.5,203.8 718.8,203.8 721.2,203.8 723.5,203.8 725.8,203.8 728.1,203.8 730.5,203.8 732.8,203.8 735.1,203.8 737.4,203.8 739.8,203.8 742.1,203.8 744.4,203.8 746.7,203.8 749.0,203.8 751.4,203.8 753.7,203.8 756.0,203.8 758.3,203.8 760.7,203.8 763.0,203.8 765.3,203.8 767.6,203.8 770.0,203.8 772.3,203.8 774.6,203.8 776.9,203.8 779.3,203.8 781.6,203.7 783.9,203.5 786.2,203.2 788.6,202.8 790.9,202.2 793.2,201.4 795.5,200.3 797.9,199.0 800.2,197.4 802.5,195.5 804.8,193.3 807.2,190.6 809.5,187.6 811.8,184.1 814.1,180.1 816.5,175.7 818.8,170.7 821.1,165.4 823.4,159.7 825.8,153.8 828.1,147.8 830.4,141.6 832.7,135.5 835.1,129.5 837.4,123.7 839.7,118.2 842.0,113.0 844.3,108.3 846.7,104.1 849.0,100.5 851.3,97.6 853.6,95.4 856.0,94.2 858.3,93.9 860.6,94.5 862.9,96.0 865.3,98.4 867.6,101.4 869.9,105.2 872.2,109.4 874.6,114.2 876.9,119.4 879.2,124.9 881.5,130.6 883.9,136.6 886.2,142.6 888.5,148.6 890.8,154.5 893.2,160.3 895.5,165.9 897.8,171.1 900.1,176.0 902.5,180.4 904.8,184.3 907.1,187.7 909.4,190.7 911.8,193.3 914.1,195.6 916.4,197.4 918.7,199.0 921.1,200.3 923.4,201.4 925.7,202.2 928.0,202.8 930.4,203.2 932.7,203.5 935.0,203.7 937.3,203.8 939.6,203.8 942.0,203.8" fill="none" stroke="rgba(0,0,0,0.5)" stroke-width="4.0" stroke-linejoin="round" stroke-linecap="round"/>
<polyline points="107.5,203.8 109.8,203.8 112.2,203.8 114.5,203.8 116.8,203.8 119.1,203.8 121.5,203.8 123.8,203.8 126.1,203.8 128.4,203.8 130.8,203.8 133.1,203.8 135.4,203.8 137.7,203.8 140.1,203.8 142.4,203.8 144.7,203.8 147.0,203.8 149.4,203.8 151.7,203.8 154.0,203.8 156.3,203.8 158.7,203.8 161.0,203.8 163.3,203.8 165.6,203.8 168.0,203.8 170.3,203.8 172.6,203.8 174.9,203.8 177.3,203.8 179.6,203.8 181.9,203.8 184.2,203.8 186.6,203.8 188.9,203.8 191.2,203.8 193.5,203.8 195.8,203.8 198.2,203.8 200.5,203.8 202.8,203.8 205.1,203.8 207.5,203.8 209.8,203.8 212.1,203.8 214.4,203.8 216.8,203.8 219.1,203.8 221.4,203.8 223.7,203.8 226.1,203.8 228.4,203.8 230.7,203.8 233.0,203.8 235.4,203.8 237.7,203.8 240.0,203.8 242.3,203.8 244.7,203.8 247.0,203.8 249.3,203.8 251.6,203.8 254.0,203.8 256.3,203.8 258.6,203.8 260.9,203.8 263.3,203.8 265.6,203.8 267.9,203.8 270.2,203.8 272.6,203.8 274.9,203.8 277.2,203.8 279.5,203.8 281.9,203.8 284.2,203.8 286.5,203.8 288.8,203.8 291.1,203.8 293.5,203.8 295.8,203.8 298.1,203.8 300.4,203.8 302.8,203.8 305.1,203.8 307.4,203.8 309.7,203.8 312.1,203.8 314.4,203.8 316.7,203.8 319.0,203.8 321.4,203.8 323.7,203.8 326.0,203.8 328.3,203.8 330.7,203.8 333.0,203.8 335.3,203.8 337.6,203.8 340.0,203.8 342.3,203.8 344.6,203.8 346.9,203.8 349.3,203.8 351.6,203.8 353.9,203.8 356.2,203.8 358.6,203.8 360.9,203.8 363.2,203.8 365.5,203.8 367.9,203.8 370.2,203.8 372.5,203.8 374.8,203.8 377.2,203.8 379.5,203.8 381.8,203.8 384.1,203.8 386.4,203.8 388.8,203.8 391.1,203.8 393.4,203.8 395.7,203.8 398.1,203.8 400.4,203.8 402.7,203.8 405.0,203.8 407.4,203.8 409.7,203.8 412.0,203.8 414.3,203.8 416.7,203.8 419.0,203.8 421.3,203.8 423.6,203.8 426.0,203.8 428.3,203.8 430.6,203.8 432.9,203.8 435.3,203.8 437.6,203.8 439.9,203.8 442.2,203.8 444.6,203.8 446.9,203.8 449.2,203.8 451.5,203.8 453.9,203.8 456.2,203.8 458.5,203.8 460.8,203.8 463.2,203.8 465.5,203.8 467.8,203.8 470.1,203.8 472.4,203.8 474.8,203.8 477.1,203.8 479.4,203.8 481.7,203.8 484.1,203.8 486.4,203.8 488.7,203.8 491.0,203.8 493.4,203.8 495.7,203.8 498.0,203.8 500.3,203.8 502.7,203.8 505.0,203.8 507.3,203.8 509.6,203.8 512.0,203.8 514.3,203.8 516.6,203.8 518.9,203.8 521.3,203.8 523.6,203.8 525.9,203.8 528.2,203.8 530.6,203.8 532.9,203.8 535.2,203.8 537.5,203.8 539.9,203.8 542.2,203.8 544.5,203.8 546.8,203.8 549.2,203.8 551.5,203.8 553.8,203.8 556.1,203.8 558.5,203.8 560.8,203.8 563.1,203.8 565.4,203.8 567.7,203.8 570.1,203.8 572.4,203.8 574.7,203.8 577.0,203.8 579.4,203.8 581.7,203.8 584.0,203.8 586.3,203.8 588.7,203.8 591.0,203.8 593.3,203.8 595.6,203.8 598.0,203.8 600.3,203.8 602.6,203.8 604.9,203.8 607.3,203.8 609.6,203.8 611.9,203.8 614.2,203.8 616.6,203.8 618.9,203.8 621.2,203.8 623.5,203.8 625.9,203.8 628.2,203.8 630.5,203.8 632.8,203.8 635.2,203.8 637.5,203.8 639.8,203.8 642.1,203.8 644.5,203.8 646.8,203.8 649.1,203.8 651.4,203.8 653.8,203.8 656.1,203.8 658.4,203.8 660.7,203.8 663.0,203.8 665.4,203.8 667.7,203.8 670.0,203.8 672.3,203.8 674.7,203.8 677.0,203.8 679.3,203.8 681.6,203.8 684.0,203.8 686.3,203.8 688.6,203.8 690.9,203.8 693.3,203.8 695.6,203.8 697.9,203.8 700.2,203.8 702.6,203.8 704.9,203.8 707.2,203.8 709.5,203.8 711.9,203.8 714.2,203.8 716.5,203.8 718.8,203.8 721.2,203.8 723.5,203.8 725.8,203.8 728.1,203.8 730.5,203.8 732.8,203.8 735.1,203.8 737.4,203.8 739.8,203.8 742.1,203.8 744.4,203.8 746.7,203.8 749.0,203.8 751.4,203.8 753.7,203.8 756.0,203.8 758.3,203.8 760.7,203.8 763.0,203.8 765.3,203.8 767.6,203.8 770.0,203.8 772.3,203.8 774.6,203.8 776.9,203.8 779.3,203.8 781.6,203.8 783.9,203.8 786.2,203.8 788.6,203.8 790.9,203.8 793.2,203.8 795.5,203.8 797.9,203.8 800.2,203.8 802.5,203.8 804.8,203.8 807.2,203.8 809.5,203.8 811.8,203.8 814.1,203.8 816.5,203.8 818.8,203.8 821.1,203.7 823.4,203.6 825.8,203.4 828.1,203.1 830.4,202.6 832.7,202.0 835.1,201.1 837.4,200.0 839.7,198.7 842.0,197.1 844.3,195.1 846.7,192.8 849.0,190.2 851.3,187.1 853.6,183.6 856.0,179.7 858.3,175.2 860.6,170.3 862.9,165.1 865.3,159.6 867.6,153.8 869.9,148.0 872.2,142.2 874.6,136.5 876.9,131.0 879.2,125.8 881.5,121.0 883.9,116.6 886.2,112.8 888.5,109.7 890.8,107.3 893.2,105.7 895.5,105.1 897.8,105.5 900.1,107.1 902.5,109.9 904.8,113.8 907.1,118.7 909.4,124.4 911.8,130.9 914.1,137.8 916.4,145.2 918.7,152.7 921.1,160.2 923.4,167.7 925.7,174.8 928.0,181.6 930.4,187.7 932.7,193.1 935.0,197.5 937.3,200.9 939.6,203.0 942.0,203.8" fill="none" stroke="rgba(0,0,0,0.5)" stroke-width="4.0" stroke-linejoin="round" stroke-linecap="round"/>
<polyline points="107.5,203.8 109.8,203.8 112.2,203.8 114.5,203.8 116.8,203.8 119.1,203.8 121.5,203.8 123.8,203.8 126.1,203.8 128.4,203.8 130.8,203.8 133.1,203.8 135.4,203.8 137.7,203.8 140.1,203.8 142.4,203.8 144.7,203.8 147.0,203.8 149.4,203.8 151.7,203.8 154.0,203.8 156.3,203.8 158.7,203.8 161.0,203.8 163.3,203.8 165.6,203.8 168.0,203.8 170.3,203.8 172.6,203.8 174.9,203.8 177.3,203.8 179.6,203.8 181.9,203.8 184.2,203.8 186.6,203.8 188.9,203.8 191.2,203.8 193.5,203.8 195.8,203.8 198.2,203.8 200.5,203.8 202.8,203.8 205.1,203.8 207.5,203.8 209.8,203.8 212.1,203.8 214.4,203.8 216.8,203.8 219.1,203.8 221.4,203.8 223.7,203.8 226.1,203.8 228.4,203.8 230.7,203.8 233.0,203.8 235.4,203.8 237.7,203.8 240.0,203.8 242.3,203.8 244.7,203.8 247.0,203.8 249.3,203.8 251.6,203.8 254.0,203.8 256.3,203.8 258.6,203.8 260.9,203.8 263.3,203.8 265.6,203.8 267.9,203.8 270.2,203.8 272.6,203.8 274.9,203.8 277.2,203.8 279.5,203.8 281.9,203.8 284.2,203.8 286.5,203.8 288.8,203.8 291.1,203.8 293.5,203.8 295.8,203.8 298.1,203.8 300.4,203.8 302.8,203.8 305.1,203.8 307.4,203.8 309.7,203.8 312.1,203.8 314.4,203.8 316.7,203.8 319.0,203.8 321.4,203.8 323.7,203.8 326.0,203.8 328.3,203.8 330.7,203.8 333.0,203.8 335.3,203.8 337.6,203.8 340.0,203.8 342.3,203.8 344.6,203.8 346.9,203.8 349.3,203.8 351.6,203.8 353.9,203.8 356.2,203.8 358.6,203.8 360.9,203.8 363.2,203.8 365.5,203.8 367.9,203.8 370.2,203.8 372.5,203.8 374.8,203.8 377.2,203.8 379.5,203.8 381.8,203.8 384.1,203.8 386.4,203.8 388.8,203.8 391.1,203.8 393.4,203.8 395.7,203.8 398.1,203.8 400.4,203.8 402.7,203.8 405.0,203.8 407.4,203.8 409.7,203.8 412.0,203.8 414.3,203.8 416.7,203.8 419.0,203.8 421.3,203.8 423.6,203.8 426.0,203.8 428.3,203.8 430.6,203.8 432.9,203.8 435.3,203.8 437.6,203.8 439.9,203.8 442.2,203.8 444.6,203.8 446.9,203.8 449.2,203.8 451.5,203.8 453.9,203.8 456.2,203.8 458.5,203.8 460.8,203.8 463.2,203.8 465.5,203.8 467.8,203.8 470.1,203.8 472.4,203.8 474.8,203.8 477.1,203.8 479.4,203.8 481.7,203.8 484.1,203.8 486.4,203.8 488.7,203.8 491.0,203.8 493.4,203.8 495.7,203.8 498.0,203.8 500.3,203.8 502.7,203.8 505.0,203.8 507.3,203.8 509.6,203.8 512.0,203.8 514.3,203.8 516.6,203.8 518.9,203.8 521.3,203.8 523.6,203.8 525.9,203.8 528.2,203.8 530.6,203.8 532.9,203.8 535.2,203.8 537.5,203.8 539.9,203.8 542.2,203.8 544.5,203.8 546.8,203.8 549.2,203.8 551.5,203.8 553.8,203.8 556.1,203.8 558.5,203.8 560.8,203.8 563.1,203.8 565.4,203.8 567.7,203.8 570.1,203.8 572.4,203.8 574.7,203.8 577.0,203.8 579.4,203.8 581.7,203.8 584.0,203.8 586.3,203.8 588.7,203.8 591.0,203.8 593.3,203.8 595.6,203.8 598.0,203.8 600.3,203.8 602.6,203.8 604.9,203.8 607.3,203.8 609.6,203.8 611.9,203.8 614.2,203.8 616.6,203.8 618.9,203.8 621.2,203.8 623.5,203.8 625.9,203.8 628.2,203.8 630.5,203.8 632.8,203.8 635.2,203.8 637.5,203.8 639.8,203.8 642.1,203.8 644.5,203.8 646.8,203.8 649.1,203.8 651.4,203.8 653.8,203.8 656.1,203.8 658.4,203.8 660.7,203.8 663.0,203.8 665.4,203.8 667.7,203.8 670.0,203.8 672.3,203.8 674.7,203.8 677.0,203.8 679.3,203.8 681.6,203.8 684.0,203.8 686.3,203.8 688.6,203.8 690.9,203.8 693.3,203.8 695.6,203.8 697.9,203.8 700.2,203.8 702.6,203.8 704.9,203.8 707.2,203.8 709.5,203.8 711.9,203.8 714.2,203.8 716.5,203.8 718.8,203.8 721.2,203.8 723.5,203.8 725.8,203.8 728.1,203.8 730.5,203.8 732.8,203.8 735.1,203.8 737.4,203.8 739.8,203.8 742.1,203.8 744.4,203.8 746.7,203.8 749.0,203.8 751.4,203.8 753.7,203.8 756.0,203.8 758.3,203.8 760.7,203.8 763.0,203.8 765.3,203.8 767.6,203.8 770.0,203.8 772.3,203.8 774.6,203.8 776.9,203.8 779.3,203.8 781.6,203.8 783.9,203.8 786.2,203.8 788.6,203.8 790.9,203.8 793.2,203.8 795.5,203.8 797.9,203.8 800.2,203.8 802.5,203.8 804.8,203.8 807.2,203.8 809.5,203.8 811.8,203.8 814.1,203.8 816.5,203.8 818.8,203.8 821.1,203.8 823.4,203.8 825.8,203.8 828.1,203.8 830.4,203.8 832.7,203.8 835.1,203.8 837.4,203.8 839.7,203.8 842.0,203.8 844.3,203.8 846.7,203.8 849.0,203.8 851.3,203.8 853.6,203.8 856.0,203.8 858.3,203.8 860.6,203.8 862.9,203.7 865.3,203.5 867.6,203.2 869.9,202.7 872.2,202.0 874.6,201.1 876.9,199.8 879.2,198.3 881.5,196.3 883.9,193.9 886.2,191.1 888.5,187.7 890.8,183.9 893.2,179.4 895.5,174.4 897.8,168.6 900.1,162.2 902.5,155.1 904.8,147.4 907.1,139.5 909.4,131.6 911.8,124.1 914.1,117.3 916.4,111.5 918.7,107.0 921.1,104.2 923.4,103.3 925.7,104.6 928.0,108.6 930.4,115.4 932.7,125.4 935.0,138.9 937.3,156.3 939.6,177.8 942.0,203.8" fill="none" stroke="rgba(0,0,0,0.5)" stroke-width="4.0" stroke-linejoin="round" stroke-linecap="round"/>
<polyline points="107.5,203.8 109.8,203.8 112.2,203.8 114.5,203.8 116.8,203.8 119.1,203.8 121.5,203.8 123.8,203.8 126.1,203.8 128.4,203.8 130.8,203.8 133.1,203.8 135.4,203.8 137.7,203.8 140.1,203.8 142.4,203.8 144.7,203.8 147.0,203.8 149.4,203.8 151.7,203.8 154.0,203.8 156.3,203.8 158.7,203.8 161.0,203.8 163.3,203.8 165.6,203.8 168.0,203.8 170.3,203.8 172.6,203.8 174.9,203.8 177.3,203.8 179.6,203.8 181.9,203.8 184.2,203.8 186.6,203.8 188.9,203.8 191.2,203.8 193.5,203.8 195.8,203.8 198.2,203.8 200.5,203.8 202.8,203.8 205.1,203.8 207.5,203.8 209.8,203.8 212.1,203.8 214.4,203.8 216.8,203.8 219.1,203.8 221.4,203.8 223.7,203.8 226.1,203.8 228.4,203.8 230.7,203.8 233.0,203.8 235.4,203.8 237.7,203.8 240.0,203.8 242.3,203.8 244.7,203.8 247.0,203.8 249.3,203.8 251.6,203.8 254.0,203.8 256.3,203.8 258.6,203.8 260.9,203.8 263.3,203.8 265.6,203.8 267.9,203.8 270.2,203.8 272.6,203.8 274.9,203.8 277.2,203.8 279.5,203.8 281.9,203.8 284.2,203.8 286.5,203.8 288.8,203.8 291.1,203.8 293.5,203.8 295.8,203.8 298.1,203.8 300.4,203.8 302.8,203.8 305.1,203.8 307.4,203.8 309.7,203.8 312.1,203.8 314.4,203.8 316.7,203.8 319.0,203.8 321.4,203.8 323.7,203.8 326.0,203.8 328.3,203.8 330.7,203.8 333.0,203.8 335.3,203.8 337.6,203.8 340.0,203.8 342.3,203.8 344.6,203.8 346.9,203.8 349.3,203.8 351.6,203.8 353.9,203.8 356.2,203.8 358.6,203.8 360.9,203.8 363.2,203.8 365.5,203.8 367.9,203.8 370.2,203.8 372.5,203.8 374.8,203.8 377.2,203.8 379.5,203.8 381.8,203.8 384.1,203.8 386.4,203.8 388.8,203.8 391.1,203.8 393.4,203.8 395.7,203.8 398.1,203.8 400.4,203.8 402.7,203.8 405.0,203.8 407.4,203.8 409.7,203.8 412.0,203.8 414.3,203.8 416.7,203.8 419.0,203.8 421.3,203.8 423.6,203.8 426.0,203.8 428.3,203.8 430.6,203.8 432.9,203.8 435.3,203.8 437.6,203.8 439.9,203.8 442.2,203.8 444.6,203.8 446.9,203.8 449.2,203.8 451.5,203.8 453.9,203.8 456.2,203.8 458.5,203.8 460.8,203.8 463.2,203.8 465.5,203.8 467.8,203.8 470.1,203.8 472.4,203.8 474.8,203.8 477.1,203.8 479.4,203.8 481.7,203.8 484.1,203.8 486.4,203.8 488.7,203.8 491.0,203.8 493.4,203.8 495.7,203.8 498.0,203.8 500.3,203.8 502.7,203.8 505.0,203.8 507.3,203.8 509.6,203.8 512.0,203.8 514.3,203.8 516.6,203.8 518.9,203.8 521.3,203.8 523.6,203.8 525.9,203.8 528.2,203.8 530.6,203.8 532.9,203.8 535.2,203.8 537.5,203.8 539.9,203.8 542.2,203.8 544.5,203.8 546.8,203.8 549.2,203.8 551.5,203.8 553.8,203.8 556.1,203.8 558.5,203.8 560.8,203.8 563.1,203.8 565.4,203.8 567.7,203.8 570.1,203.8 572.4,203.8 574.7,203.8 577.0,203.8 579.4,203.8 581.7,203.8 584.0,203.8 586.3,203.8 588.7,203.8 591.0,203.8 593.3,203.8 595.6,203.8 598.0,203.8 600.3,203.8 602.6,203.8 604.9,203.8 607.3,203.8 609.6,203.8 611.9,203.8 614.2,203.8 616.6,203.8 618.9,203.8 621.2,203.8 623.5,203.8 625.9,203.8 628.2,203.8 630.5,203.8 632.8,203.8 635.2,203.8 637.5,203.8 639.8,203.8 642.1,203.8 644.5,203.8 646.8,203.8 649.1,203.8 651.4,203.8 653.8,203.8 656.1,203.8 658.4,203.8 660.7,203.8 663.0,203.8 665.4,203.8 667.7,203.8 670.0,203.8 672.3,203.8 674.7,203.8 677.0,203.8 679.3,203.8 681.6,203.8 684.0,203.8 686.3,203.8 688.6,203.8 690.9,203.8 693.3,203.8 695.6,203.8 697.9,203.8 700.2,203.8 702.6,203.8 704.9,203.8 707.2,203.8 709.5,203.8 711.9,203.8 714.2,203.8 716.5,203.8 718.8,203.8 721.2,203.8 723.5,203.8 725.8,203.8 728.1,203.8 730.5,203.8 732.8,203.8 735.1,203.8 737.4,203.8 739.8,203.8 742.1,203.8 744.4,203.8 746.7,203.8 749.0,203.8 751.4,203.8 753.7,203.8 756.0,203.8 758.3,203.8 760.7,203.8 763.0,203.8 765.3,203.8 767.6,203.8 770.0,203.8 772.3,203.8 774.6,203.8 776.9,203.8 779.3,203.8 781.6,203.8 783.9,203.8 786.2,203.8 788.6,203.8 790.9,203.8 793.2,203.8 795.5,203.8 797.9,203.8 800.2,203.8 802.5,203.8 804.8,203.8 807.2,203.8 809.5,203.8 811.8,203.8 814.1,203.8 816.5,203.8 818.8,203.8 821.1,203.8 823.4,203.8 825.8,203.8 828.1,203.8 830.4,203.8 832.7,203.8 835.1,203.8 837.4,203.8 839.7,203.8 842.0,203.8 844.3,203.8 846.7,203.8 849.0,203.8 851.3,203.8 853.6,203.8 856.0,203.8 858.3,203.8 860.6,203.8 862.9,203.8 865.3,203.8 867.6,203.8 869.9,203.8 872.2,203.8 874.6,203.8 876.9,203.8 879.2,203.8 881.5,203.8 883.9,203.8 886.2,203.8 888.5,203.8 890.8,203.8 893.2,203.8 895.5,203.8 897.8,203.8 900.1,203.8 902.5,203.8 904.8,203.7 907.1,203.3 909.4,202.4 911.8,200.8 914.1,198.4 916.4,195.0 918.7,190.4 921.1,184.4 923.4,176.8 925.7,167.5 928.0,156.2 930.4,142.8 932.7,127.1 935.0,109.0 937.3,88.1 939.6,64.4 942.0,37.7" fill="none" stroke="rgba(0,0,0,0.5)" stroke-width="4.0" stroke-linejoin="round" stroke-linecap="round"/>
<path d="M376.7 37.8 V203" stroke="#0a5cb0" stroke-width="4.8" stroke-dasharray="3.4 14.5" stroke-linecap="round"/>
<circle cx="376.7" cy="203.8" r="5.7" fill="#0a5cb0"/>
<circle cx="376.7" cy="203.8" r="5.7" fill="#0a5cb0"/>
<circle cx="376.7" cy="198.4" r="5.7" fill="#0a5cb0"/>
<circle cx="376.7" cy="108.8" r="5.7" fill="#0a5cb0"/>
<circle cx="376.7" cy="138.6" r="5.7" fill="#0a5cb0"/>
<circle cx="376.7" cy="203.3" r="5.7" fill="#0a5cb0"/>
<circle cx="376.7" cy="203.8" r="5.7" fill="#0a5cb0"/>
<circle cx="376.7" cy="203.8" r="5.7" fill="#0a5cb0"/>
<circle cx="376.7" cy="203.8" r="5.7" fill="#0a5cb0"/>
<circle cx="376.7" cy="203.8" r="5.7" fill="#0a5cb0"/>
<circle cx="376.7" cy="203.8" r="5.7" fill="#0a5cb0"/>
<circle cx="376.7" cy="203.8" r="5.7" fill="#0a5cb0"/>
<circle cx="376.7" cy="203.8" r="5.7" fill="#0a5cb0"/>
<circle cx="376.7" cy="203.8" r="5.7" fill="#0a5cb0"/>
<circle cx="376.7" cy="203.8" r="5.7" fill="#0a5cb0"/>
<circle cx="376.7" cy="203.8" r="5.7" fill="#0a5cb0"/>
<circle cx="376.7" cy="203.8" r="5.7" fill="#0a5cb0"/>
<defs><clipPath id="c2"><rect x="74" y="341.0" width="902" height="197.89999999999998"/></clipPath></defs>
<path d="M74.2 341.0 V538.9 H976" fill="none" stroke="#000" stroke-width="1.6"/>
<path d="M99.2 538.9 H931.6" stroke="#000" stroke-width="1" fill="none"/>
<path d="M99.2 538.9 v4.7" stroke="#000" stroke-width="1.6"/>
<text transform="translate(99.2 576.85) scale(0.985 1.045)" class="tl" text-anchor="middle">800</text>
<path d="M237.9 538.9 v4.7" stroke="#000" stroke-width="1.6"/>
<text transform="translate(237.9 576.85) scale(0.985 1.045)" class="tl" text-anchor="middle">1000</text>
<path d="M376.7 538.9 v4.7" stroke="#000" stroke-width="1.6"/>
<text transform="translate(376.7 576.85) scale(0.985 1.045)" class="tl" text-anchor="middle">1200</text>
<path d="M515.4 538.9 v4.7" stroke="#000" stroke-width="1.6"/>
<text transform="translate(515.4 576.85) scale(0.985 1.045)" class="tl" text-anchor="middle">1400</text>
<path d="M654.1 538.9 v4.7" stroke="#000" stroke-width="1.6"/>
<text transform="translate(654.1 576.85) scale(0.985 1.045)" class="tl" text-anchor="middle">1600</text>
<path d="M792.8 538.9 v4.7" stroke="#000" stroke-width="1.6"/>
<text transform="translate(792.8 576.85) scale(0.985 1.045)" class="tl" text-anchor="middle">1800</text>
<path d="M931.6 538.9 v4.7" stroke="#000" stroke-width="1.6"/>
<text transform="translate(931.6 576.85) scale(0.985 1.045)" class="tl" text-anchor="middle">2000</text>
<text x="525" y="604.85" class="al" text-anchor="middle">year</text>
<path d="M74.2 440.2 h-4.7" stroke="#000" stroke-width="1.6"/>
<text transform="translate(54.2 440.2) rotate(-90) scale(0.985 1.045)" class="tl" text-anchor="middle">0</text>
<text transform="translate(25.6 440.2) rotate(-90)" class="al" text-anchor="middle">basis * weight</text>
<path d="M73.9 440.5 H976" stroke="#000" stroke-width="1.15" stroke-dasharray="8 8"/>
<path d="M99.3 349.6 h16.4 M107.5 341.6 v16" stroke="#000" stroke-width="1.5"/>
<path d="M254.7 349.6 h16.4 M262.9 341.6 v16" stroke="#000" stroke-width="1.5"/>
<path d="M350.4 349.6 h16.4 M358.6 341.6 v16" stroke="#000" stroke-width="1.5"/>
<path d="M416.3 349.6 h16.4 M424.5 341.6 v16" stroke="#000" stroke-width="1.5"/>
<path d="M491.2 349.6 h16.4 M499.4 341.6 v16" stroke="#000" stroke-width="1.5"/>
<path d="M544.6 349.6 h16.4 M552.8 341.6 v16" stroke="#000" stroke-width="1.5"/>
<path d="M589.0 349.6 h16.4 M597.2 341.6 v16" stroke="#000" stroke-width="1.5"/>
<path d="M634.1 349.6 h16.4 M642.3 341.6 v16" stroke="#000" stroke-width="1.5"/>
<path d="M680.6 349.6 h16.4 M688.8 341.6 v16" stroke="#000" stroke-width="1.5"/>
<path d="M725.0 349.6 h16.4 M733.2 341.6 v16" stroke="#000" stroke-width="1.5"/>
<path d="M766.6 349.6 h16.4 M774.8 341.6 v16" stroke="#000" stroke-width="1.5"/>
<path d="M807.5 349.6 h16.4 M815.7 341.6 v16" stroke="#000" stroke-width="1.5"/>
<path d="M849.1 349.6 h16.4 M857.3 341.6 v16" stroke="#000" stroke-width="1.5"/>
<path d="M892.8 349.6 h16.4 M901.0 341.6 v16" stroke="#000" stroke-width="1.5"/>
<path d="M933.8 349.6 h16.4 M942.0 341.6 v16" stroke="#000" stroke-width="1.5"/>
<g clip-path="url(#c2)">
<polyline points="107.5,490.8 109.8,488.6 112.2,486.4 114.5,484.3 116.8,482.2 119.1,480.3 121.5,478.4 123.8,476.5 126.1,474.7 128.4,473.0 130.8,471.3 133.1,469.7 135.4,468.1 137.7,466.6 140.1,465.2 142.4,463.8 144.7,462.5 147.0,461.2 149.4,459.9 151.7,458.8 154.0,457.6 156.3,456.5 158.7,455.5 161.0,454.5 163.3,453.5 165.6,452.6 168.0,451.7 170.3,450.9 172.6,450.1 174.9,449.4 177.3,448.7 179.6,448.0 181.9,447.4 184.2,446.8 186.6,446.2 188.9,445.7 191.2,445.2 193.5,444.7 195.8,444.3 198.2,443.9 200.5,443.5 202.8,443.1 205.1,442.8 207.5,442.5 209.8,442.2 212.1,442.0 214.4,441.7 216.8,441.5 219.1,441.3 221.4,441.2 223.7,441.0 226.1,440.9 228.4,440.8 230.7,440.6 233.0,440.6 235.4,440.5 237.7,440.4 240.0,440.4 242.3,440.3 244.7,440.3 247.0,440.3 249.3,440.2 251.6,440.2 254.0,440.2 256.3,440.2 258.6,440.2 260.9,440.2 263.3,440.2 265.6,440.2 267.9,440.2 270.2,440.2 272.6,440.2 274.9,440.2 277.2,440.2 279.5,440.2 281.9,440.2 284.2,440.2 286.5,440.2 288.8,440.2 291.1,440.2 293.5,440.2 295.8,440.2 298.1,440.2 300.4,440.2 302.8,440.2 305.1,440.2 307.4,440.2 309.7,440.2 312.1,440.2 314.4,440.2 316.7,440.2 319.0,440.2 321.4,440.2 323.7,440.2 326.0,440.2 328.3,440.2 330.7,440.2 333.0,440.2 335.3,440.2 337.6,440.2 340.0,440.2 342.3,440.2 344.6,440.2 346.9,440.2 349.3,440.2 351.6,440.2 353.9,440.2 356.2,440.2 358.6,440.2 360.9,440.2 363.2,440.2 365.5,440.2 367.9,440.2 370.2,440.2 372.5,440.2 374.8,440.2 377.2,440.2 379.5,440.2 381.8,440.2 384.1,440.2 386.4,440.2 388.8,440.2 391.1,440.2 393.4,440.2 395.7,440.2 398.1,440.2 400.4,440.2 402.7,440.2 405.0,440.2 407.4,440.2 409.7,440.2 412.0,440.2 414.3,440.2 416.7,440.2 419.0,440.2 421.3,440.2 423.6,440.2 426.0,440.2 428.3,440.2 430.6,440.2 432.9,440.2 435.3,440.2 437.6,440.2 439.9,440.2 442.2,440.2 444.6,440.2 446.9,440.2 449.2,440.2 451.5,440.2 453.9,440.2 456.2,440.2 458.5,440.2 460.8,440.2 463.2,440.2 465.5,440.2 467.8,440.2 470.1,440.2 472.4,440.2 474.8,440.2 477.1,440.2 479.4,440.2 481.7,440.2 484.1,440.2 486.4,440.2 488.7,440.2 491.0,440.2 493.4,440.2 495.7,440.2 498.0,440.2 500.3,440.2 502.7,440.2 505.0,440.2 507.3,440.2 509.6,440.2 512.0,440.2 514.3,440.2 516.6,440.2 518.9,440.2 521.3,440.2 523.6,440.2 525.9,440.2 528.2,440.2 530.6,440.2 532.9,440.2 535.2,440.2 537.5,440.2 539.9,440.2 542.2,440.2 544.5,440.2 546.8,440.2 549.2,440.2 551.5,440.2 553.8,440.2 556.1,440.2 558.5,440.2 560.8,440.2 563.1,440.2 565.4,440.2 567.7,440.2 570.1,440.2 572.4,440.2 574.7,440.2 577.0,440.2 579.4,440.2 581.7,440.2 584.0,440.2 586.3,440.2 588.7,440.2 591.0,440.2 593.3,440.2 595.6,440.2 598.0,440.2 600.3,440.2 602.6,440.2 604.9,440.2 607.3,440.2 609.6,440.2 611.9,440.2 614.2,440.2 616.6,440.2 618.9,440.2 621.2,440.2 623.5,440.2 625.9,440.2 628.2,440.2 630.5,440.2 632.8,440.2 635.2,440.2 637.5,440.2 639.8,440.2 642.1,440.2 644.5,440.2 646.8,440.2 649.1,440.2 651.4,440.2 653.8,440.2 656.1,440.2 658.4,440.2 660.7,440.2 663.0,440.2 665.4,440.2 667.7,440.2 670.0,440.2 672.3,440.2 674.7,440.2 677.0,440.2 679.3,440.2 681.6,440.2 684.0,440.2 686.3,440.2 688.6,440.2 690.9,440.2 693.3,440.2 695.6,440.2 697.9,440.2 700.2,440.2 702.6,440.2 704.9,440.2 707.2,440.2 709.5,440.2 711.9,440.2 714.2,440.2 716.5,440.2 718.8,440.2 721.2,440.2 723.5,440.2 725.8,440.2 728.1,440.2 730.5,440.2 732.8,440.2 735.1,440.2 737.4,440.2 739.8,440.2 742.1,440.2 744.4,440.2 746.7,440.2 749.0,440.2 751.4,440.2 753.7,440.2 756.0,440.2 758.3,440.2 760.7,440.2 763.0,440.2 765.3,440.2 767.6,440.2 770.0,440.2 772.3,440.2 774.6,440.2 776.9,440.2 779.3,440.2 781.6,440.2 783.9,440.2 786.2,440.2 788.6,440.2 790.9,440.2 793.2,440.2 795.5,440.2 797.9,440.2 800.2,440.2 802.5,440.2 804.8,440.2 807.2,440.2 809.5,440.2 811.8,440.2 814.1,440.2 816.5,440.2 818.8,440.2 821.1,440.2 823.4,440.2 825.8,440.2 828.1,440.2 830.4,440.2 832.7,440.2 835.1,440.2 837.4,440.2 839.7,440.2 842.0,440.2 844.3,440.2 846.7,440.2 849.0,440.2 851.3,440.2 853.6,440.2 856.0,440.2 858.3,440.2 860.6,440.2 862.9,440.2 865.3,440.2 867.6,440.2 869.9,440.2 872.2,440.2 874.6,440.2 876.9,440.2 879.2,440.2 881.5,440.2 883.9,440.2 886.2,440.2 888.5,440.2 890.8,440.2 893.2,440.2 895.5,440.2 897.8,440.2 900.1,440.2 902.5,440.2 904.8,440.2 907.1,440.2 909.4,440.2 911.8,440.2 914.1,440.2 916.4,440.2 918.7,440.2 921.1,440.2 923.4,440.2 925.7,440.2 928.0,440.2 930.4,440.2 932.7,440.2 935.0,440.2 937.3,440.2 939.6,440.2 942.0,440.2" fill="none" stroke="rgba(0,0,0,0.5)" stroke-width="4.0" stroke-linejoin="round" stroke-linecap="round"/>
<polyline points="107.5,440.2 109.8,440.6 112.2,441.0 114.5,441.3 116.8,441.7 119.1,442.0 121.5,442.3 123.8,442.6 126.1,442.8 128.4,443.1 130.8,443.3 133.1,443.5 135.4,443.7 137.7,443.9 140.1,444.1 142.4,444.3 144.7,444.4 147.0,444.5 149.4,444.7 151.7,444.8 154.0,444.8 156.3,444.9 158.7,445.0 161.0,445.0 163.3,445.1 165.6,445.1 168.0,445.1 170.3,445.2 172.6,445.2 174.9,445.2 177.3,445.1 179.6,445.1 181.9,445.1 184.2,445.0 186.6,445.0 188.9,444.9 191.2,444.9 193.5,444.8 195.8,444.7 198.2,444.7 200.5,444.6 202.8,444.5 205.1,444.4 207.5,444.3 209.8,444.2 212.1,444.1 214.4,444.0 216.8,443.8 219.1,443.7 221.4,443.6 223.7,443.5 226.1,443.4 228.4,443.2 230.7,443.1 233.0,443.0 235.4,442.9 237.7,442.7 240.0,442.6 242.3,442.5 244.7,442.4 247.0,442.2 249.3,442.1 251.6,442.0 254.0,441.9 256.3,441.8 258.6,441.7 260.9,441.6 263.3,441.5 265.6,441.4 267.9,441.3 270.2,441.2 272.6,441.2 274.9,441.1 277.2,441.0 279.5,440.9 281.9,440.9 284.2,440.8 286.5,440.8 288.8,440.7 291.1,440.7 293.5,440.6 295.8,440.6 298.1,440.5 300.4,440.5 302.8,440.5 305.1,440.4 307.4,440.4 309.7,440.4 312.1,440.4 314.4,440.3 316.7,440.3 319.0,440.3 321.4,440.3 323.7,440.3 326.0,440.3 328.3,440.2 330.7,440.2 333.0,440.2 335.3,440.2 337.6,440.2 340.0,440.2 342.3,440.2 344.6,440.2 346.9,440.2 349.3,440.2 351.6,440.2 353.9,440.2 356.2,440.2 358.6,440.2 360.9,440.2 363.2,440.2 365.5,440.2 367.9,440.2 370.2,440.2 372.5,440.2 374.8,440.2 377.2,440.2 379.5,440.2 381.8,440.2 384.1,440.2 386.4,440.2 388.8,440.2 391.1,440.2 393.4,440.2 395.7,440.2 398.1,440.2 400.4,440.2 402.7,440.2 405.0,440.2 407.4,440.2 409.7,440.2 412.0,440.2 414.3,440.2 416.7,440.2 419.0,440.2 421.3,440.2 423.6,440.2 426.0,440.2 428.3,440.2 430.6,440.2 432.9,440.2 435.3,440.2 437.6,440.2 439.9,440.2 442.2,440.2 444.6,440.2 446.9,440.2 449.2,440.2 451.5,440.2 453.9,440.2 456.2,440.2 458.5,440.2 460.8,440.2 463.2,440.2 465.5,440.2 467.8,440.2 470.1,440.2 472.4,440.2 474.8,440.2 477.1,440.2 479.4,440.2 481.7,440.2 484.1,440.2 486.4,440.2 488.7,440.2 491.0,440.2 493.4,440.2 495.7,440.2 498.0,440.2 500.3,440.2 502.7,440.2 505.0,440.2 507.3,440.2 509.6,440.2 512.0,440.2 514.3,440.2 516.6,440.2 518.9,440.2 521.3,440.2 523.6,440.2 525.9,440.2 528.2,440.2 530.6,440.2 532.9,440.2 535.2,440.2 537.5,440.2 539.9,440.2 542.2,440.2 544.5,440.2 546.8,440.2 549.2,440.2 551.5,440.2 553.8,440.2 556.1,440.2 558.5,440.2 560.8,440.2 563.1,440.2 565.4,440.2 567.7,440.2 570.1,440.2 572.4,440.2 574.7,440.2 577.0,440.2 579.4,440.2 581.7,440.2 584.0,440.2 586.3,440.2 588.7,440.2 591.0,440.2 593.3,440.2 595.6,440.2 598.0,440.2 600.3,440.2 602.6,440.2 604.9,440.2 607.3,440.2 609.6,440.2 611.9,440.2 614.2,440.2 616.6,440.2 618.9,440.2 621.2,440.2 623.5,440.2 625.9,440.2 628.2,440.2 630.5,440.2 632.8,440.2 635.2,440.2 637.5,440.2 639.8,440.2 642.1,440.2 644.5,440.2 646.8,440.2 649.1,440.2 651.4,440.2 653.8,440.2 656.1,440.2 658.4,440.2 660.7,440.2 663.0,440.2 665.4,440.2 667.7,440.2 670.0,440.2 672.3,440.2 674.7,440.2 677.0,440.2 679.3,440.2 681.6,440.2 684.0,440.2 686.3,440.2 688.6,440.2 690.9,440.2 693.3,440.2 695.6,440.2 697.9,440.2 700.2,440.2 702.6,440.2 704.9,440.2 707.2,440.2 709.5,440.2 711.9,440.2 714.2,440.2 716.5,440.2 718.8,440.2 721.2,440.2 723.5,440.2 725.8,440.2 728.1,440.2 730.5,440.2 732.8,440.2 735.1,440.2 737.4,440.2 739.8,440.2 742.1,440.2 744.4,440.2 746.7,440.2 749.0,440.2 751.4,440.2 753.7,440.2 756.0,440.2 758.3,440.2 760.7,440.2 763.0,440.2 765.3,440.2 767.6,440.2 770.0,440.2 772.3,440.2 774.6,440.2 776.9,440.2 779.3,440.2 781.6,440.2 783.9,440.2 786.2,440.2 788.6,440.2 790.9,440.2 793.2,440.2 795.5,440.2 797.9,440.2 800.2,440.2 802.5,440.2 804.8,440.2 807.2,440.2 809.5,440.2 811.8,440.2 814.1,440.2 816.5,440.2 818.8,440.2 821.1,440.2 823.4,440.2 825.8,440.2 828.1,440.2 830.4,440.2 832.7,440.2 835.1,440.2 837.4,440.2 839.7,440.2 842.0,440.2 844.3,440.2 846.7,440.2 849.0,440.2 851.3,440.2 853.6,440.2 856.0,440.2 858.3,440.2 860.6,440.2 862.9,440.2 865.3,440.2 867.6,440.2 869.9,440.2 872.2,440.2 874.6,440.2 876.9,440.2 879.2,440.2 881.5,440.2 883.9,440.2 886.2,440.2 888.5,440.2 890.8,440.2 893.2,440.2 895.5,440.2 897.8,440.2 900.1,440.2 902.5,440.2 904.8,440.2 907.1,440.2 909.4,440.2 911.8,440.2 914.1,440.2 916.4,440.2 918.7,440.2 921.1,440.2 923.4,440.2 925.7,440.2 928.0,440.2 930.4,440.2 932.7,440.2 935.0,440.2 937.3,440.2 939.6,440.2 942.0,440.2" fill="none" stroke="rgba(0,0,0,0.5)" stroke-width="4.0" stroke-linejoin="round" stroke-linecap="round"/>
<polyline points="107.5,440.2 109.8,440.2 112.2,440.2 114.5,440.3 116.8,440.3 119.1,440.4 121.5,440.4 123.8,440.5 126.1,440.6 128.4,440.7 130.8,440.8 133.1,441.0 135.4,441.1 137.7,441.2 140.1,441.4 142.4,441.5 144.7,441.7 147.0,441.9 149.4,442.1 151.7,442.2 154.0,442.4 156.3,442.6 158.7,442.8 161.0,443.0 163.3,443.2 165.6,443.5 168.0,443.7 170.3,443.9 172.6,444.1 174.9,444.3 177.3,444.6 179.6,444.8 181.9,445.0 184.2,445.2 186.6,445.4 188.9,445.7 191.2,445.9 193.5,446.1 195.8,446.3 198.2,446.5 200.5,446.7 202.8,447.0 205.1,447.2 207.5,447.4 209.8,447.5 212.1,447.7 214.4,447.9 216.8,448.1 219.1,448.3 221.4,448.4 223.7,448.6 226.1,448.7 228.4,448.9 230.7,449.0 233.0,449.1 235.4,449.2 237.7,449.3 240.0,449.4 242.3,449.5 244.7,449.5 247.0,449.6 249.3,449.6 251.6,449.6 254.0,449.7 256.3,449.7 258.6,449.6 260.9,449.6 263.3,449.6 265.6,449.5 267.9,449.4 270.2,449.3 272.6,449.2 274.9,449.1 277.2,449.0 279.5,448.8 281.9,448.7 284.2,448.5 286.5,448.4 288.8,448.2 291.1,448.0 293.5,447.8 295.8,447.6 298.1,447.4 300.4,447.1 302.8,446.9 305.1,446.7 307.4,446.5 309.7,446.2 312.1,446.0 314.4,445.8 316.7,445.5 319.0,445.3 321.4,445.0 323.7,444.8 326.0,444.5 328.3,444.3 330.7,444.1 333.0,443.8 335.3,443.6 337.6,443.4 340.0,443.2 342.3,442.9 344.6,442.7 346.9,442.5 349.3,442.3 351.6,442.1 353.9,442.0 356.2,441.8 358.6,441.6 360.9,441.5 363.2,441.4 365.5,441.2 367.9,441.1 370.2,441.0 372.5,440.9 374.8,440.8 377.2,440.7 379.5,440.7 381.8,440.6 384.1,440.5 386.4,440.5 388.8,440.4 391.1,440.4 393.4,440.4 395.7,440.3 398.1,440.3 400.4,440.3 402.7,440.3 405.0,440.2 407.4,440.2 409.7,440.2 412.0,440.2 414.3,440.2 416.7,440.2 419.0,440.2 421.3,440.2 423.6,440.2 426.0,440.2 428.3,440.2 430.6,440.2 432.9,440.2 435.3,440.2 437.6,440.2 439.9,440.2 442.2,440.2 444.6,440.2 446.9,440.2 449.2,440.2 451.5,440.2 453.9,440.2 456.2,440.2 458.5,440.2 460.8,440.2 463.2,440.2 465.5,440.2 467.8,440.2 470.1,440.2 472.4,440.2 474.8,440.2 477.1,440.2 479.4,440.2 481.7,440.2 484.1,440.2 486.4,440.2 488.7,440.2 491.0,440.2 493.4,440.2 495.7,440.2 498.0,440.2 500.3,440.2 502.7,440.2 505.0,440.2 507.3,440.2 509.6,440.2 512.0,440.2 514.3,440.2 516.6,440.2 518.9,440.2 521.3,440.2 523.6,440.2 525.9,440.2 528.2,440.2 530.6,440.2 532.9,440.2 535.2,440.2 537.5,440.2 539.9,440.2 542.2,440.2 544.5,440.2 546.8,440.2 549.2,440.2 551.5,440.2 553.8,440.2 556.1,440.2 558.5,440.2 560.8,440.2 563.1,440.2 565.4,440.2 567.7,440.2 570.1,440.2 572.4,440.2 574.7,440.2 577.0,440.2 579.4,440.2 581.7,440.2 584.0,440.2 586.3,440.2 588.7,440.2 591.0,440.2 593.3,440.2 595.6,440.2 598.0,440.2 600.3,440.2 602.6,440.2 604.9,440.2 607.3,440.2 609.6,440.2 611.9,440.2 614.2,440.2 616.6,440.2 618.9,440.2 621.2,440.2 623.5,440.2 625.9,440.2 628.2,440.2 630.5,440.2 632.8,440.2 635.2,440.2 637.5,440.2 639.8,440.2 642.1,440.2 644.5,440.2 646.8,440.2 649.1,440.2 651.4,440.2 653.8,440.2 656.1,440.2 658.4,440.2 660.7,440.2 663.0,440.2 665.4,440.2 667.7,440.2 670.0,440.2 672.3,440.2 674.7,440.2 677.0,440.2 679.3,440.2 681.6,440.2 684.0,440.2 686.3,440.2 688.6,440.2 690.9,440.2 693.3,440.2 695.6,440.2 697.9,440.2 700.2,440.2 702.6,440.2 704.9,440.2 707.2,440.2 709.5,440.2 711.9,440.2 714.2,440.2 716.5,440.2 718.8,440.2 721.2,440.2 723.5,440.2 725.8,440.2 728.1,440.2 730.5,440.2 732.8,440.2 735.1,440.2 737.4,440.2 739.8,440.2 742.1,440.2 744.4,440.2 746.7,440.2 749.0,440.2 751.4,440.2 753.7,440.2 756.0,440.2 758.3,440.2 760.7,440.2 763.0,440.2 765.3,440.2 767.6,440.2 770.0,440.2 772.3,440.2 774.6,440.2 776.9,440.2 779.3,440.2 781.6,440.2 783.9,440.2 786.2,440.2 788.6,440.2 790.9,440.2 793.2,440.2 795.5,440.2 797.9,440.2 800.2,440.2 802.5,440.2 804.8,440.2 807.2,440.2 809.5,440.2 811.8,440.2 814.1,440.2 816.5,440.2 818.8,440.2 821.1,440.2 823.4,440.2 825.8,440.2 828.1,440.2 830.4,440.2 832.7,440.2 835.1,440.2 837.4,440.2 839.7,440.2 842.0,440.2 844.3,440.2 846.7,440.2 849.0,440.2 851.3,440.2 853.6,440.2 856.0,440.2 858.3,440.2 860.6,440.2 862.9,440.2 865.3,440.2 867.6,440.2 869.9,440.2 872.2,440.2 874.6,440.2 876.9,440.2 879.2,440.2 881.5,440.2 883.9,440.2 886.2,440.2 888.5,440.2 890.8,440.2 893.2,440.2 895.5,440.2 897.8,440.2 900.1,440.2 902.5,440.2 904.8,440.2 907.1,440.2 909.4,440.2 911.8,440.2 914.1,440.2 916.4,440.2 918.7,440.2 921.1,440.2 923.4,440.2 925.7,440.2 928.0,440.2 930.4,440.2 932.7,440.2 935.0,440.2 937.3,440.2 939.6,440.2 942.0,440.2" fill="none" stroke="rgba(0,0,0,0.5)" stroke-width="4.0" stroke-linejoin="round" stroke-linecap="round"/>
<polyline points="107.5,440.2 109.8,440.2 112.2,440.2 114.5,440.2 116.8,440.2 119.1,440.2 121.5,440.2 123.8,440.2 126.1,440.2 128.4,440.1 130.8,440.1 133.1,440.1 135.4,440.1 137.7,440.0 140.1,440.0 142.4,439.9 144.7,439.9 147.0,439.8 149.4,439.7 151.7,439.6 154.0,439.5 156.3,439.4 158.7,439.3 161.0,439.2 163.3,439.1 165.6,438.9 168.0,438.8 170.3,438.6 172.6,438.4 174.9,438.2 177.3,438.0 179.6,437.8 181.9,437.5 184.2,437.3 186.6,437.0 188.9,436.7 191.2,436.4 193.5,436.1 195.8,435.7 198.2,435.4 200.5,435.0 202.8,434.6 205.1,434.2 207.5,433.7 209.8,433.3 212.1,432.8 214.4,432.3 216.8,431.7 219.1,431.2 221.4,430.6 223.7,430.0 226.1,429.4 228.4,428.7 230.7,428.1 233.0,427.4 235.4,426.7 237.7,425.9 240.0,425.1 242.3,424.3 244.7,423.5 247.0,422.6 249.3,421.7 251.6,420.8 254.0,419.8 256.3,418.9 258.6,417.8 260.9,416.8 263.3,415.7 265.6,414.6 267.9,413.5 270.2,412.3 272.6,411.1 274.9,409.9 277.2,408.7 279.5,407.5 281.9,406.2 284.2,405.0 286.5,403.7 288.8,402.5 291.1,401.3 293.5,400.1 295.8,398.9 298.1,397.7 300.4,396.6 302.8,395.4 305.1,394.3 307.4,393.3 309.7,392.3 312.1,391.3 314.4,390.3 316.7,389.5 319.0,388.6 321.4,387.8 323.7,387.1 326.0,386.5 328.3,385.9 330.7,385.4 333.0,384.9 335.3,384.5 337.6,384.3 340.0,384.1 342.3,384.0 344.6,383.9 346.9,384.0 349.3,384.2 351.6,384.5 353.9,384.9 356.2,385.4 358.6,386.0 360.9,386.7 363.2,387.6 365.5,388.5 367.9,389.6 370.2,390.7 372.5,392.0 374.8,393.3 377.2,394.6 379.5,396.1 381.8,397.6 384.1,399.1 386.4,400.7 388.8,402.3 391.1,404.0 393.4,405.6 395.7,407.3 398.1,409.0 400.4,410.7 402.7,412.4 405.0,414.1 407.4,415.7 409.7,417.4 412.0,419.0 414.3,420.5 416.7,422.0 419.0,423.5 421.3,424.9 423.6,426.2 426.0,427.5 428.3,428.6 430.6,429.7 432.9,430.7 435.3,431.7 437.6,432.6 439.9,433.4 442.2,434.2 444.6,434.9 446.9,435.5 449.2,436.1 451.5,436.7 453.9,437.2 456.2,437.6 458.5,438.0 460.8,438.4 463.2,438.7 465.5,438.9 467.8,439.2 470.1,439.4 472.4,439.6 474.8,439.7 477.1,439.8 479.4,439.9 481.7,440.0 484.1,440.1 486.4,440.1 488.7,440.2 491.0,440.2 493.4,440.2 495.7,440.2 498.0,440.2 500.3,440.2 502.7,440.2 505.0,440.2 507.3,440.2 509.6,440.2 512.0,440.2 514.3,440.2 516.6,440.2 518.9,440.2 521.3,440.2 523.6,440.2 525.9,440.2 528.2,440.2 530.6,440.2 532.9,440.2 535.2,440.2 537.5,440.2 539.9,440.2 542.2,440.2 544.5,440.2 546.8,440.2 549.2,440.2 551.5,440.2 553.8,440.2 556.1,440.2 558.5,440.2 560.8,440.2 563.1,440.2 565.4,440.2 567.7,440.2 570.1,440.2 572.4,440.2 574.7,440.2 577.0,440.2 579.4,440.2 581.7,440.2 584.0,440.2 586.3,440.2 588.7,440.2 591.0,440.2 593.3,440.2 595.6,440.2 598.0,440.2 600.3,440.2 602.6,440.2 604.9,440.2 607.3,440.2 609.6,440.2 611.9,440.2 614.2,440.2 616.6,440.2 618.9,440.2 621.2,440.2 623.5,440.2 625.9,440.2 628.2,440.2 630.5,440.2 632.8,440.2 635.2,440.2 637.5,440.2 639.8,440.2 642.1,440.2 644.5,440.2 646.8,440.2 649.1,440.2 651.4,440.2 653.8,440.2 656.1,440.2 658.4,440.2 660.7,440.2 663.0,440.2 665.4,440.2 667.7,440.2 670.0,440.2 672.3,440.2 674.7,440.2 677.0,440.2 679.3,440.2 681.6,440.2 684.0,440.2 686.3,440.2 688.6,440.2 690.9,440.2 693.3,440.2 695.6,440.2 697.9,440.2 700.2,440.2 702.6,440.2 704.9,440.2 707.2,440.2 709.5,440.2 711.9,440.2 714.2,440.2 716.5,440.2 718.8,440.2 721.2,440.2 723.5,440.2 725.8,440.2 728.1,440.2 730.5,440.2 732.8,440.2 735.1,440.2 737.4,440.2 739.8,440.2 742.1,440.2 744.4,440.2 746.7,440.2 749.0,440.2 751.4,440.2 753.7,440.2 756.0,440.2 758.3,440.2 760.7,440.2 763.0,440.2 765.3,440.2 767.6,440.2 770.0,440.2 772.3,440.2 774.6,440.2 776.9,440.2 779.3,440.2 781.6,440.2 783.9,440.2 786.2,440.2 788.6,440.2 790.9,440.2 793.2,440.2 795.5,440.2 797.9,440.2 800.2,440.2 802.5,440.2 804.8,440.2 807.2,440.2 809.5,440.2 811.8,440.2 814.1,440.2 816.5,440.2 818.8,440.2 821.1,440.2 823.4,440.2 825.8,440.2 828.1,440.2 830.4,440.2 832.7,440.2 835.1,440.2 837.4,440.2 839.7,440.2 842.0,440.2 844.3,440.2 846.7,440.2 849.0,440.2 851.3,440.2 853.6,440.2 856.0,440.2 858.3,440.2 860.6,440.2 862.9,440.2 865.3,440.2 867.6,440.2 869.9,440.2 872.2,440.2 874.6,440.2 876.9,440.2 879.2,440.2 881.5,440.2 883.9,440.2 886.2,440.2 888.5,440.2 890.8,440.2 893.2,440.2 895.5,440.2 897.8,440.2 900.1,440.2 902.5,440.2 904.8,440.2 907.1,440.2 909.4,440.2 911.8,440.2 914.1,440.2 916.4,440.2 918.7,440.2 921.1,440.2 923.4,440.2 925.7,440.2 928.0,440.2 930.4,440.2 932.7,440.2 935.0,440.2 937.3,440.2 939.6,440.2 942.0,440.2" fill="none" stroke="rgba(0,0,0,0.5)" stroke-width="4.0" stroke-linejoin="round" stroke-linecap="round"/>
<polyline points="107.5,440.2 109.8,440.2 112.2,440.2 114.5,440.2 116.8,440.2 119.1,440.2 121.5,440.2 123.8,440.2 126.1,440.2 128.4,440.2 130.8,440.2 133.1,440.2 135.4,440.2 137.7,440.2 140.1,440.2 142.4,440.2 144.7,440.2 147.0,440.2 149.4,440.2 151.7,440.2 154.0,440.2 156.3,440.2 158.7,440.2 161.0,440.2 163.3,440.2 165.6,440.2 168.0,440.2 170.3,440.2 172.6,440.2 174.9,440.2 177.3,440.2 179.6,440.2 181.9,440.2 184.2,440.2 186.6,440.2 188.9,440.2 191.2,440.2 193.5,440.2 195.8,440.2 198.2,440.2 200.5,440.2 202.8,440.2 205.1,440.2 207.5,440.2 209.8,440.2 212.1,440.2 214.4,440.2 216.8,440.2 219.1,440.2 221.4,440.2 223.7,440.2 226.1,440.2 228.4,440.2 230.7,440.2 233.0,440.2 235.4,440.2 237.7,440.2 240.0,440.2 242.3,440.2 244.7,440.2 247.0,440.2 249.3,440.2 251.6,440.2 254.0,440.2 256.3,440.2 258.6,440.2 260.9,440.2 263.3,440.2 265.6,440.2 267.9,440.2 270.2,440.2 272.6,440.2 274.9,440.2 277.2,440.2 279.5,440.2 281.9,440.2 284.2,440.2 286.5,440.2 288.8,440.3 291.1,440.3 293.5,440.3 295.8,440.3 298.1,440.3 300.4,440.4 302.8,440.4 305.1,440.4 307.4,440.5 309.7,440.5 312.1,440.5 314.4,440.6 316.7,440.6 319.0,440.7 321.4,440.8 323.7,440.8 326.0,440.9 328.3,441.0 330.7,441.1 333.0,441.2 335.3,441.3 337.6,441.4 340.0,441.5 342.3,441.6 344.6,441.8 346.9,441.9 349.3,442.0 351.6,442.2 353.9,442.4 356.2,442.5 358.6,442.7 360.9,442.9 363.2,443.1 365.5,443.3 367.9,443.5 370.2,443.7 372.5,443.9 374.8,444.1 377.2,444.4 379.5,444.6 381.8,444.8 384.1,445.0 386.4,445.2 388.8,445.4 391.1,445.6 393.4,445.8 395.7,446.0 398.1,446.2 400.4,446.4 402.7,446.5 405.0,446.7 407.4,446.8 409.7,446.9 412.0,447.0 414.3,447.1 416.7,447.2 419.0,447.2 421.3,447.3 423.6,447.3 426.0,447.3 428.3,447.2 430.6,447.2 432.9,447.1 435.3,447.0 437.6,446.9 439.9,446.7 442.2,446.6 444.6,446.4 446.9,446.3 449.2,446.1 451.5,445.9 453.9,445.7 456.2,445.5 458.5,445.3 460.8,445.0 463.2,444.8 465.5,444.6 467.8,444.3 470.1,444.1 472.4,443.8 474.8,443.6 477.1,443.4 479.4,443.1 481.7,442.9 484.1,442.7 486.4,442.5 488.7,442.3 491.0,442.0 493.4,441.9 495.7,441.7 498.0,441.5 500.3,441.3 502.7,441.2 505.0,441.1 507.3,440.9 509.6,440.8 512.0,440.7 514.3,440.7 516.6,440.6 518.9,440.5 521.3,440.4 523.6,440.4 525.9,440.4 528.2,440.3 530.6,440.3 532.9,440.3 535.2,440.2 537.5,440.2 539.9,440.2 542.2,440.2 544.5,440.2 546.8,440.2 549.2,440.2 551.5,440.2 553.8,440.2 556.1,440.2 558.5,440.2 560.8,440.2 563.1,440.2 565.4,440.2 567.7,440.2 570.1,440.2 572.4,440.2 574.7,440.2 577.0,440.2 579.4,440.2 581.7,440.2 584.0,440.2 586.3,440.2 588.7,440.2 591.0,440.2 593.3,440.2 595.6,440.2 598.0,440.2 600.3,440.2 602.6,440.2 604.9,440.2 607.3,440.2 609.6,440.2 611.9,440.2 614.2,440.2 616.6,440.2 618.9,440.2 621.2,440.2 623.5,440.2 625.9,440.2 628.2,440.2 630.5,440.2 632.8,440.2 635.2,440.2 637.5,440.2 639.8,440.2 642.1,440.2 644.5,440.2 646.8,440.2 649.1,440.2 651.4,440.2 653.8,440.2 656.1,440.2 658.4,440.2 660.7,440.2 663.0,440.2 665.4,440.2 667.7,440.2 670.0,440.2 672.3,440.2 674.7,440.2 677.0,440.2 679.3,440.2 681.6,440.2 684.0,440.2 686.3,440.2 688.6,440.2 690.9,440.2 693.3,440.2 695.6,440.2 697.9,440.2 700.2,440.2 702.6,440.2 704.9,440.2 707.2,440.2 709.5,440.2 711.9,440.2 714.2,440.2 716.5,440.2 718.8,440.2 721.2,440.2 723.5,440.2 725.8,440.2 728.1,440.2 730.5,440.2 732.8,440.2 735.1,440.2 737.4,440.2 739.8,440.2 742.1,440.2 744.4,440.2 746.7,440.2 749.0,440.2 751.4,440.2 753.7,440.2 756.0,440.2 758.3,440.2 760.7,440.2 763.0,440.2 765.3,440.2 767.6,440.2 770.0,440.2 772.3,440.2 774.6,440.2 776.9,440.2 779.3,440.2 781.6,440.2 783.9,440.2 786.2,440.2 788.6,440.2 790.9,440.2 793.2,440.2 795.5,440.2 797.9,440.2 800.2,440.2 802.5,440.2 804.8,440.2 807.2,440.2 809.5,440.2 811.8,440.2 814.1,440.2 816.5,440.2 818.8,440.2 821.1,440.2 823.4,440.2 825.8,440.2 828.1,440.2 830.4,440.2 832.7,440.2 835.1,440.2 837.4,440.2 839.7,440.2 842.0,440.2 844.3,440.2 846.7,440.2 849.0,440.2 851.3,440.2 853.6,440.2 856.0,440.2 858.3,440.2 860.6,440.2 862.9,440.2 865.3,440.2 867.6,440.2 869.9,440.2 872.2,440.2 874.6,440.2 876.9,440.2 879.2,440.2 881.5,440.2 883.9,440.2 886.2,440.2 888.5,440.2 890.8,440.2 893.2,440.2 895.5,440.2 897.8,440.2 900.1,440.2 902.5,440.2 904.8,440.2 907.1,440.2 909.4,440.2 911.8,440.2 914.1,440.2 916.4,440.2 918.7,440.2 921.1,440.2 923.4,440.2 925.7,440.2 928.0,440.2 930.4,440.2 932.7,440.2 935.0,440.2 937.3,440.2 939.6,440.2 942.0,440.2" fill="none" stroke="rgba(0,0,0,0.5)" stroke-width="4.0" stroke-linejoin="round" stroke-linecap="round"/>
<polyline points="107.5,440.2 109.8,440.2 112.2,440.2 114.5,440.2 116.8,440.2 119.1,440.2 121.5,440.2 123.8,440.2 126.1,440.2 128.4,440.2 130.8,440.2 133.1,440.2 135.4,440.2 137.7,440.2 140.1,440.2 142.4,440.2 144.7,440.2 147.0,440.2 149.4,440.2 151.7,440.2 154.0,440.2 156.3,440.2 158.7,440.2 161.0,440.2 163.3,440.2 165.6,440.2 168.0,440.2 170.3,440.2 172.6,440.2 174.9,440.2 177.3,440.2 179.6,440.2 181.9,440.2 184.2,440.2 186.6,440.2 188.9,440.2 191.2,440.2 193.5,440.2 195.8,440.2 198.2,440.2 200.5,440.2 202.8,440.2 205.1,440.2 207.5,440.2 209.8,440.2 212.1,440.2 214.4,440.2 216.8,440.2 219.1,440.2 221.4,440.2 223.7,440.2 226.1,440.2 228.4,440.2 230.7,440.2 233.0,440.2 235.4,440.2 237.7,440.2 240.0,440.2 242.3,440.2 244.7,440.2 247.0,440.2 249.3,440.2 251.6,440.2 254.0,440.2 256.3,440.2 258.6,440.2 260.9,440.2 263.3,440.2 265.6,440.2 267.9,440.2 270.2,440.2 272.6,440.2 274.9,440.2 277.2,440.2 279.5,440.2 281.9,440.2 284.2,440.2 286.5,440.2 288.8,440.2 291.1,440.2 293.5,440.2 295.8,440.2 298.1,440.2 300.4,440.2 302.8,440.2 305.1,440.2 307.4,440.2 309.7,440.2 312.1,440.2 314.4,440.2 316.7,440.2 319.0,440.2 321.4,440.2 323.7,440.2 326.0,440.2 328.3,440.2 330.7,440.2 333.0,440.2 335.3,440.2 337.6,440.2 340.0,440.2 342.3,440.2 344.6,440.2 346.9,440.2 349.3,440.2 351.6,440.2 353.9,440.2 356.2,440.2 358.6,440.2 360.9,440.2 363.2,440.2 365.5,440.2 367.9,440.2 370.2,440.1 372.5,440.1 374.8,440.0 377.2,439.9 379.5,439.8 381.8,439.7 384.1,439.5 386.4,439.3 388.8,439.1 391.1,438.8 393.4,438.5 395.7,438.2 398.1,437.8 400.4,437.3 402.7,436.8 405.0,436.2 407.4,435.6 409.7,434.9 412.0,434.1 414.3,433.3 416.7,432.4 419.0,431.4 421.3,430.4 423.6,429.2 426.0,428.0 428.3,426.7 430.6,425.4 432.9,423.9 435.3,422.5 437.6,420.9 439.9,419.4 442.2,417.8 444.6,416.2 446.9,414.6 449.2,412.9 451.5,411.3 453.9,409.7 456.2,408.2 458.5,406.6 460.8,405.2 463.2,403.7 465.5,402.3 467.8,401.0 470.1,399.8 472.4,398.7 474.8,397.6 477.1,396.7 479.4,395.9 481.7,395.2 484.1,394.6 486.4,394.2 488.7,393.9 491.0,393.8 493.4,393.8 495.7,394.1 498.0,394.5 500.3,395.1 502.7,395.8 505.0,396.8 507.3,397.9 509.6,399.2 512.0,400.6 514.3,402.2 516.6,403.8 518.9,405.5 521.3,407.3 523.6,409.2 525.9,411.1 528.2,413.1 530.6,415.0 532.9,417.0 535.2,418.9 537.5,420.9 539.9,422.7 542.2,424.6 544.5,426.3 546.8,428.0 549.2,429.6 551.5,431.0 553.8,432.4 556.1,433.5 558.5,434.6 560.8,435.6 563.1,436.4 565.4,437.1 567.7,437.7 570.1,438.3 572.4,438.7 574.7,439.1 577.0,439.4 579.4,439.7 581.7,439.8 584.0,440.0 586.3,440.1 588.7,440.1 591.0,440.2 593.3,440.2 595.6,440.2 598.0,440.2 600.3,440.2 602.6,440.2 604.9,440.2 607.3,440.2 609.6,440.2 611.9,440.2 614.2,440.2 616.6,440.2 618.9,440.2 621.2,440.2 623.5,440.2 625.9,440.2 628.2,440.2 630.5,440.2 632.8,440.2 635.2,440.2 637.5,440.2 639.8,440.2 642.1,440.2 644.5,440.2 646.8,440.2 649.1,440.2 651.4,440.2 653.8,440.2 656.1,440.2 658.4,440.2 660.7,440.2 663.0,440.2 665.4,440.2 667.7,440.2 670.0,440.2 672.3,440.2 674.7,440.2 677.0,440.2 679.3,440.2 681.6,440.2 684.0,440.2 686.3,440.2 688.6,440.2 690.9,440.2 693.3,440.2 695.6,440.2 697.9,440.2 700.2,440.2 702.6,440.2 704.9,440.2 707.2,440.2 709.5,440.2 711.9,440.2 714.2,440.2 716.5,440.2 718.8,440.2 721.2,440.2 723.5,440.2 725.8,440.2 728.1,440.2 730.5,440.2 732.8,440.2 735.1,440.2 737.4,440.2 739.8,440.2 742.1,440.2 744.4,440.2 746.7,440.2 749.0,440.2 751.4,440.2 753.7,440.2 756.0,440.2 758.3,440.2 760.7,440.2 763.0,440.2 765.3,440.2 767.6,440.2 770.0,440.2 772.3,440.2 774.6,440.2 776.9,440.2 779.3,440.2 781.6,440.2 783.9,440.2 786.2,440.2 788.6,440.2 790.9,440.2 793.2,440.2 795.5,440.2 797.9,440.2 800.2,440.2 802.5,440.2 804.8,440.2 807.2,440.2 809.5,440.2 811.8,440.2 814.1,440.2 816.5,440.2 818.8,440.2 821.1,440.2 823.4,440.2 825.8,440.2 828.1,440.2 830.4,440.2 832.7,440.2 835.1,440.2 837.4,440.2 839.7,440.2 842.0,440.2 844.3,440.2 846.7,440.2 849.0,440.2 851.3,440.2 853.6,440.2 856.0,440.2 858.3,440.2 860.6,440.2 862.9,440.2 865.3,440.2 867.6,440.2 869.9,440.2 872.2,440.2 874.6,440.2 876.9,440.2 879.2,440.2 881.5,440.2 883.9,440.2 886.2,440.2 888.5,440.2 890.8,440.2 893.2,440.2 895.5,440.2 897.8,440.2 900.1,440.2 902.5,440.2 904.8,440.2 907.1,440.2 909.4,440.2 911.8,440.2 914.1,440.2 916.4,440.2 918.7,440.2 921.1,440.2 923.4,440.2 925.7,440.2 928.0,440.2 930.4,440.2 932.7,440.2 935.0,440.2 937.3,440.2 939.6,440.2 942.0,440.2" fill="none" stroke="rgba(0,0,0,0.5)" stroke-width="4.0" stroke-linejoin="round" stroke-linecap="round"/>
<polyline points="107.5,440.2 109.8,440.2 112.2,440.2 114.5,440.2 116.8,440.2 119.1,440.2 121.5,440.2 123.8,440.2 126.1,440.2 128.4,440.2 130.8,440.2 133.1,440.2 135.4,440.2 137.7,440.2 140.1,440.2 142.4,440.2 144.7,440.2 147.0,440.2 149.4,440.2 151.7,440.2 154.0,440.2 156.3,440.2 158.7,440.2 161.0,440.2 163.3,440.2 165.6,440.2 168.0,440.2 170.3,440.2 172.6,440.2 174.9,440.2 177.3,440.2 179.6,440.2 181.9,440.2 184.2,440.2 186.6,440.2 188.9,440.2 191.2,440.2 193.5,440.2 195.8,440.2 198.2,440.2 200.5,440.2 202.8,440.2 205.1,440.2 207.5,440.2 209.8,440.2 212.1,440.2 214.4,440.2 216.8,440.2 219.1,440.2 221.4,440.2 223.7,440.2 226.1,440.2 228.4,440.2 230.7,440.2 233.0,440.2 235.4,440.2 237.7,440.2 240.0,440.2 242.3,440.2 244.7,440.2 247.0,440.2 249.3,440.2 251.6,440.2 254.0,440.2 256.3,440.2 258.6,440.2 260.9,440.2 263.3,440.2 265.6,440.2 267.9,440.2 270.2,440.2 272.6,440.2 274.9,440.2 277.2,440.2 279.5,440.2 281.9,440.2 284.2,440.2 286.5,440.2 288.8,440.2 291.1,440.2 293.5,440.2 295.8,440.2 298.1,440.2 300.4,440.2 302.8,440.2 305.1,440.2 307.4,440.2 309.7,440.2 312.1,440.2 314.4,440.2 316.7,440.2 319.0,440.2 321.4,440.2 323.7,440.2 326.0,440.2 328.3,440.2 330.7,440.2 333.0,440.2 335.3,440.2 337.6,440.2 340.0,440.2 342.3,440.2 344.6,440.2 346.9,440.2 349.3,440.2 351.6,440.2 353.9,440.2 356.2,440.2 358.6,440.2 360.9,440.2 363.2,440.2 365.5,440.2 367.9,440.2 370.2,440.2 372.5,440.2 374.8,440.2 377.2,440.2 379.5,440.2 381.8,440.2 384.1,440.2 386.4,440.2 388.8,440.2 391.1,440.2 393.4,440.2 395.7,440.2 398.1,440.2 400.4,440.2 402.7,440.2 405.0,440.2 407.4,440.2 409.7,440.2 412.0,440.2 414.3,440.2 416.7,440.2 419.0,440.2 421.3,440.2 423.6,440.2 426.0,440.2 428.3,440.2 430.6,440.2 432.9,440.2 435.3,440.3 437.6,440.3 439.9,440.4 442.2,440.5 444.6,440.6 446.9,440.8 449.2,441.0 451.5,441.3 453.9,441.6 456.2,441.9 458.5,442.3 460.8,442.8 463.2,443.3 465.5,443.9 467.8,444.6 470.1,445.3 472.4,446.1 474.8,447.0 477.1,448.0 479.4,449.1 481.7,450.3 484.1,451.6 486.4,453.0 488.7,454.5 491.0,456.1 493.4,457.8 495.7,459.6 498.0,461.6 500.3,463.7 502.7,465.9 505.0,468.2 507.3,470.6 509.6,473.1 512.0,475.6 514.3,478.1 516.6,480.5 518.9,483.0 521.3,485.4 523.6,487.7 525.9,489.9 528.2,492.0 530.6,494.0 532.9,495.7 535.2,497.3 537.5,498.7 539.9,499.9 542.2,500.8 544.5,501.4 546.8,501.7 549.2,501.7 551.5,501.4 553.8,500.6 556.1,499.6 558.5,498.2 560.8,496.4 563.1,494.5 565.4,492.2 567.7,489.8 570.1,487.2 572.4,484.4 574.7,481.6 577.0,478.6 579.4,475.6 581.7,472.6 584.0,469.6 586.3,466.7 588.7,463.8 591.0,461.1 593.3,458.4 595.6,456.0 598.0,453.7 600.3,451.7 602.6,449.9 604.9,448.3 607.3,446.9 609.6,445.6 611.9,444.6 614.2,443.6 616.6,442.9 618.9,442.2 621.2,441.7 623.5,441.2 625.9,440.9 628.2,440.6 630.5,440.5 632.8,440.3 635.2,440.3 637.5,440.2 639.8,440.2 642.1,440.2 644.5,440.2 646.8,440.2 649.1,440.2 651.4,440.2 653.8,440.2 656.1,440.2 658.4,440.2 660.7,440.2 663.0,440.2 665.4,440.2 667.7,440.2 670.0,440.2 672.3,440.2 674.7,440.2 677.0,440.2 679.3,440.2 681.6,440.2 684.0,440.2 686.3,440.2 688.6,440.2 690.9,440.2 693.3,440.2 695.6,440.2 697.9,440.2 700.2,440.2 702.6,440.2 704.9,440.2 707.2,440.2 709.5,440.2 711.9,440.2 714.2,440.2 716.5,440.2 718.8,440.2 721.2,440.2 723.5,440.2 725.8,440.2 728.1,440.2 730.5,440.2 732.8,440.2 735.1,440.2 737.4,440.2 739.8,440.2 742.1,440.2 744.4,440.2 746.7,440.2 749.0,440.2 751.4,440.2 753.7,440.2 756.0,440.2 758.3,440.2 760.7,440.2 763.0,440.2 765.3,440.2 767.6,440.2 770.0,440.2 772.3,440.2 774.6,440.2 776.9,440.2 779.3,440.2 781.6,440.2 783.9,440.2 786.2,440.2 788.6,440.2 790.9,440.2 793.2,440.2 795.5,440.2 797.9,440.2 800.2,440.2 802.5,440.2 804.8,440.2 807.2,440.2 809.5,440.2 811.8,440.2 814.1,440.2 816.5,440.2 818.8,440.2 821.1,440.2 823.4,440.2 825.8,440.2 828.1,440.2 830.4,440.2 832.7,440.2 835.1,440.2 837.4,440.2 839.7,440.2 842.0,440.2 844.3,440.2 846.7,440.2 849.0,440.2 851.3,440.2 853.6,440.2 856.0,440.2 858.3,440.2 860.6,440.2 862.9,440.2 865.3,440.2 867.6,440.2 869.9,440.2 872.2,440.2 874.6,440.2 876.9,440.2 879.2,440.2 881.5,440.2 883.9,440.2 886.2,440.2 888.5,440.2 890.8,440.2 893.2,440.2 895.5,440.2 897.8,440.2 900.1,440.2 902.5,440.2 904.8,440.2 907.1,440.2 909.4,440.2 911.8,440.2 914.1,440.2 916.4,440.2 918.7,440.2 921.1,440.2 923.4,440.2 925.7,440.2 928.0,440.2 930.4,440.2 932.7,440.2 935.0,440.2 937.3,440.2 939.6,440.2 942.0,440.2" fill="none" stroke="rgba(0,0,0,0.5)" stroke-width="4.0" stroke-linejoin="round" stroke-linecap="round"/>
<polyline points="107.5,440.2 109.8,440.2 112.2,440.2 114.5,440.2 116.8,440.2 119.1,440.2 121.5,440.2 123.8,440.2 126.1,440.2 128.4,440.2 130.8,440.2 133.1,440.2 135.4,440.2 137.7,440.2 140.1,440.2 142.4,440.2 144.7,440.2 147.0,440.2 149.4,440.2 151.7,440.2 154.0,440.2 156.3,440.2 158.7,440.2 161.0,440.2 163.3,440.2 165.6,440.2 168.0,440.2 170.3,440.2 172.6,440.2 174.9,440.2 177.3,440.2 179.6,440.2 181.9,440.2 184.2,440.2 186.6,440.2 188.9,440.2 191.2,440.2 193.5,440.2 195.8,440.2 198.2,440.2 200.5,440.2 202.8,440.2 205.1,440.2 207.5,440.2 209.8,440.2 212.1,440.2 214.4,440.2 216.8,440.2 219.1,440.2 221.4,440.2 223.7,440.2 226.1,440.2 228.4,440.2 230.7,440.2 233.0,440.2 235.4,440.2 237.7,440.2 240.0,440.2 242.3,440.2 244.7,440.2 247.0,440.2 249.3,440.2 251.6,440.2 254.0,440.2 256.3,440.2 258.6,440.2 260.9,440.2 263.3,440.2 265.6,440.2 267.9,440.2 270.2,440.2 272.6,440.2 274.9,440.2 277.2,440.2 279.5,440.2 281.9,440.2 284.2,440.2 286.5,440.2 288.8,440.2 291.1,440.2 293.5,440.2 295.8,440.2 298.1,440.2 300.4,440.2 302.8,440.2 305.1,440.2 307.4,440.2 309.7,440.2 312.1,440.2 314.4,440.2 316.7,440.2 319.0,440.2 321.4,440.2 323.7,440.2 326.0,440.2 328.3,440.2 330.7,440.2 333.0,440.2 335.3,440.2 337.6,440.2 340.0,440.2 342.3,440.2 344.6,440.2 346.9,440.2 349.3,440.2 351.6,440.2 353.9,440.2 356.2,440.2 358.6,440.2 360.9,440.2 363.2,440.2 365.5,440.2 367.9,440.2 370.2,440.2 372.5,440.2 374.8,440.2 377.2,440.2 379.5,440.2 381.8,440.2 384.1,440.2 386.4,440.2 388.8,440.2 391.1,440.2 393.4,440.2 395.7,440.2 398.1,440.2 400.4,440.2 402.7,440.2 405.0,440.2 407.4,440.2 409.7,440.2 412.0,440.2 414.3,440.2 416.7,440.2 419.0,440.2 421.3,440.2 423.6,440.2 426.0,440.2 428.3,440.2 430.6,440.2 432.9,440.2 435.3,440.2 437.6,440.2 439.9,440.2 442.2,440.2 444.6,440.2 446.9,440.2 449.2,440.2 451.5,440.2 453.9,440.2 456.2,440.2 458.5,440.2 460.8,440.2 463.2,440.2 465.5,440.2 467.8,440.2 470.1,440.2 472.4,440.2 474.8,440.2 477.1,440.2 479.4,440.2 481.7,440.2 484.1,440.2 486.4,440.2 488.7,440.2 491.0,440.2 493.4,440.2 495.7,440.2 498.0,440.2 500.3,440.2 502.7,440.2 505.0,440.2 507.3,440.1 509.6,440.0 512.0,439.9 514.3,439.6 516.6,439.3 518.9,438.9 521.3,438.4 523.6,437.7 525.9,437.0 528.2,436.0 530.6,434.9 532.9,433.7 535.2,432.2 537.5,430.5 539.9,428.7 542.2,426.6 544.5,424.2 546.8,421.6 549.2,418.7 551.5,415.6 553.8,412.1 556.1,408.4 558.5,404.5 560.8,400.3 563.1,396.1 565.4,391.7 567.7,387.4 570.1,383.0 572.4,378.8 574.7,374.7 577.0,370.7 579.4,367.0 581.7,363.6 584.0,360.5 586.3,357.8 588.7,355.5 591.0,353.7 593.3,352.5 595.6,351.8 598.0,351.8 600.3,352.4 602.6,353.7 604.9,355.5 607.3,357.8 609.6,360.6 611.9,363.7 614.2,367.2 616.6,371.1 618.9,375.1 621.2,379.3 623.5,383.7 625.9,388.2 628.2,392.6 630.5,397.1 632.8,401.5 635.2,405.8 637.5,409.9 639.8,413.7 642.1,417.3 644.5,420.6 646.8,423.5 649.1,426.1 651.4,428.4 653.8,430.5 656.1,432.3 658.4,433.9 660.7,435.2 663.0,436.4 665.4,437.3 667.7,438.1 670.0,438.7 672.3,439.2 674.7,439.6 677.0,439.8 679.3,440.0 681.6,440.1 684.0,440.2 686.3,440.2 688.6,440.2 690.9,440.2 693.3,440.2 695.6,440.2 697.9,440.2 700.2,440.2 702.6,440.2 704.9,440.2 707.2,440.2 709.5,440.2 711.9,440.2 714.2,440.2 716.5,440.2 718.8,440.2 721.2,440.2 723.5,440.2 725.8,440.2 728.1,440.2 730.5,440.2 732.8,440.2 735.1,440.2 737.4,440.2 739.8,440.2 742.1,440.2 744.4,440.2 746.7,440.2 749.0,440.2 751.4,440.2 753.7,440.2 756.0,440.2 758.3,440.2 760.7,440.2 763.0,440.2 765.3,440.2 767.6,440.2 770.0,440.2 772.3,440.2 774.6,440.2 776.9,440.2 779.3,440.2 781.6,440.2 783.9,440.2 786.2,440.2 788.6,440.2 790.9,440.2 793.2,440.2 795.5,440.2 797.9,440.2 800.2,440.2 802.5,440.2 804.8,440.2 807.2,440.2 809.5,440.2 811.8,440.2 814.1,440.2 816.5,440.2 818.8,440.2 821.1,440.2 823.4,440.2 825.8,440.2 828.1,440.2 830.4,440.2 832.7,440.2 835.1,440.2 837.4,440.2 839.7,440.2 842.0,440.2 844.3,440.2 846.7,440.2 849.0,440.2 851.3,440.2 853.6,440.2 856.0,440.2 858.3,440.2 860.6,440.2 862.9,440.2 865.3,440.2 867.6,440.2 869.9,440.2 872.2,440.2 874.6,440.2 876.9,440.2 879.2,440.2 881.5,440.2 883.9,440.2 886.2,440.2 888.5,440.2 890.8,440.2 893.2,440.2 895.5,440.2 897.8,440.2 900.1,440.2 902.5,440.2 904.8,440.2 907.1,440.2 909.4,440.2 911.8,440.2 914.1,440.2 916.4,440.2 918.7,440.2 921.1,440.2 923.4,440.2 925.7,440.2 928.0,440.2 930.4,440.2 932.7,440.2 935.0,440.2 937.3,440.2 939.6,440.2 942.0,440.2" fill="none" stroke="rgba(0,0,0,0.5)" stroke-width="4.0" stroke-linejoin="round" stroke-linecap="round"/>
<polyline points="107.5,440.2 109.8,440.2 112.2,440.2 114.5,440.2 116.8,440.2 119.1,440.2 121.5,440.2 123.8,440.2 126.1,440.2 128.4,440.2 130.8,440.2 133.1,440.2 135.4,440.2 137.7,440.2 140.1,440.2 142.4,440.2 144.7,440.2 147.0,440.2 149.4,440.2 151.7,440.2 154.0,440.2 156.3,440.2 158.7,440.2 161.0,440.2 163.3,440.2 165.6,440.2 168.0,440.2 170.3,440.2 172.6,440.2 174.9,440.2 177.3,440.2 179.6,440.2 181.9,440.2 184.2,440.2 186.6,440.2 188.9,440.2 191.2,440.2 193.5,440.2 195.8,440.2 198.2,440.2 200.5,440.2 202.8,440.2 205.1,440.2 207.5,440.2 209.8,440.2 212.1,440.2 214.4,440.2 216.8,440.2 219.1,440.2 221.4,440.2 223.7,440.2 226.1,440.2 228.4,440.2 230.7,440.2 233.0,440.2 235.4,440.2 237.7,440.2 240.0,440.2 242.3,440.2 244.7,440.2 247.0,440.2 249.3,440.2 251.6,440.2 254.0,440.2 256.3,440.2 258.6,440.2 260.9,440.2 263.3,440.2 265.6,440.2 267.9,440.2 270.2,440.2 272.6,440.2 274.9,440.2 277.2,440.2 279.5,440.2 281.9,440.2 284.2,440.2 286.5,440.2 288.8,440.2 291.1,440.2 293.5,440.2 295.8,440.2 298.1,440.2 300.4,440.2 302.8,440.2 305.1,440.2 307.4,440.2 309.7,440.2 312.1,440.2 314.4,440.2 316.7,440.2 319.0,440.2 321.4,440.2 323.7,440.2 326.0,440.2 328.3,440.2 330.7,440.2 333.0,440.2 335.3,440.2 337.6,440.2 340.0,440.2 342.3,440.2 344.6,440.2 346.9,440.2 349.3,440.2 351.6,440.2 353.9,440.2 356.2,440.2 358.6,440.2 360.9,440.2 363.2,440.2 365.5,440.2 367.9,440.2 370.2,440.2 372.5,440.2 374.8,440.2 377.2,440.2 379.5,440.2 381.8,440.2 384.1,440.2 386.4,440.2 388.8,440.2 391.1,440.2 393.4,440.2 395.7,440.2 398.1,440.2 400.4,440.2 402.7,440.2 405.0,440.2 407.4,440.2 409.7,440.2 412.0,440.2 414.3,440.2 416.7,440.2 419.0,440.2 421.3,440.2 423.6,440.2 426.0,440.2 428.3,440.2 430.6,440.2 432.9,440.2 435.3,440.2 437.6,440.2 439.9,440.2 442.2,440.2 444.6,440.2 446.9,440.2 449.2,440.2 451.5,440.2 453.9,440.2 456.2,440.2 458.5,440.2 460.8,440.2 463.2,440.2 465.5,440.2 467.8,440.2 470.1,440.2 472.4,440.2 474.8,440.2 477.1,440.2 479.4,440.2 481.7,440.2 484.1,440.2 486.4,440.2 488.7,440.2 491.0,440.2 493.4,440.2 495.7,440.2 498.0,440.2 500.3,440.2 502.7,440.2 505.0,440.2 507.3,440.2 509.6,440.2 512.0,440.2 514.3,440.2 516.6,440.2 518.9,440.2 521.3,440.2 523.6,440.2 525.9,440.2 528.2,440.2 530.6,440.2 532.9,440.2 535.2,440.2 537.5,440.2 539.9,440.2 542.2,440.2 544.5,440.2 546.8,440.2 549.2,440.2 551.5,440.2 553.8,440.2 556.1,440.2 558.5,440.2 560.8,440.2 563.1,440.2 565.4,440.3 567.7,440.3 570.1,440.4 572.4,440.4 574.7,440.5 577.0,440.6 579.4,440.8 581.7,440.9 584.0,441.1 586.3,441.3 588.7,441.6 591.0,441.9 593.3,442.2 595.6,442.6 598.0,443.0 600.3,443.5 602.6,443.9 604.9,444.5 607.3,445.0 609.6,445.6 611.9,446.1 614.2,446.7 616.6,447.2 618.9,447.8 621.2,448.3 623.5,448.8 625.9,449.3 628.2,449.7 630.5,450.1 632.8,450.5 635.2,450.7 637.5,450.9 639.8,451.1 642.1,451.1 644.5,451.1 646.8,451.0 649.1,450.8 651.4,450.6 653.8,450.3 656.1,449.9 658.4,449.5 660.7,449.1 663.0,448.6 665.4,448.1 667.7,447.6 670.0,447.0 672.3,446.5 674.7,445.9 677.0,445.3 679.3,444.8 681.6,444.3 684.0,443.8 686.3,443.3 688.6,442.9 690.9,442.5 693.3,442.1 695.6,441.8 697.9,441.5 700.2,441.3 702.6,441.1 704.9,440.9 707.2,440.7 709.5,440.6 711.9,440.5 714.2,440.4 716.5,440.3 718.8,440.3 721.2,440.3 723.5,440.2 725.8,440.2 728.1,440.2 730.5,440.2 732.8,440.2 735.1,440.2 737.4,440.2 739.8,440.2 742.1,440.2 744.4,440.2 746.7,440.2 749.0,440.2 751.4,440.2 753.7,440.2 756.0,440.2 758.3,440.2 760.7,440.2 763.0,440.2 765.3,440.2 767.6,440.2 770.0,440.2 772.3,440.2 774.6,440.2 776.9,440.2 779.3,440.2 781.6,440.2 783.9,440.2 786.2,440.2 788.6,440.2 790.9,440.2 793.2,440.2 795.5,440.2 797.9,440.2 800.2,440.2 802.5,440.2 804.8,440.2 807.2,440.2 809.5,440.2 811.8,440.2 814.1,440.2 816.5,440.2 818.8,440.2 821.1,440.2 823.4,440.2 825.8,440.2 828.1,440.2 830.4,440.2 832.7,440.2 835.1,440.2 837.4,440.2 839.7,440.2 842.0,440.2 844.3,440.2 846.7,440.2 849.0,440.2 851.3,440.2 853.6,440.2 856.0,440.2 858.3,440.2 860.6,440.2 862.9,440.2 865.3,440.2 867.6,440.2 869.9,440.2 872.2,440.2 874.6,440.2 876.9,440.2 879.2,440.2 881.5,440.2 883.9,440.2 886.2,440.2 888.5,440.2 890.8,440.2 893.2,440.2 895.5,440.2 897.8,440.2 900.1,440.2 902.5,440.2 904.8,440.2 907.1,440.2 909.4,440.2 911.8,440.2 914.1,440.2 916.4,440.2 918.7,440.2 921.1,440.2 923.4,440.2 925.7,440.2 928.0,440.2 930.4,440.2 932.7,440.2 935.0,440.2 937.3,440.2 939.6,440.2 942.0,440.2" fill="none" stroke="rgba(0,0,0,0.5)" stroke-width="4.0" stroke-linejoin="round" stroke-linecap="round"/>
<polyline points="107.5,440.2 109.8,440.2 112.2,440.2 114.5,440.2 116.8,440.2 119.1,440.2 121.5,440.2 123.8,440.2 126.1,440.2 128.4,440.2 130.8,440.2 133.1,440.2 135.4,440.2 137.7,440.2 140.1,440.2 142.4,440.2 144.7,440.2 147.0,440.2 149.4,440.2 151.7,440.2 154.0,440.2 156.3,440.2 158.7,440.2 161.0,440.2 163.3,440.2 165.6,440.2 168.0,440.2 170.3,440.2 172.6,440.2 174.9,440.2 177.3,440.2 179.6,440.2 181.9,440.2 184.2,440.2 186.6,440.2 188.9,440.2 191.2,440.2 193.5,440.2 195.8,440.2 198.2,440.2 200.5,440.2 202.8,440.2 205.1,440.2 207.5,440.2 209.8,440.2 212.1,440.2 214.4,440.2 216.8,440.2 219.1,440.2 221.4,440.2 223.7,440.2 226.1,440.2 228.4,440.2 230.7,440.2 233.0,440.2 235.4,440.2 237.7,440.2 240.0,440.2 242.3,440.2 244.7,440.2 247.0,440.2 249.3,440.2 251.6,440.2 254.0,440.2 256.3,440.2 258.6,440.2 260.9,440.2 263.3,440.2 265.6,440.2 267.9,440.2 270.2,440.2 272.6,440.2 274.9,440.2 277.2,440.2 279.5,440.2 281.9,440.2 284.2,440.2 286.5,440.2 288.8,440.2 291.1,440.2 293.5,440.2 295.8,440.2 298.1,440.2 300.4,440.2 302.8,440.2 305.1,440.2 307.4,440.2 309.7,440.2 312.1,440.2 314.4,440.2 316.7,440.2 319.0,440.2 321.4,440.2 323.7,440.2 326.0,440.2 328.3,440.2 330.7,440.2 333.0,440.2 335.3,440.2 337.6,440.2 340.0,440.2 342.3,440.2 344.6,440.2 346.9,440.2 349.3,440.2 351.6,440.2 353.9,440.2 356.2,440.2 358.6,440.2 360.9,440.2 363.2,440.2 365.5,440.2 367.9,440.2 370.2,440.2 372.5,440.2 374.8,440.2 377.2,440.2 379.5,440.2 381.8,440.2 384.1,440.2 386.4,440.2 388.8,440.2 391.1,440.2 393.4,440.2 395.7,440.2 398.1,440.2 400.4,440.2 402.7,440.2 405.0,440.2 407.4,440.2 409.7,440.2 412.0,440.2 414.3,440.2 416.7,440.2 419.0,440.2 421.3,440.2 423.6,440.2 426.0,440.2 428.3,440.2 430.6,440.2 432.9,440.2 435.3,440.2 437.6,440.2 439.9,440.2 442.2,440.2 444.6,440.2 446.9,440.2 449.2,440.2 451.5,440.2 453.9,440.2 456.2,440.2 458.5,440.2 460.8,440.2 463.2,440.2 465.5,440.2 467.8,440.2 470.1,440.2 472.4,440.2 474.8,440.2 477.1,440.2 479.4,440.2 481.7,440.2 484.1,440.2 486.4,440.2 488.7,440.2 491.0,440.2 493.4,440.2 495.7,440.2 498.0,440.2 500.3,440.2 502.7,440.2 505.0,440.2 507.3,440.2 509.6,440.2 512.0,440.2 514.3,440.2 516.6,440.2 518.9,440.2 521.3,440.2 523.6,440.2 525.9,440.2 528.2,440.2 530.6,440.2 532.9,440.2 535.2,440.2 537.5,440.2 539.9,440.2 542.2,440.2 544.5,440.2 546.8,440.2 549.2,440.2 551.5,440.2 553.8,440.2 556.1,440.2 558.5,440.2 560.8,440.2 563.1,440.2 565.4,440.2 567.7,440.2 570.1,440.2 572.4,440.2 574.7,440.2 577.0,440.2 579.4,440.2 581.7,440.2 584.0,440.2 586.3,440.2 588.7,440.2 591.0,440.2 593.3,440.2 595.6,440.2 598.0,440.2 600.3,440.2 602.6,440.2 604.9,440.2 607.3,440.1 609.6,440.0 611.9,439.9 614.2,439.8 616.6,439.6 618.9,439.3 621.2,439.0 623.5,438.6 625.9,438.1 628.2,437.6 630.5,436.9 632.8,436.2 635.2,435.3 637.5,434.4 639.8,433.3 642.1,432.1 644.5,430.8 646.8,429.4 649.1,427.9 651.4,426.3 653.8,424.6 656.1,423.0 658.4,421.3 660.7,419.6 663.0,417.9 665.4,416.3 667.7,414.8 670.0,413.3 672.3,412.0 674.7,410.7 677.0,409.7 679.3,408.8 681.6,408.0 684.0,407.5 686.3,407.2 688.6,407.1 690.9,407.3 693.3,407.8 695.6,408.5 697.9,409.3 700.2,410.4 702.6,411.6 704.9,413.0 707.2,414.5 709.5,416.0 711.9,417.7 714.2,419.4 716.5,421.1 718.8,422.9 721.2,424.6 723.5,426.3 725.8,428.0 728.1,429.5 730.5,431.0 732.8,432.4 735.1,433.6 737.4,434.7 739.8,435.7 742.1,436.5 744.4,437.2 746.7,437.9 749.0,438.4 751.4,438.8 753.7,439.2 756.0,439.5 758.3,439.7 760.7,439.9 763.0,440.0 765.3,440.1 767.6,440.2 770.0,440.2 772.3,440.2 774.6,440.2 776.9,440.2 779.3,440.2 781.6,440.2 783.9,440.2 786.2,440.2 788.6,440.2 790.9,440.2 793.2,440.2 795.5,440.2 797.9,440.2 800.2,440.2 802.5,440.2 804.8,440.2 807.2,440.2 809.5,440.2 811.8,440.2 814.1,440.2 816.5,440.2 818.8,440.2 821.1,440.2 823.4,440.2 825.8,440.2 828.1,440.2 830.4,440.2 832.7,440.2 835.1,440.2 837.4,440.2 839.7,440.2 842.0,440.2 844.3,440.2 846.7,440.2 849.0,440.2 851.3,440.2 853.6,440.2 856.0,440.2 858.3,440.2 860.6,440.2 862.9,440.2 865.3,440.2 867.6,440.2 869.9,440.2 872.2,440.2 874.6,440.2 876.9,440.2 879.2,440.2 881.5,440.2 883.9,440.2 886.2,440.2 888.5,440.2 890.8,440.2 893.2,440.2 895.5,440.2 897.8,440.2 900.1,440.2 902.5,440.2 904.8,440.2 907.1,440.2 909.4,440.2 911.8,440.2 914.1,440.2 916.4,440.2 918.7,440.2 921.1,440.2 923.4,440.2 925.7,440.2 928.0,440.2 930.4,440.2 932.7,440.2 935.0,440.2 937.3,440.2 939.6,440.2 942.0,440.2" fill="none" stroke="rgba(0,0,0,0.5)" stroke-width="4.0" stroke-linejoin="round" stroke-linecap="round"/>
<polyline points="107.5,440.2 109.8,440.2 112.2,440.2 114.5,440.2 116.8,440.2 119.1,440.2 121.5,440.2 123.8,440.2 126.1,440.2 128.4,440.2 130.8,440.2 133.1,440.2 135.4,440.2 137.7,440.2 140.1,440.2 142.4,440.2 144.7,440.2 147.0,440.2 149.4,440.2 151.7,440.2 154.0,440.2 156.3,440.2 158.7,440.2 161.0,440.2 163.3,440.2 165.6,440.2 168.0,440.2 170.3,440.2 172.6,440.2 174.9,440.2 177.3,440.2 179.6,440.2 181.9,440.2 184.2,440.2 186.6,440.2 188.9,440.2 191.2,440.2 193.5,440.2 195.8,440.2 198.2,440.2 200.5,440.2 202.8,440.2 205.1,440.2 207.5,440.2 209.8,440.2 212.1,440.2 214.4,440.2 216.8,440.2 219.1,440.2 221.4,440.2 223.7,440.2 226.1,440.2 228.4,440.2 230.7,440.2 233.0,440.2 235.4,440.2 237.7,440.2 240.0,440.2 242.3,440.2 244.7,440.2 247.0,440.2 249.3,440.2 251.6,440.2 254.0,440.2 256.3,440.2 258.6,440.2 260.9,440.2 263.3,440.2 265.6,440.2 267.9,440.2 270.2,440.2 272.6,440.2 274.9,440.2 277.2,440.2 279.5,440.2 281.9,440.2 284.2,440.2 286.5,440.2 288.8,440.2 291.1,440.2 293.5,440.2 295.8,440.2 298.1,440.2 300.4,440.2 302.8,440.2 305.1,440.2 307.4,440.2 309.7,440.2 312.1,440.2 314.4,440.2 316.7,440.2 319.0,440.2 321.4,440.2 323.7,440.2 326.0,440.2 328.3,440.2 330.7,440.2 333.0,440.2 335.3,440.2 337.6,440.2 340.0,440.2 342.3,440.2 344.6,440.2 346.9,440.2 349.3,440.2 351.6,440.2 353.9,440.2 356.2,440.2 358.6,440.2 360.9,440.2 363.2,440.2 365.5,440.2 367.9,440.2 370.2,440.2 372.5,440.2 374.8,440.2 377.2,440.2 379.5,440.2 381.8,440.2 384.1,440.2 386.4,440.2 388.8,440.2 391.1,440.2 393.4,440.2 395.7,440.2 398.1,440.2 400.4,440.2 402.7,440.2 405.0,440.2 407.4,440.2 409.7,440.2 412.0,440.2 414.3,440.2 416.7,440.2 419.0,440.2 421.3,440.2 423.6,440.2 426.0,440.2 428.3,440.2 430.6,440.2 432.9,440.2 435.3,440.2 437.6,440.2 439.9,440.2 442.2,440.2 444.6,440.2 446.9,440.2 449.2,440.2 451.5,440.2 453.9,440.2 456.2,440.2 458.5,440.2 460.8,440.2 463.2,440.2 465.5,440.2 467.8,440.2 470.1,440.2 472.4,440.2 474.8,440.2 477.1,440.2 479.4,440.2 481.7,440.2 484.1,440.2 486.4,440.2 488.7,440.2 491.0,440.2 493.4,440.2 495.7,440.2 498.0,440.2 500.3,440.2 502.7,440.2 505.0,440.2 507.3,440.2 509.6,440.2 512.0,440.2 514.3,440.2 516.6,440.2 518.9,440.2 521.3,440.2 523.6,440.2 525.9,440.2 528.2,440.2 530.6,440.2 532.9,440.2 535.2,440.2 537.5,440.2 539.9,440.2 542.2,440.2 544.5,440.2 546.8,440.2 549.2,440.2 551.5,440.2 553.8,440.2 556.1,440.2 558.5,440.2 560.8,440.2 563.1,440.2 565.4,440.2 567.7,440.2 570.1,440.2 572.4,440.2 574.7,440.2 577.0,440.2 579.4,440.2 581.7,440.2 584.0,440.2 586.3,440.2 588.7,440.2 591.0,440.2 593.3,440.2 595.6,440.2 598.0,440.2 600.3,440.2 602.6,440.2 604.9,440.2 607.3,440.2 609.6,440.2 611.9,440.2 614.2,440.2 616.6,440.2 618.9,440.2 621.2,440.2 623.5,440.2 625.9,440.2 628.2,440.2 630.5,440.2 632.8,440.2 635.2,440.2 637.5,440.2 639.8,440.2 642.1,440.2 644.5,440.2 646.8,440.2 649.1,440.2 651.4,440.1 653.8,440.0 656.1,439.8 658.4,439.6 660.7,439.3 663.0,439.0 665.4,438.5 667.7,437.9 670.0,437.2 672.3,436.4 674.7,435.5 677.0,434.4 679.3,433.2 681.6,431.7 684.0,430.2 686.3,428.4 688.6,426.4 690.9,424.2 693.3,421.9 695.6,419.4 697.9,416.8 700.2,414.1 702.6,411.4 704.9,408.6 707.2,405.9 709.5,403.3 711.9,400.8 714.2,398.4 716.5,396.2 718.8,394.1 721.2,392.4 723.5,390.9 725.8,389.7 728.1,388.8 730.5,388.3 732.8,388.2 735.1,388.6 737.4,389.4 739.8,390.6 742.1,392.1 744.4,393.9 746.7,396.0 749.0,398.3 751.4,400.8 753.7,403.4 756.0,406.2 758.3,409.0 760.7,411.9 763.0,414.7 765.3,417.6 767.6,420.3 770.0,422.9 772.3,425.3 774.6,427.6 776.9,429.6 779.3,431.4 781.6,433.0 783.9,434.4 786.2,435.5 788.6,436.6 790.9,437.4 793.2,438.1 795.5,438.7 797.9,439.2 800.2,439.5 802.5,439.8 804.8,440.0 807.2,440.1 809.5,440.2 811.8,440.2 814.1,440.2 816.5,440.2 818.8,440.2 821.1,440.2 823.4,440.2 825.8,440.2 828.1,440.2 830.4,440.2 832.7,440.2 835.1,440.2 837.4,440.2 839.7,440.2 842.0,440.2 844.3,440.2 846.7,440.2 849.0,440.2 851.3,440.2 853.6,440.2 856.0,440.2 858.3,440.2 860.6,440.2 862.9,440.2 865.3,440.2 867.6,440.2 869.9,440.2 872.2,440.2 874.6,440.2 876.9,440.2 879.2,440.2 881.5,440.2 883.9,440.2 886.2,440.2 888.5,440.2 890.8,440.2 893.2,440.2 895.5,440.2 897.8,440.2 900.1,440.2 902.5,440.2 904.8,440.2 907.1,440.2 909.4,440.2 911.8,440.2 914.1,440.2 916.4,440.2 918.7,440.2 921.1,440.2 923.4,440.2 925.7,440.2 928.0,440.2 930.4,440.2 932.7,440.2 935.0,440.2 937.3,440.2 939.6,440.2 942.0,440.2" fill="none" stroke="rgba(0,0,0,0.5)" stroke-width="4.0" stroke-linejoin="round" stroke-linecap="round"/>
<polyline points="107.5,440.2 109.8,440.2 112.2,440.2 114.5,440.2 116.8,440.2 119.1,440.2 121.5,440.2 123.8,440.2 126.1,440.2 128.4,440.2 130.8,440.2 133.1,440.2 135.4,440.2 137.7,440.2 140.1,440.2 142.4,440.2 144.7,440.2 147.0,440.2 149.4,440.2 151.7,440.2 154.0,440.2 156.3,440.2 158.7,440.2 161.0,440.2 163.3,440.2 165.6,440.2 168.0,440.2 170.3,440.2 172.6,440.2 174.9,440.2 177.3,440.2 179.6,440.2 181.9,440.2 184.2,440.2 186.6,440.2 188.9,440.2 191.2,440.2 193.5,440.2 195.8,440.2 198.2,440.2 200.5,440.2 202.8,440.2 205.1,440.2 207.5,440.2 209.8,440.2 212.1,440.2 214.4,440.2 216.8,440.2 219.1,440.2 221.4,440.2 223.7,440.2 226.1,440.2 228.4,440.2 230.7,440.2 233.0,440.2 235.4,440.2 237.7,440.2 240.0,440.2 242.3,440.2 244.7,440.2 247.0,440.2 249.3,440.2 251.6,440.2 254.0,440.2 256.3,440.2 258.6,440.2 260.9,440.2 263.3,440.2 265.6,440.2 267.9,440.2 270.2,440.2 272.6,440.2 274.9,440.2 277.2,440.2 279.5,440.2 281.9,440.2 284.2,440.2 286.5,440.2 288.8,440.2 291.1,440.2 293.5,440.2 295.8,440.2 298.1,440.2 300.4,440.2 302.8,440.2 305.1,440.2 307.4,440.2 309.7,440.2 312.1,440.2 314.4,440.2 316.7,440.2 319.0,440.2 321.4,440.2 323.7,440.2 326.0,440.2 328.3,440.2 330.7,440.2 333.0,440.2 335.3,440.2 337.6,440.2 340.0,440.2 342.3,440.2 344.6,440.2 346.9,440.2 349.3,440.2 351.6,440.2 353.9,440.2 356.2,440.2 358.6,440.2 360.9,440.2 363.2,440.2 365.5,440.2 367.9,440.2 370.2,440.2 372.5,440.2 374.8,440.2 377.2,440.2 379.5,440.2 381.8,440.2 384.1,440.2 386.4,440.2 388.8,440.2 391.1,440.2 393.4,440.2 395.7,440.2 398.1,440.2 400.4,440.2 402.7,440.2 405.0,440.2 407.4,440.2 409.7,440.2 412.0,440.2 414.3,440.2 416.7,440.2 419.0,440.2 421.3,440.2 423.6,440.2 426.0,440.2 428.3,440.2 430.6,440.2 432.9,440.2 435.3,440.2 437.6,440.2 439.9,440.2 442.2,440.2 444.6,440.2 446.9,440.2 449.2,440.2 451.5,440.2 453.9,440.2 456.2,440.2 458.5,440.2 460.8,440.2 463.2,440.2 465.5,440.2 467.8,440.2 470.1,440.2 472.4,440.2 474.8,440.2 477.1,440.2 479.4,440.2 481.7,440.2 484.1,440.2 486.4,440.2 488.7,440.2 491.0,440.2 493.4,440.2 495.7,440.2 498.0,440.2 500.3,440.2 502.7,440.2 505.0,440.2 507.3,440.2 509.6,440.2 512.0,440.2 514.3,440.2 516.6,440.2 518.9,440.2 521.3,440.2 523.6,440.2 525.9,440.2 528.2,440.2 530.6,440.2 532.9,440.2 535.2,440.2 537.5,440.2 539.9,440.2 542.2,440.2 544.5,440.2 546.8,440.2 549.2,440.2 551.5,440.2 553.8,440.2 556.1,440.2 558.5,440.2 560.8,440.2 563.1,440.2 565.4,440.2 567.7,440.2 570.1,440.2 572.4,440.2 574.7,440.2 577.0,440.2 579.4,440.2 581.7,440.2 584.0,440.2 586.3,440.2 588.7,440.2 591.0,440.2 593.3,440.2 595.6,440.2 598.0,440.2 600.3,440.2 602.6,440.2 604.9,440.2 607.3,440.2 609.6,440.2 611.9,440.2 614.2,440.2 616.6,440.2 618.9,440.2 621.2,440.2 623.5,440.2 625.9,440.2 628.2,440.2 630.5,440.2 632.8,440.2 635.2,440.2 637.5,440.2 639.8,440.2 642.1,440.2 644.5,440.2 646.8,440.2 649.1,440.2 651.4,440.2 653.8,440.2 656.1,440.2 658.4,440.2 660.7,440.2 663.0,440.2 665.4,440.2 667.7,440.2 670.0,440.2 672.3,440.2 674.7,440.2 677.0,440.2 679.3,440.2 681.6,440.2 684.0,440.2 686.3,440.2 688.6,440.2 690.9,440.2 693.3,440.2 695.6,440.2 697.9,440.2 700.2,440.2 702.6,440.2 704.9,440.2 707.2,440.2 709.5,440.2 711.9,440.2 714.2,440.2 716.5,440.2 718.8,440.2 721.2,440.2 723.5,440.2 725.8,440.2 728.1,440.2 730.5,440.2 732.8,440.2 735.1,440.2 737.4,440.2 739.8,440.2 742.1,440.2 744.4,440.2 746.7,440.2 749.0,440.2 751.4,440.2 753.7,440.2 756.0,440.2 758.3,440.2 760.7,440.2 763.0,440.2 765.3,440.2 767.6,440.2 770.0,440.2 772.3,440.2 774.6,440.2 776.9,440.2 779.3,440.2 781.6,440.2 783.9,440.2 786.2,440.2 788.6,440.2 790.9,440.2 793.2,440.2 795.5,440.2 797.9,440.2 800.2,440.2 802.5,440.2 804.8,440.2 807.2,440.2 809.5,440.2 811.8,440.2 814.1,440.2 816.5,440.2 818.8,440.2 821.1,440.2 823.4,440.2 825.8,440.2 828.1,440.2 830.4,440.2 832.7,440.2 835.1,440.2 837.4,440.2 839.7,440.2 842.0,440.2 844.3,440.2 846.7,440.2 849.0,440.2 851.3,440.2 853.6,440.2 856.0,440.2 858.3,440.2 860.6,440.2 862.9,440.2 865.3,440.2 867.6,440.2 869.9,440.2 872.2,440.2 874.6,440.2 876.9,440.2 879.2,440.2 881.5,440.2 883.9,440.2 886.2,440.2 888.5,440.2 890.8,440.2 893.2,440.2 895.5,440.2 897.8,440.2 900.1,440.2 902.5,440.2 904.8,440.2 907.1,440.2 909.4,440.2 911.8,440.2 914.1,440.2 916.4,440.2 918.7,440.2 921.1,440.2 923.4,440.2 925.7,440.2 928.0,440.2 930.4,440.2 932.7,440.2 935.0,440.2 937.3,440.2 939.6,440.2 942.0,440.2" fill="none" stroke="rgba(0,0,0,0.5)" stroke-width="4.0" stroke-linejoin="round" stroke-linecap="round"/>
<polyline points="107.5,440.2 109.8,440.2 112.2,440.2 114.5,440.2 116.8,440.2 119.1,440.2 121.5,440.2 123.8,440.2 126.1,440.2 128.4,440.2 130.8,440.2 133.1,440.2 135.4,440.2 137.7,440.2 140.1,440.2 142.4,440.2 144.7,440.2 147.0,440.2 149.4,440.2 151.7,440.2 154.0,440.2 156.3,440.2 158.7,440.2 161.0,440.2 163.3,440.2 165.6,440.2 168.0,440.2 170.3,440.2 172.6,440.2 174.9,440.2 177.3,440.2 179.6,440.2 181.9,440.2 184.2,440.2 186.6,440.2 188.9,440.2 191.2,440.2 193.5,440.2 195.8,440.2 198.2,440.2 200.5,440.2 202.8,440.2 205.1,440.2 207.5,440.2 209.8,440.2 212.1,440.2 214.4,440.2 216.8,440.2 219.1,440.2 221.4,440.2 223.7,440.2 226.1,440.2 228.4,440.2 230.7,440.2 233.0,440.2 235.4,440.2 237.7,440.2 240.0,440.2 242.3,440.2 244.7,440.2 247.0,440.2 249.3,440.2 251.6,440.2 254.0,440.2 256.3,440.2 258.6,440.2 260.9,440.2 263.3,440.2 265.6,440.2 267.9,440.2 270.2,440.2 272.6,440.2 274.9,440.2 277.2,440.2 279.5,440.2 281.9,440.2 284.2,440.2 286.5,440.2 288.8,440.2 291.1,440.2 293.5,440.2 295.8,440.2 298.1,440.2 300.4,440.2 302.8,440.2 305.1,440.2 307.4,440.2 309.7,440.2 312.1,440.2 314.4,440.2 316.7,440.2 319.0,440.2 321.4,440.2 323.7,440.2 326.0,440.2 328.3,440.2 330.7,440.2 333.0,440.2 335.3,440.2 337.6,440.2 340.0,440.2 342.3,440.2 344.6,440.2 346.9,440.2 349.3,440.2 351.6,440.2 353.9,440.2 356.2,440.2 358.6,440.2 360.9,440.2 363.2,440.2 365.5,440.2 367.9,440.2 370.2,440.2 372.5,440.2 374.8,440.2 377.2,440.2 379.5,440.2 381.8,440.2 384.1,440.2 386.4,440.2 388.8,440.2 391.1,440.2 393.4,440.2 395.7,440.2 398.1,440.2 400.4,440.2 402.7,440.2 405.0,440.2 407.4,440.2 409.7,440.2 412.0,440.2 414.3,440.2 416.7,440.2 419.0,440.2 421.3,440.2 423.6,440.2 426.0,440.2 428.3,440.2 430.6,440.2 432.9,440.2 435.3,440.2 437.6,440.2 439.9,440.2 442.2,440.2 444.6,440.2 446.9,440.2 449.2,440.2 451.5,440.2 453.9,440.2 456.2,440.2 458.5,440.2 460.8,440.2 463.2,440.2 465.5,440.2 467.8,440.2 470.1,440.2 472.4,440.2 474.8,440.2 477.1,440.2 479.4,440.2 481.7,440.2 484.1,440.2 486.4,440.2 488.7,440.2 491.0,440.2 493.4,440.2 495.7,440.2 498.0,440.2 500.3,440.2 502.7,440.2 505.0,440.2 507.3,440.2 509.6,440.2 512.0,440.2 514.3,440.2 516.6,440.2 518.9,440.2 521.3,440.2 523.6,440.2 525.9,440.2 528.2,440.2 530.6,440.2 532.9,440.2 535.2,440.2 537.5,440.2 539.9,440.2 542.2,440.2 544.5,440.2 546.8,440.2 549.2,440.2 551.5,440.2 553.8,440.2 556.1,440.2 558.5,440.2 560.8,440.2 563.1,440.2 565.4,440.2 567.7,440.2 570.1,440.2 572.4,440.2 574.7,440.2 577.0,440.2 579.4,440.2 581.7,440.2 584.0,440.2 586.3,440.2 588.7,440.2 591.0,440.2 593.3,440.2 595.6,440.2 598.0,440.2 600.3,440.2 602.6,440.2 604.9,440.2 607.3,440.2 609.6,440.2 611.9,440.2 614.2,440.2 616.6,440.2 618.9,440.2 621.2,440.2 623.5,440.2 625.9,440.2 628.2,440.2 630.5,440.2 632.8,440.2 635.2,440.2 637.5,440.2 639.8,440.2 642.1,440.2 644.5,440.2 646.8,440.2 649.1,440.2 651.4,440.2 653.8,440.2 656.1,440.2 658.4,440.2 660.7,440.2 663.0,440.2 665.4,440.2 667.7,440.2 670.0,440.2 672.3,440.2 674.7,440.2 677.0,440.2 679.3,440.2 681.6,440.2 684.0,440.2 686.3,440.2 688.6,440.2 690.9,440.2 693.3,440.2 695.6,440.2 697.9,440.2 700.2,440.2 702.6,440.2 704.9,440.2 707.2,440.2 709.5,440.2 711.9,440.2 714.2,440.2 716.5,440.2 718.8,440.2 721.2,440.2 723.5,440.2 725.8,440.2 728.1,440.2 730.5,440.2 732.8,440.2 735.1,440.2 737.4,440.2 739.8,440.1 742.1,440.0 744.4,439.9 746.7,439.7 749.0,439.3 751.4,438.9 753.7,438.3 756.0,437.6 758.3,436.8 760.7,435.7 763.0,434.5 765.3,433.1 767.6,431.4 770.0,429.5 772.3,427.4 774.6,424.9 776.9,422.2 779.3,419.3 781.6,416.1 783.9,412.9 786.2,409.5 788.6,406.0 790.9,402.6 793.2,399.2 795.5,395.9 797.9,392.8 800.2,389.8 802.5,387.1 804.8,384.7 807.2,382.7 809.5,381.0 811.8,379.8 814.1,379.1 816.5,378.9 818.8,379.2 821.1,380.1 823.4,381.5 825.8,383.2 828.1,385.3 830.4,387.8 832.7,390.5 835.1,393.5 837.4,396.6 839.7,399.8 842.0,403.2 844.3,406.6 846.7,409.9 849.0,413.3 851.3,416.5 853.6,419.5 856.0,422.4 858.3,425.0 860.6,427.4 862.9,429.4 865.3,431.3 867.6,432.9 869.9,434.3 872.2,435.6 874.6,436.6 876.9,437.5 879.2,438.2 881.5,438.8 883.9,439.2 886.2,439.6 888.5,439.8 890.8,440.0 893.2,440.1 895.5,440.2 897.8,440.2 900.1,440.2 902.5,440.2 904.8,440.2 907.1,440.2 909.4,440.2 911.8,440.2 914.1,440.2 916.4,440.2 918.7,440.2 921.1,440.2 923.4,440.2 925.7,440.2 928.0,440.2 930.4,440.2 932.7,440.2 935.0,440.2 937.3,440.2 939.6,440.2 942.0,440.2" fill="none" stroke="rgba(0,0,0,0.5)" stroke-width="4.0" stroke-linejoin="round" stroke-linecap="round"/>
<polyline points="107.5,440.2 109.8,440.2 112.2,440.2 114.5,440.2 116.8,440.2 119.1,440.2 121.5,440.2 123.8,440.2 126.1,440.2 128.4,440.2 130.8,440.2 133.1,440.2 135.4,440.2 137.7,440.2 140.1,440.2 142.4,440.2 144.7,440.2 147.0,440.2 149.4,440.2 151.7,440.2 154.0,440.2 156.3,440.2 158.7,440.2 161.0,440.2 163.3,440.2 165.6,440.2 168.0,440.2 170.3,440.2 172.6,440.2 174.9,440.2 177.3,440.2 179.6,440.2 181.9,440.2 184.2,440.2 186.6,440.2 188.9,440.2 191.2,440.2 193.5,440.2 195.8,440.2 198.2,440.2 200.5,440.2 202.8,440.2 205.1,440.2 207.5,440.2 209.8,440.2 212.1,440.2 214.4,440.2 216.8,440.2 219.1,440.2 221.4,440.2 223.7,440.2 226.1,440.2 228.4,440.2 230.7,440.2 233.0,440.2 235.4,440.2 237.7,440.2 240.0,440.2 242.3,440.2 244.7,440.2 247.0,440.2 249.3,440.2 251.6,440.2 254.0,440.2 256.3,440.2 258.6,440.2 260.9,440.2 263.3,440.2 265.6,440.2 267.9,440.2 270.2,440.2 272.6,440.2 274.9,440.2 277.2,440.2 279.5,440.2 281.9,440.2 284.2,440.2 286.5,440.2 288.8,440.2 291.1,440.2 293.5,440.2 295.8,440.2 298.1,440.2 300.4,440.2 302.8,440.2 305.1,440.2 307.4,440.2 309.7,440.2 312.1,440.2 314.4,440.2 316.7,440.2 319.0,440.2 321.4,440.2 323.7,440.2 326.0,440.2 328.3,440.2 330.7,440.2 333.0,440.2 335.3,440.2 337.6,440.2 340.0,440.2 342.3,440.2 344.6,440.2 346.9,440.2 349.3,440.2 351.6,440.2 353.9,440.2 356.2,440.2 358.6,440.2 360.9,440.2 363.2,440.2 365.5,440.2 367.9,440.2 370.2,440.2 372.5,440.2 374.8,440.2 377.2,440.2 379.5,440.2 381.8,440.2 384.1,440.2 386.4,440.2 388.8,440.2 391.1,440.2 393.4,440.2 395.7,440.2 398.1,440.2 400.4,440.2 402.7,440.2 405.0,440.2 407.4,440.2 409.7,440.2 412.0,440.2 414.3,440.2 416.7,440.2 419.0,440.2 421.3,440.2 423.6,440.2 426.0,440.2 428.3,440.2 430.6,440.2 432.9,440.2 435.3,440.2 437.6,440.2 439.9,440.2 442.2,440.2 444.6,440.2 446.9,440.2 449.2,440.2 451.5,440.2 453.9,440.2 456.2,440.2 458.5,440.2 460.8,440.2 463.2,440.2 465.5,440.2 467.8,440.2 470.1,440.2 472.4,440.2 474.8,440.2 477.1,440.2 479.4,440.2 481.7,440.2 484.1,440.2 486.4,440.2 488.7,440.2 491.0,440.2 493.4,440.2 495.7,440.2 498.0,440.2 500.3,440.2 502.7,440.2 505.0,440.2 507.3,440.2 509.6,440.2 512.0,440.2 514.3,440.2 516.6,440.2 518.9,440.2 521.3,440.2 523.6,440.2 525.9,440.2 528.2,440.2 530.6,440.2 532.9,440.2 535.2,440.2 537.5,440.2 539.9,440.2 542.2,440.2 544.5,440.2 546.8,440.2 549.2,440.2 551.5,440.2 553.8,440.2 556.1,440.2 558.5,440.2 560.8,440.2 563.1,440.2 565.4,440.2 567.7,440.2 570.1,440.2 572.4,440.2 574.7,440.2 577.0,440.2 579.4,440.2 581.7,440.2 584.0,440.2 586.3,440.2 588.7,440.2 591.0,440.2 593.3,440.2 595.6,440.2 598.0,440.2 600.3,440.2 602.6,440.2 604.9,440.2 607.3,440.2 609.6,440.2 611.9,440.2 614.2,440.2 616.6,440.2 618.9,440.2 621.2,440.2 623.5,440.2 625.9,440.2 628.2,440.2 630.5,440.2 632.8,440.2 635.2,440.2 637.5,440.2 639.8,440.2 642.1,440.2 644.5,440.2 646.8,440.2 649.1,440.2 651.4,440.2 653.8,440.2 656.1,440.2 658.4,440.2 660.7,440.2 663.0,440.2 665.4,440.2 667.7,440.2 670.0,440.2 672.3,440.2 674.7,440.2 677.0,440.2 679.3,440.2 681.6,440.2 684.0,440.2 686.3,440.2 688.6,440.2 690.9,440.2 693.3,440.2 695.6,440.2 697.9,440.2 700.2,440.2 702.6,440.2 704.9,440.2 707.2,440.2 709.5,440.2 711.9,440.2 714.2,440.2 716.5,440.2 718.8,440.2 721.2,440.2 723.5,440.2 725.8,440.2 728.1,440.2 730.5,440.2 732.8,440.2 735.1,440.2 737.4,440.2 739.8,440.2 742.1,440.2 744.4,440.2 746.7,440.2 749.0,440.2 751.4,440.2 753.7,440.2 756.0,440.2 758.3,440.2 760.7,440.2 763.0,440.2 765.3,440.2 767.6,440.2 770.0,440.2 772.3,440.2 774.6,440.2 776.9,440.2 779.3,440.2 781.6,440.2 783.9,440.2 786.2,440.2 788.6,440.1 790.9,440.1 793.2,440.0 795.5,439.9 797.9,439.9 800.2,439.7 802.5,439.6 804.8,439.4 807.2,439.2 809.5,439.0 811.8,438.8 814.1,438.5 816.5,438.2 818.8,437.8 821.1,437.4 823.4,437.0 825.8,436.6 828.1,436.2 830.4,435.7 832.7,435.3 835.1,434.8 837.4,434.4 839.7,434.0 842.0,433.6 844.3,433.3 846.7,433.0 849.0,432.7 851.3,432.5 853.6,432.4 856.0,432.3 858.3,432.3 860.6,432.3 862.9,432.4 865.3,432.6 867.6,432.8 869.9,433.1 872.2,433.4 874.6,433.7 876.9,434.1 879.2,434.5 881.5,434.9 883.9,435.3 886.2,435.8 888.5,436.2 890.8,436.6 893.2,437.1 895.5,437.5 897.8,437.8 900.1,438.2 902.5,438.5 904.8,438.8 907.1,439.0 909.4,439.3 911.8,439.4 914.1,439.6 916.4,439.7 918.7,439.9 921.1,439.9 923.4,440.0 925.7,440.1 928.0,440.1 930.4,440.2 932.7,440.2 935.0,440.2 937.3,440.2 939.6,440.2 942.0,440.2" fill="none" stroke="rgba(0,0,0,0.5)" stroke-width="4.0" stroke-linejoin="round" stroke-linecap="round"/>
<polyline points="107.5,440.2 109.8,440.2 112.2,440.2 114.5,440.2 116.8,440.2 119.1,440.2 121.5,440.2 123.8,440.2 126.1,440.2 128.4,440.2 130.8,440.2 133.1,440.2 135.4,440.2 137.7,440.2 140.1,440.2 142.4,440.2 144.7,440.2 147.0,440.2 149.4,440.2 151.7,440.2 154.0,440.2 156.3,440.2 158.7,440.2 161.0,440.2 163.3,440.2 165.6,440.2 168.0,440.2 170.3,440.2 172.6,440.2 174.9,440.2 177.3,440.2 179.6,440.2 181.9,440.2 184.2,440.2 186.6,440.2 188.9,440.2 191.2,440.2 193.5,440.2 195.8,440.2 198.2,440.2 200.5,440.2 202.8,440.2 205.1,440.2 207.5,440.2 209.8,440.2 212.1,440.2 214.4,440.2 216.8,440.2 219.1,440.2 221.4,440.2 223.7,440.2 226.1,440.2 228.4,440.2 230.7,440.2 233.0,440.2 235.4,440.2 237.7,440.2 240.0,440.2 242.3,440.2 244.7,440.2 247.0,440.2 249.3,440.2 251.6,440.2 254.0,440.2 256.3,440.2 258.6,440.2 260.9,440.2 263.3,440.2 265.6,440.2 267.9,440.2 270.2,440.2 272.6,440.2 274.9,440.2 277.2,440.2 279.5,440.2 281.9,440.2 284.2,440.2 286.5,440.2 288.8,440.2 291.1,440.2 293.5,440.2 295.8,440.2 298.1,440.2 300.4,440.2 302.8,440.2 305.1,440.2 307.4,440.2 309.7,440.2 312.1,440.2 314.4,440.2 316.7,440.2 319.0,440.2 321.4,440.2 323.7,440.2 326.0,440.2 328.3,440.2 330.7,440.2 333.0,440.2 335.3,440.2 337.6,440.2 340.0,440.2 342.3,440.2 344.6,440.2 346.9,440.2 349.3,440.2 351.6,440.2 353.9,440.2 356.2,440.2 358.6,440.2 360.9,440.2 363.2,440.2 365.5,440.2 367.9,440.2 370.2,440.2 372.5,440.2 374.8,440.2 377.2,440.2 379.5,440.2 381.8,440.2 384.1,440.2 386.4,440.2 388.8,440.2 391.1,440.2 393.4,440.2 395.7,440.2 398.1,440.2 400.4,440.2 402.7,440.2 405.0,440.2 407.4,440.2 409.7,440.2 412.0,440.2 414.3,440.2 416.7,440.2 419.0,440.2 421.3,440.2 423.6,440.2 426.0,440.2 428.3,440.2 430.6,440.2 432.9,440.2 435.3,440.2 437.6,440.2 439.9,440.2 442.2,440.2 444.6,440.2 446.9,440.2 449.2,440.2 451.5,440.2 453.9,440.2 456.2,440.2 458.5,440.2 460.8,440.2 463.2,440.2 465.5,440.2 467.8,440.2 470.1,440.2 472.4,440.2 474.8,440.2 477.1,440.2 479.4,440.2 481.7,440.2 484.1,440.2 486.4,440.2 488.7,440.2 491.0,440.2 493.4,440.2 495.7,440.2 498.0,440.2 500.3,440.2 502.7,440.2 505.0,440.2 507.3,440.2 509.6,440.2 512.0,440.2 514.3,440.2 516.6,440.2 518.9,440.2 521.3,440.2 523.6,440.2 525.9,440.2 528.2,440.2 530.6,440.2 532.9,440.2 535.2,440.2 537.5,440.2 539.9,440.2 542.2,440.2 544.5,440.2 546.8,440.2 549.2,440.2 551.5,440.2 553.8,440.2 556.1,440.2 558.5,440.2 560.8,440.2 563.1,440.2 565.4,440.2 567.7,440.2 570.1,440.2 572.4,440.2 574.7,440.2 577.0,440.2 579.4,440.2 581.7,440.2 584.0,440.2 586.3,440.2 588.7,440.2 591.0,440.2 593.3,440.2 595.6,440.2 598.0,440.2 600.3,440.2 602.6,440.2 604.9,440.2 607.3,440.2 609.6,440.2 611.9,440.2 614.2,440.2 616.6,440.2 618.9,440.2 621.2,440.2 623.5,440.2 625.9,440.2 628.2,440.2 630.5,440.2 632.8,440.2 635.2,440.2 637.5,440.2 639.8,440.2 642.1,440.2 644.5,440.2 646.8,440.2 649.1,440.2 651.4,440.2 653.8,440.2 656.1,440.2 658.4,440.2 660.7,440.2 663.0,440.2 665.4,440.2 667.7,440.2 670.0,440.2 672.3,440.2 674.7,440.2 677.0,440.2 679.3,440.2 681.6,440.2 684.0,440.2 686.3,440.2 688.6,440.2 690.9,440.2 693.3,440.2 695.6,440.2 697.9,440.2 700.2,440.2 702.6,440.2 704.9,440.2 707.2,440.2 709.5,440.2 711.9,440.2 714.2,440.2 716.5,440.2 718.8,440.2 721.2,440.2 723.5,440.2 725.8,440.2 728.1,440.2 730.5,440.2 732.8,440.2 735.1,440.2 737.4,440.2 739.8,440.2 742.1,440.2 744.4,440.2 746.7,440.2 749.0,440.2 751.4,440.2 753.7,440.2 756.0,440.2 758.3,440.2 760.7,440.2 763.0,440.2 765.3,440.2 767.6,440.2 770.0,440.2 772.3,440.2 774.6,440.2 776.9,440.2 779.3,440.2 781.6,440.2 783.9,440.2 786.2,440.2 788.6,440.2 790.9,440.2 793.2,440.2 795.5,440.2 797.9,440.2 800.2,440.2 802.5,440.2 804.8,440.2 807.2,440.2 809.5,440.2 811.8,440.2 814.1,440.2 816.5,440.2 818.8,440.2 821.1,440.2 823.4,440.2 825.8,440.2 828.1,440.3 830.4,440.3 832.7,440.3 835.1,440.4 837.4,440.5 839.7,440.6 842.0,440.7 844.3,440.9 846.7,441.0 849.0,441.2 851.3,441.5 853.6,441.7 856.0,442.0 858.3,442.4 860.6,442.7 862.9,443.1 865.3,443.5 867.6,444.0 869.9,444.4 872.2,444.8 874.6,445.3 876.9,445.7 879.2,446.1 881.5,446.4 883.9,446.8 886.2,447.0 888.5,447.3 890.8,447.5 893.2,447.6 895.5,447.6 897.8,447.6 900.1,447.5 902.5,447.3 904.8,447.0 907.1,446.6 909.4,446.2 911.8,445.7 914.1,445.2 916.4,444.6 918.7,444.0 921.1,443.5 923.4,442.9 925.7,442.4 928.0,441.9 930.4,441.4 932.7,441.0 935.0,440.7 937.3,440.4 939.6,440.3 942.0,440.2" fill="none" stroke="rgba(0,0,0,0.5)" stroke-width="4.0" stroke-linejoin="round" stroke-linecap="round"/>
<polyline points="107.5,440.2 109.8,440.2 112.2,440.2 114.5,440.2 116.8,440.2 119.1,440.2 121.5,440.2 123.8,440.2 126.1,440.2 128.4,440.2 130.8,440.2 133.1,440.2 135.4,440.2 137.7,440.2 140.1,440.2 142.4,440.2 144.7,440.2 147.0,440.2 149.4,440.2 151.7,440.2 154.0,440.2 156.3,440.2 158.7,440.2 161.0,440.2 163.3,440.2 165.6,440.2 168.0,440.2 170.3,440.2 172.6,440.2 174.9,440.2 177.3,440.2 179.6,440.2 181.9,440.2 184.2,440.2 186.6,440.2 188.9,440.2 191.2,440.2 193.5,440.2 195.8,440.2 198.2,440.2 200.5,440.2 202.8,440.2 205.1,440.2 207.5,440.2 209.8,440.2 212.1,440.2 214.4,440.2 216.8,440.2 219.1,440.2 221.4,440.2 223.7,440.2 226.1,440.2 228.4,440.2 230.7,440.2 233.0,440.2 235.4,440.2 237.7,440.2 240.0,440.2 242.3,440.2 244.7,440.2 247.0,440.2 249.3,440.2 251.6,440.2 254.0,440.2 256.3,440.2 258.6,440.2 260.9,440.2 263.3,440.2 265.6,440.2 267.9,440.2 270.2,440.2 272.6,440.2 274.9,440.2 277.2,440.2 279.5,440.2 281.9,440.2 284.2,440.2 286.5,440.2 288.8,440.2 291.1,440.2 293.5,440.2 295.8,440.2 298.1,440.2 300.4,440.2 302.8,440.2 305.1,440.2 307.4,440.2 309.7,440.2 312.1,440.2 314.4,440.2 316.7,440.2 319.0,440.2 321.4,440.2 323.7,440.2 326.0,440.2 328.3,440.2 330.7,440.2 333.0,440.2 335.3,440.2 337.6,440.2 340.0,440.2 342.3,440.2 344.6,440.2 346.9,440.2 349.3,440.2 351.6,440.2 353.9,440.2 356.2,440.2 358.6,440.2 360.9,440.2 363.2,440.2 365.5,440.2 367.9,440.2 370.2,440.2 372.5,440.2 374.8,440.2 377.2,440.2 379.5,440.2 381.8,440.2 384.1,440.2 386.4,440.2 388.8,440.2 391.1,440.2 393.4,440.2 395.7,440.2 398.1,440.2 400.4,440.2 402.7,440.2 405.0,440.2 407.4,440.2 409.7,440.2 412.0,440.2 414.3,440.2 416.7,440.2 419.0,440.2 421.3,440.2 423.6,440.2 426.0,440.2 428.3,440.2 430.6,440.2 432.9,440.2 435.3,440.2 437.6,440.2 439.9,440.2 442.2,440.2 444.6,440.2 446.9,440.2 449.2,440.2 451.5,440.2 453.9,440.2 456.2,440.2 458.5,440.2 460.8,440.2 463.2,440.2 465.5,440.2 467.8,440.2 470.1,440.2 472.4,440.2 474.8,440.2 477.1,440.2 479.4,440.2 481.7,440.2 484.1,440.2 486.4,440.2 488.7,440.2 491.0,440.2 493.4,440.2 495.7,440.2 498.0,440.2 500.3,440.2 502.7,440.2 505.0,440.2 507.3,440.2 509.6,440.2 512.0,440.2 514.3,440.2 516.6,440.2 518.9,440.2 521.3,440.2 523.6,440.2 525.9,440.2 528.2,440.2 530.6,440.2 532.9,440.2 535.2,440.2 537.5,440.2 539.9,440.2 542.2,440.2 544.5,440.2 546.8,440.2 549.2,440.2 551.5,440.2 553.8,440.2 556.1,440.2 558.5,440.2 560.8,440.2 563.1,440.2 565.4,440.2 567.7,440.2 570.1,440.2 572.4,440.2 574.7,440.2 577.0,440.2 579.4,440.2 581.7,440.2 584.0,440.2 586.3,440.2 588.7,440.2 591.0,440.2 593.3,440.2 595.6,440.2 598.0,440.2 600.3,440.2 602.6,440.2 604.9,440.2 607.3,440.2 609.6,440.2 611.9,440.2 614.2,440.2 616.6,440.2 618.9,440.2 621.2,440.2 623.5,440.2 625.9,440.2 628.2,440.2 630.5,440.2 632.8,440.2 635.2,440.2 637.5,440.2 639.8,440.2 642.1,440.2 644.5,440.2 646.8,440.2 649.1,440.2 651.4,440.2 653.8,440.2 656.1,440.2 658.4,440.2 660.7,440.2 663.0,440.2 665.4,440.2 667.7,440.2 670.0,440.2 672.3,440.2 674.7,440.2 677.0,440.2 679.3,440.2 681.6,440.2 684.0,440.2 686.3,440.2 688.6,440.2 690.9,440.2 693.3,440.2 695.6,440.2 697.9,440.2 700.2,440.2 702.6,440.2 704.9,440.2 707.2,440.2 709.5,440.2 711.9,440.2 714.2,440.2 716.5,440.2 718.8,440.2 721.2,440.2 723.5,440.2 725.8,440.2 728.1,440.2 730.5,440.2 732.8,440.2 735.1,440.2 737.4,440.2 739.8,440.2 742.1,440.2 744.4,440.2 746.7,440.2 749.0,440.2 751.4,440.2 753.7,440.2 756.0,440.2 758.3,440.2 760.7,440.2 763.0,440.2 765.3,440.2 767.6,440.2 770.0,440.2 772.3,440.2 774.6,440.2 776.9,440.2 779.3,440.2 781.6,440.2 783.9,440.2 786.2,440.2 788.6,440.2 790.9,440.2 793.2,440.2 795.5,440.2 797.9,440.2 800.2,440.2 802.5,440.2 804.8,440.2 807.2,440.2 809.5,440.2 811.8,440.2 814.1,440.2 816.5,440.2 818.8,440.2 821.1,440.2 823.4,440.2 825.8,440.2 828.1,440.2 830.4,440.2 832.7,440.2 835.1,440.2 837.4,440.2 839.7,440.2 842.0,440.2 844.3,440.2 846.7,440.2 849.0,440.2 851.3,440.2 853.6,440.2 856.0,440.2 858.3,440.2 860.6,440.2 862.9,440.3 865.3,440.4 867.6,440.6 869.9,440.9 872.2,441.4 874.6,442.1 876.9,442.9 879.2,444.0 881.5,445.3 883.9,447.0 886.2,448.9 888.5,451.2 890.8,453.8 893.2,456.9 895.5,460.3 897.8,464.2 900.1,468.6 902.5,473.5 904.8,478.7 907.1,484.2 909.4,489.6 911.8,494.7 914.1,499.3 916.4,503.3 918.7,506.3 921.1,508.3 923.4,508.9 925.7,508.0 928.0,505.3 930.4,500.6 932.7,493.8 935.0,484.5 937.3,472.6 939.6,457.9 942.0,440.2" fill="none" stroke="rgba(0,0,0,0.5)" stroke-width="4.0" stroke-linejoin="round" stroke-linecap="round"/>
<polyline points="107.5,440.2 109.8,440.2 112.2,440.2 114.5,440.2 116.8,440.2 119.1,440.2 121.5,440.2 123.8,440.2 126.1,440.2 128.4,440.2 130.8,440.2 133.1,440.2 135.4,440.2 137.7,440.2 140.1,440.2 142.4,440.2 144.7,440.2 147.0,440.2 149.4,440.2 151.7,440.2 154.0,440.2 156.3,440.2 158.7,440.2 161.0,440.2 163.3,440.2 165.6,440.2 168.0,440.2 170.3,440.2 172.6,440.2 174.9,440.2 177.3,440.2 179.6,440.2 181.9,440.2 184.2,440.2 186.6,440.2 188.9,440.2 191.2,440.2 193.5,440.2 195.8,440.2 198.2,440.2 200.5,440.2 202.8,440.2 205.1,440.2 207.5,440.2 209.8,440.2 212.1,440.2 214.4,440.2 216.8,440.2 219.1,440.2 221.4,440.2 223.7,440.2 226.1,440.2 228.4,440.2 230.7,440.2 233.0,440.2 235.4,440.2 237.7,440.2 240.0,440.2 242.3,440.2 244.7,440.2 247.0,440.2 249.3,440.2 251.6,440.2 254.0,440.2 256.3,440.2 258.6,440.2 260.9,440.2 263.3,440.2 265.6,440.2 267.9,440.2 270.2,440.2 272.6,440.2 274.9,440.2 277.2,440.2 279.5,440.2 281.9,440.2 284.2,440.2 286.5,440.2 288.8,440.2 291.1,440.2 293.5,440.2 295.8,440.2 298.1,440.2 300.4,440.2 302.8,440.2 305.1,440.2 307.4,440.2 309.7,440.2 312.1,440.2 314.4,440.2 316.7,440.2 319.0,440.2 321.4,440.2 323.7,440.2 326.0,440.2 328.3,440.2 330.7,440.2 333.0,440.2 335.3,440.2 337.6,440.2 340.0,440.2 342.3,440.2 344.6,440.2 346.9,440.2 349.3,440.2 351.6,440.2 353.9,440.2 356.2,440.2 358.6,440.2 360.9,440.2 363.2,440.2 365.5,440.2 367.9,440.2 370.2,440.2 372.5,440.2 374.8,440.2 377.2,440.2 379.5,440.2 381.8,440.2 384.1,440.2 386.4,440.2 388.8,440.2 391.1,440.2 393.4,440.2 395.7,440.2 398.1,440.2 400.4,440.2 402.7,440.2 405.0,440.2 407.4,440.2 409.7,440.2 412.0,440.2 414.3,440.2 416.7,440.2 419.0,440.2 421.3,440.2 423.6,440.2 426.0,440.2 428.3,440.2 430.6,440.2 432.9,440.2 435.3,440.2 437.6,440.2 439.9,440.2 442.2,440.2 444.6,440.2 446.9,440.2 449.2,440.2 451.5,440.2 453.9,440.2 456.2,440.2 458.5,440.2 460.8,440.2 463.2,440.2 465.5,440.2 467.8,440.2 470.1,440.2 472.4,440.2 474.8,440.2 477.1,440.2 479.4,440.2 481.7,440.2 484.1,440.2 486.4,440.2 488.7,440.2 491.0,440.2 493.4,440.2 495.7,440.2 498.0,440.2 500.3,440.2 502.7,440.2 505.0,440.2 507.3,440.2 509.6,440.2 512.0,440.2 514.3,440.2 516.6,440.2 518.9,440.2 521.3,440.2 523.6,440.2 525.9,440.2 528.2,440.2 530.6,440.2 532.9,440.2 535.2,440.2 537.5,440.2 539.9,440.2 542.2,440.2 544.5,440.2 546.8,440.2 549.2,440.2 551.5,440.2 553.8,440.2 556.1,440.2 558.5,440.2 560.8,440.2 563.1,440.2 565.4,440.2 567.7,440.2 570.1,440.2 572.4,440.2 574.7,440.2 577.0,440.2 579.4,440.2 581.7,440.2 584.0,440.2 586.3,440.2 588.7,440.2 591.0,440.2 593.3,440.2 595.6,440.2 598.0,440.2 600.3,440.2 602.6,440.2 604.9,440.2 607.3,440.2 609.6,440.2 611.9,440.2 614.2,440.2 616.6,440.2 618.9,440.2 621.2,440.2 623.5,440.2 625.9,440.2 628.2,440.2 630.5,440.2 632.8,440.2 635.2,440.2 637.5,440.2 639.8,440.2 642.1,440.2 644.5,440.2 646.8,440.2 649.1,440.2 651.4,440.2 653.8,440.2 656.1,440.2 658.4,440.2 660.7,440.2 663.0,440.2 665.4,440.2 667.7,440.2 670.0,440.2 672.3,440.2 674.7,440.2 677.0,440.2 679.3,440.2 681.6,440.2 684.0,440.2 686.3,440.2 688.6,440.2 690.9,440.2 693.3,440.2 695.6,440.2 697.9,440.2 700.2,440.2 702.6,440.2 704.9,440.2 707.2,440.2 709.5,440.2 711.9,440.2 714.2,440.2 716.5,440.2 718.8,440.2 721.2,440.2 723.5,440.2 725.8,440.2 728.1,440.2 730.5,440.2 732.8,440.2 735.1,440.2 737.4,440.2 739.8,440.2 742.1,440.2 744.4,440.2 746.7,440.2 749.0,440.2 751.4,440.2 753.7,440.2 756.0,440.2 758.3,440.2 760.7,440.2 763.0,440.2 765.3,440.2 767.6,440.2 770.0,440.2 772.3,440.2 774.6,440.2 776.9,440.2 779.3,440.2 781.6,440.2 783.9,440.2 786.2,440.2 788.6,440.2 790.9,440.2 793.2,440.2 795.5,440.2 797.9,440.2 800.2,440.2 802.5,440.2 804.8,440.2 807.2,440.2 809.5,440.2 811.8,440.2 814.1,440.2 816.5,440.2 818.8,440.2 821.1,440.2 823.4,440.2 825.8,440.2 828.1,440.2 830.4,440.2 832.7,440.2 835.1,440.2 837.4,440.2 839.7,440.2 842.0,440.2 844.3,440.2 846.7,440.2 849.0,440.2 851.3,440.2 853.6,440.2 856.0,440.2 858.3,440.2 860.6,440.2 862.9,440.2 865.3,440.2 867.6,440.2 869.9,440.2 872.2,440.2 874.6,440.2 876.9,440.2 879.2,440.2 881.5,440.2 883.9,440.2 886.2,440.2 888.5,440.2 890.8,440.2 893.2,440.2 895.5,440.2 897.8,440.2 900.1,440.2 902.5,440.2 904.8,440.3 907.1,440.7 909.4,441.4 911.8,442.7 914.1,444.8 916.4,447.6 918.7,451.6 921.1,456.7 923.4,463.1 925.7,471.0 928.0,480.6 930.4,492.0 932.7,505.3 935.0,520.7 937.3,538.4 939.6,558.5 942.0,581.2" fill="none" stroke="rgba(0,0,0,0.5)" stroke-width="4.0" stroke-linejoin="round" stroke-linecap="round"/>
</g>
<path d="M376.7 348.5 V534" stroke="#0a5cb0" stroke-width="4.6" stroke-dasharray="4.3 13.54" stroke-linecap="round"/>
<path d="M74.2 669.5 V866.7 H976" fill="none" stroke="#000" stroke-width="1.6"/>
<path d="M99.2 866.7 H931.6" stroke="#000" stroke-width="1" fill="none"/>
<path d="M99.2 866.7 v4.7" stroke="#000" stroke-width="1.6"/>
<text transform="translate(99.2 904.7) scale(0.985 1.045)" class="tl" text-anchor="middle">800</text>
<path d="M237.9 866.7 v4.7" stroke="#000" stroke-width="1.6"/>
<text transform="translate(237.9 904.7) scale(0.985 1.045)" class="tl" text-anchor="middle">1000</text>
<path d="M376.7 866.7 v4.7" stroke="#000" stroke-width="1.6"/>
<text transform="translate(376.7 904.7) scale(0.985 1.045)" class="tl" text-anchor="middle">1200</text>
<path d="M515.4 866.7 v4.7" stroke="#000" stroke-width="1.6"/>
<text transform="translate(515.4 904.7) scale(0.985 1.045)" class="tl" text-anchor="middle">1400</text>
<path d="M654.1 866.7 v4.7" stroke="#000" stroke-width="1.6"/>
<text transform="translate(654.1 904.7) scale(0.985 1.045)" class="tl" text-anchor="middle">1600</text>
<path d="M792.8 866.7 v4.7" stroke="#000" stroke-width="1.6"/>
<text transform="translate(792.8 904.7) scale(0.985 1.045)" class="tl" text-anchor="middle">1800</text>
<path d="M931.6 866.7 v4.7" stroke="#000" stroke-width="1.6"/>
<text transform="translate(931.6 904.7) scale(0.985 1.045)" class="tl" text-anchor="middle">2000</text>
<text x="525" y="932.7" class="al" text-anchor="middle">year</text>
<path d="M74.2 840.7 h-4.7" stroke="#000" stroke-width="1.6"/>
<text transform="translate(54.2 840.7) rotate(-90) scale(0.985 1.045)" class="tl" text-anchor="middle">90</text>
<path d="M74.2 792.7 h-4.7" stroke="#000" stroke-width="1.6"/>
<text transform="translate(54.2 792.7) rotate(-90) scale(0.985 1.045)" class="tl" text-anchor="middle">100</text>
<path d="M74.2 744.7 h-4.7" stroke="#000" stroke-width="1.6"/>
<text transform="translate(54.2 744.7) rotate(-90) scale(0.985 1.045)" class="tl" text-anchor="middle">110</text>
<path d="M74.2 696.7 h-4.7" stroke="#000" stroke-width="1.6"/>
<text transform="translate(54.2 696.7) rotate(-90) scale(0.985 1.045)" class="tl" text-anchor="middle">120</text>
<text transform="translate(25.6 767.5) rotate(-90)" class="al" text-anchor="middle">Day in year</text>
<g fill="rgba(69,105,184,0.7)">
<circle cx="134.4" cy="754.0" r="4.4"/>
<circle cx="144.7" cy="763.4" r="4.4"/>
<circle cx="162.4" cy="748.9" r="4.4"/>
<circle cx="163.0" cy="754.0" r="4.4"/>
<circle cx="164.4" cy="763.4" r="4.4"/>
<circle cx="177.4" cy="744.2" r="4.4"/>
<circle cx="196.9" cy="749.2" r="4.4"/>
<circle cx="191.4" cy="763.4" r="4.4"/>
<circle cx="202.3" cy="758.7" r="4.4"/>
<circle cx="109.8" cy="769.5" r="4.4"/>
<circle cx="135.1" cy="773.4" r="4.4"/>
<circle cx="162.2" cy="773.4" r="4.4"/>
<circle cx="166.0" cy="773.4" r="4.4"/>
<circle cx="184.2" cy="772.8" r="4.4"/>
<circle cx="170.4" cy="782.6" r="4.4"/>
<circle cx="143.6" cy="792.5" r="4.4"/>
<circle cx="120.5" cy="811.5" r="4.4"/>
<circle cx="146.9" cy="816.4" r="4.4"/>
<circle cx="107.4" cy="831.0" r="4.4"/>
<circle cx="174.0" cy="801.9" r="4.4"/>
<circle cx="186.4" cy="801.7" r="4.4"/>
<circle cx="189.2" cy="807.0" r="4.4"/>
<circle cx="177.4" cy="816.4" r="4.4"/>
<circle cx="180.5" cy="816.4" r="4.4"/>
<circle cx="202.7" cy="816.4" r="4.4"/>
<circle cx="296.2" cy="696.2" r="4.4"/>
<circle cx="240.6" cy="710.4" r="4.4"/>
<circle cx="257.9" cy="715.4" r="4.4"/>
<circle cx="247.6" cy="720.2" r="4.4"/>
<circle cx="250.4" cy="730.0" r="4.4"/>
<circle cx="249.0" cy="739.6" r="4.4"/>
<circle cx="260.1" cy="739.4" r="4.4"/>
<circle cx="271.1" cy="734.7" r="4.4"/>
<circle cx="287.2" cy="729.8" r="4.4"/>
<circle cx="208.6" cy="734.7" r="4.4"/>
<circle cx="221.9" cy="734.4" r="4.4"/>
<circle cx="209.2" cy="748.9" r="4.4"/>
<circle cx="219.9" cy="753.6" r="4.4"/>
<circle cx="218.5" cy="758.7" r="4.4"/>
<circle cx="279.5" cy="753.8" r="4.4"/>
<circle cx="310.1" cy="724.9" r="4.4"/>
<circle cx="310.1" cy="753.8" r="4.4"/>
<circle cx="242.8" cy="762.8" r="4.4"/>
<circle cx="236.5" cy="766.9" r="4.4"/>
<circle cx="210.3" cy="788.1" r="4.4"/>
<circle cx="220.3" cy="787.8" r="4.4"/>
<circle cx="230.1" cy="792.1" r="4.4"/>
<circle cx="242.1" cy="792.1" r="4.4"/>
<circle cx="249.8" cy="796.8" r="4.4"/>
<circle cx="251.2" cy="801.9" r="4.4"/>
<circle cx="259.4" cy="806.6" r="4.4"/>
<circle cx="261.5" cy="811.8" r="4.4"/>
<circle cx="215.2" cy="801.7" r="4.4"/>
<circle cx="209.2" cy="806.6" r="4.4"/>
<circle cx="212.2" cy="821.1" r="4.4"/>
<circle cx="227.5" cy="821.1" r="4.4"/>
<circle cx="280.3" cy="830.6" r="4.4"/>
<circle cx="295.4" cy="811.5" r="4.4"/>
<circle cx="304.6" cy="811.5" r="4.4"/>
<circle cx="304.9" cy="792.1" r="4.4"/>
<circle cx="260.7" cy="782.6" r="4.4"/>
<circle cx="293.2" cy="782.6" r="4.4"/>
<circle cx="288.3" cy="778.3" r="4.4"/>
<circle cx="306.3" cy="777.7" r="4.4"/>
<circle cx="208.6" cy="845.4" r="4.4"/>
<circle cx="210.8" cy="854.6" r="4.4"/>
<circle cx="269.7" cy="778.3" r="4.4"/>
<circle cx="213.5" cy="773.3" r="4.4"/>
<circle cx="222.6" cy="773.3" r="4.4"/>
<circle cx="230.0" cy="773.3" r="4.4"/>
<circle cx="214.7" cy="779.5" r="4.4"/>
<circle cx="262.4" cy="772.1" r="4.4"/>
<circle cx="272.8" cy="767.8" r="4.4"/>
<circle cx="284.4" cy="767.8" r="4.4"/>
<circle cx="300.3" cy="767.8" r="4.4"/>
<circle cx="311.3" cy="767.8" r="4.4"/>
<circle cx="372.4" cy="700.9" r="4.4"/>
<circle cx="357.8" cy="710.4" r="4.4"/>
<circle cx="392.5" cy="715.4" r="4.4"/>
<circle cx="411.3" cy="715.4" r="4.4"/>
<circle cx="419.3" cy="696.2" r="4.4"/>
<circle cx="365.8" cy="720.2" r="4.4"/>
<circle cx="315.6" cy="729.8" r="4.4"/>
<circle cx="334.2" cy="729.8" r="4.4"/>
<circle cx="323.3" cy="734.7" r="4.4"/>
<circle cx="325.5" cy="739.6" r="4.4"/>
<circle cx="335.8" cy="738.8" r="4.4"/>
<circle cx="337.1" cy="744.5" r="4.4"/>
<circle cx="342.4" cy="748.9" r="4.4"/>
<circle cx="318.9" cy="748.9" r="4.4"/>
<circle cx="325.5" cy="753.3" r="4.4"/>
<circle cx="350.0" cy="734.7" r="4.4"/>
<circle cx="357.1" cy="729.3" r="4.4"/>
<circle cx="359.8" cy="729.8" r="4.4"/>
<circle cx="358.2" cy="735.3" r="4.4"/>
<circle cx="353.3" cy="739.6" r="4.4"/>
<circle cx="369.6" cy="734.7" r="4.4"/>
<circle cx="383.6" cy="734.7" r="4.4"/>
<circle cx="379.4" cy="744.0" r="4.4"/>
<circle cx="376.2" cy="748.9" r="4.4"/>
<circle cx="395.3" cy="739.4" r="4.4"/>
<circle cx="401.0" cy="744.2" r="4.4"/>
<circle cx="390.4" cy="748.9" r="4.4"/>
<circle cx="386.5" cy="753.8" r="4.4"/>
<circle cx="385.4" cy="758.2" r="4.4"/>
<circle cx="414.1" cy="744.0" r="4.4"/>
<circle cx="407.8" cy="753.8" r="4.4"/>
<circle cx="411.1" cy="753.8" r="4.4"/>
<circle cx="368.5" cy="758.2" r="4.4"/>
<circle cx="394.7" cy="762.0" r="4.4"/>
<circle cx="407.8" cy="761.4" r="4.4"/>
<circle cx="339.1" cy="758.2" r="4.4"/>
<circle cx="352.2" cy="763.1" r="4.4"/>
<circle cx="324.4" cy="760.9" r="4.4"/>
<circle cx="318.9" cy="773.4" r="4.4"/>
<circle cx="328.2" cy="778.3" r="4.4"/>
<circle cx="335.3" cy="778.3" r="4.4"/>
<circle cx="347.8" cy="778.3" r="4.4"/>
<circle cx="357.1" cy="778.3" r="4.4"/>
<circle cx="362.0" cy="778.3" r="4.4"/>
<circle cx="365.3" cy="772.3" r="4.4"/>
<circle cx="378.4" cy="772.3" r="4.4"/>
<circle cx="319.5" cy="783.0" r="4.4"/>
<circle cx="316.7" cy="792.5" r="4.4"/>
<circle cx="323.8" cy="802.3" r="4.4"/>
<circle cx="351.6" cy="792.5" r="4.4"/>
<circle cx="364.7" cy="787.5" r="4.4"/>
<circle cx="362.9" cy="802.3" r="4.4"/>
<circle cx="344.8" cy="811.5" r="4.4"/>
<circle cx="353.0" cy="816.4" r="4.4"/>
<circle cx="346.2" cy="840.4" r="4.4"/>
<circle cx="377.3" cy="811.5" r="4.4"/>
<circle cx="386.0" cy="782.6" r="4.4"/>
<circle cx="388.2" cy="787.5" r="4.4"/>
<circle cx="397.4" cy="782.6" r="4.4"/>
<circle cx="398.0" cy="788.1" r="4.4"/>
<circle cx="391.4" cy="797.4" r="4.4"/>
<circle cx="384.9" cy="801.9" r="4.4"/>
<circle cx="396.7" cy="806.6" r="4.4"/>
<circle cx="411.9" cy="792.5" r="4.4"/>
<circle cx="408.3" cy="801.9" r="4.4"/>
<circle cx="418.2" cy="806.1" r="4.4"/>
<circle cx="417.1" cy="811.5" r="4.4"/>
<circle cx="416.0" cy="821.4" r="4.4"/>
<circle cx="398.9" cy="830.6" r="4.4"/>
<circle cx="401.3" cy="854.6" r="4.4"/>
<circle cx="379.1" cy="765.3" r="4.4"/>
<circle cx="461.9" cy="677.2" r="4.4"/>
<circle cx="484.8" cy="710.4" r="4.4"/>
<circle cx="459.2" cy="715.4" r="4.4"/>
<circle cx="468.4" cy="720.2" r="4.4"/>
<circle cx="481.5" cy="720.2" r="4.4"/>
<circle cx="430.6" cy="729.8" r="4.4"/>
<circle cx="436.3" cy="734.7" r="4.4"/>
<circle cx="436.8" cy="744.2" r="4.4"/>
<circle cx="456.4" cy="739.4" r="4.4"/>
<circle cx="466.8" cy="734.7" r="4.4"/>
<circle cx="479.9" cy="734.7" r="4.4"/>
<circle cx="491.9" cy="734.7" r="4.4"/>
<circle cx="520.8" cy="739.4" r="4.4"/>
<circle cx="526.8" cy="734.7" r="4.4"/>
<circle cx="526.3" cy="748.9" r="4.4"/>
<circle cx="475.0" cy="744.2" r="4.4"/>
<circle cx="478.8" cy="749.2" r="4.4"/>
<circle cx="486.4" cy="744.2" r="4.4"/>
<circle cx="490.8" cy="744.2" r="4.4"/>
<circle cx="496.8" cy="744.2" r="4.4"/>
<circle cx="495.2" cy="748.9" r="4.4"/>
<circle cx="488.1" cy="753.6" r="4.4"/>
<circle cx="502.3" cy="753.6" r="4.4"/>
<circle cx="513.7" cy="763.1" r="4.4"/>
<circle cx="525.2" cy="766.3" r="4.4"/>
<circle cx="428.6" cy="758.4" r="4.4"/>
<circle cx="437.9" cy="753.6" r="4.4"/>
<circle cx="439.5" cy="758.2" r="4.4"/>
<circle cx="466.8" cy="753.6" r="4.4"/>
<circle cx="464.1" cy="758.7" r="4.4"/>
<circle cx="477.7" cy="758.2" r="4.4"/>
<circle cx="489.2" cy="758.2" r="4.4"/>
<circle cx="461.4" cy="763.6" r="4.4"/>
<circle cx="486.4" cy="764.7" r="4.4"/>
<circle cx="423.2" cy="778.3" r="4.4"/>
<circle cx="433.0" cy="782.6" r="4.4"/>
<circle cx="431.4" cy="787.5" r="4.4"/>
<circle cx="425.4" cy="792.5" r="4.4"/>
<circle cx="422.6" cy="801.7" r="4.4"/>
<circle cx="442.3" cy="782.6" r="4.4"/>
<circle cx="441.7" cy="788.1" r="4.4"/>
<circle cx="458.1" cy="778.3" r="4.4"/>
<circle cx="460.3" cy="782.6" r="4.4"/>
<circle cx="455.9" cy="787.5" r="4.4"/>
<circle cx="454.3" cy="792.5" r="4.4"/>
<circle cx="462.4" cy="801.9" r="4.4"/>
<circle cx="447.4" cy="811.5" r="4.4"/>
<circle cx="446.1" cy="816.4" r="4.4"/>
<circle cx="453.5" cy="821.4" r="4.4"/>
<circle cx="476.6" cy="782.6" r="4.4"/>
<circle cx="480.4" cy="787.5" r="4.4"/>
<circle cx="487.8" cy="787.5" r="4.4"/>
<circle cx="496.3" cy="782.6" r="4.4"/>
<circle cx="502.8" cy="782.6" r="4.4"/>
<circle cx="498.4" cy="796.8" r="4.4"/>
<circle cx="506.6" cy="792.1" r="4.4"/>
<circle cx="507.2" cy="796.8" r="4.4"/>
<circle cx="504.4" cy="801.7" r="4.4"/>
<circle cx="492.4" cy="806.6" r="4.4"/>
<circle cx="493.9" cy="821.4" r="4.4"/>
<circle cx="493.2" cy="850.3" r="4.4"/>
<circle cx="517.5" cy="787.5" r="4.4"/>
<circle cx="525.7" cy="792.5" r="4.4"/>
<circle cx="526.3" cy="801.7" r="4.4"/>
<circle cx="523.5" cy="825.7" r="4.4"/>
<circle cx="524.1" cy="835.5" r="4.4"/>
<circle cx="521.3" cy="859.5" r="4.4"/>
<circle cx="423.2" cy="770.1" r="4.4"/>
<circle cx="435.2" cy="770.1" r="4.4"/>
<circle cx="612.5" cy="686.4" r="4.4"/>
<circle cx="612.0" cy="696.2" r="4.4"/>
<circle cx="623.4" cy="696.2" r="4.4"/>
<circle cx="617.4" cy="700.9" r="4.4"/>
<circle cx="618.5" cy="710.4" r="4.4"/>
<circle cx="569.4" cy="720.2" r="4.4"/>
<circle cx="565.6" cy="725.2" r="4.4"/>
<circle cx="586.4" cy="720.2" r="4.4"/>
<circle cx="587.4" cy="725.4" r="4.4"/>
<circle cx="597.3" cy="720.2" r="4.4"/>
<circle cx="630.0" cy="725.2" r="4.4"/>
<circle cx="538.9" cy="729.8" r="4.4"/>
<circle cx="556.4" cy="729.8" r="4.4"/>
<circle cx="555.8" cy="734.7" r="4.4"/>
<circle cx="556.9" cy="739.4" r="4.4"/>
<circle cx="548.2" cy="739.4" r="4.4"/>
<circle cx="569.4" cy="744.2" r="4.4"/>
<circle cx="603.3" cy="729.8" r="4.4"/>
<circle cx="584.2" cy="739.4" r="4.4"/>
<circle cx="591.3" cy="739.4" r="4.4"/>
<circle cx="597.8" cy="739.4" r="4.4"/>
<circle cx="593.4" cy="744.0" r="4.4"/>
<circle cx="608.2" cy="739.4" r="4.4"/>
<circle cx="610.9" cy="734.7" r="4.4"/>
<circle cx="617.4" cy="734.7" r="4.4"/>
<circle cx="619.6" cy="739.4" r="4.4"/>
<circle cx="625.1" cy="739.4" r="4.4"/>
<circle cx="632.7" cy="734.7" r="4.4"/>
<circle cx="530.2" cy="748.9" r="4.4"/>
<circle cx="536.2" cy="753.8" r="4.4"/>
<circle cx="546.0" cy="748.9" r="4.4"/>
<circle cx="547.6" cy="753.8" r="4.4"/>
<circle cx="544.9" cy="758.7" r="4.4"/>
<circle cx="554.2" cy="758.7" r="4.4"/>
<circle cx="556.4" cy="763.6" r="4.4"/>
<circle cx="543.8" cy="766.3" r="4.4"/>
<circle cx="572.2" cy="753.6" r="4.4"/>
<circle cx="579.3" cy="753.8" r="4.4"/>
<circle cx="584.7" cy="753.8" r="4.4"/>
<circle cx="571.6" cy="762.5" r="4.4"/>
<circle cx="601.1" cy="748.4" r="4.4"/>
<circle cx="613.1" cy="748.4" r="4.4"/>
<circle cx="620.2" cy="748.4" r="4.4"/>
<circle cx="628.9" cy="748.9" r="4.4"/>
<circle cx="632.7" cy="753.6" r="4.4"/>
<circle cx="593.4" cy="753.8" r="4.4"/>
<circle cx="597.8" cy="759.3" r="4.4"/>
<circle cx="606.5" cy="757.1" r="4.4"/>
<circle cx="596.2" cy="765.3" r="4.4"/>
<circle cx="626.2" cy="759.3" r="4.4"/>
<circle cx="531.3" cy="773.4" r="4.4"/>
<circle cx="538.9" cy="773.4" r="4.4"/>
<circle cx="549.8" cy="778.3" r="4.4"/>
<circle cx="541.1" cy="783.2" r="4.4"/>
<circle cx="549.8" cy="787.5" r="4.4"/>
<circle cx="561.8" cy="787.5" r="4.4"/>
<circle cx="572.7" cy="787.5" r="4.4"/>
<circle cx="579.3" cy="792.5" r="4.4"/>
<circle cx="567.3" cy="792.5" r="4.4"/>
<circle cx="574.9" cy="797.4" r="4.4"/>
<circle cx="550.4" cy="793.2" r="4.4"/>
<circle cx="530.2" cy="792.5" r="4.4"/>
<circle cx="532.4" cy="801.7" r="4.4"/>
<circle cx="542.2" cy="801.7" r="4.4"/>
<circle cx="536.7" cy="801.7" r="4.4"/>
<circle cx="560.2" cy="801.7" r="4.4"/>
<circle cx="567.3" cy="801.7" r="4.4"/>
<circle cx="573.8" cy="806.6" r="4.4"/>
<circle cx="578.2" cy="806.6" r="4.4"/>
<circle cx="583.6" cy="806.6" r="4.4"/>
<circle cx="531.3" cy="811.5" r="4.4"/>
<circle cx="539.5" cy="816.4" r="4.4"/>
<circle cx="548.7" cy="811.5" r="4.4"/>
<circle cx="553.6" cy="811.5" r="4.4"/>
<circle cx="549.3" cy="817.0" r="4.4"/>
<circle cx="551.5" cy="830.6" r="4.4"/>
<circle cx="574.4" cy="821.4" r="4.4"/>
<circle cx="581.4" cy="821.4" r="4.4"/>
<circle cx="576.0" cy="826.3" r="4.4"/>
<circle cx="577.1" cy="777.7" r="4.4"/>
<circle cx="585.3" cy="777.7" r="4.4"/>
<circle cx="591.3" cy="782.6" r="4.4"/>
<circle cx="597.8" cy="771.2" r="4.4"/>
<circle cx="600.0" cy="777.7" r="4.4"/>
<circle cx="606.5" cy="777.7" r="4.4"/>
<circle cx="614.2" cy="782.6" r="4.4"/>
<circle cx="618.5" cy="773.4" r="4.4"/>
<circle cx="627.3" cy="782.6" r="4.4"/>
<circle cx="622.9" cy="787.5" r="4.4"/>
<circle cx="626.7" cy="792.5" r="4.4"/>
<circle cx="628.3" cy="797.4" r="4.4"/>
<circle cx="631.6" cy="806.1" r="4.4"/>
<circle cx="625.6" cy="811.5" r="4.4"/>
<circle cx="615.8" cy="806.6" r="4.4"/>
<circle cx="609.3" cy="816.4" r="4.4"/>
<circle cx="624.5" cy="825.7" r="4.4"/>
<circle cx="665.3" cy="686.4" r="4.4"/>
<circle cx="720.1" cy="696.2" r="4.4"/>
<circle cx="712.4" cy="705.8" r="4.4"/>
<circle cx="682.4" cy="710.4" r="4.4"/>
<circle cx="703.2" cy="715.1" r="4.4"/>
<circle cx="723.9" cy="715.1" r="4.4"/>
<circle cx="739.7" cy="715.1" r="4.4"/>
<circle cx="705.9" cy="720.2" r="4.4"/>
<circle cx="727.7" cy="720.2" r="4.4"/>
<circle cx="651.9" cy="724.9" r="4.4"/>
<circle cx="648.6" cy="729.8" r="4.4"/>
<circle cx="669.9" cy="729.8" r="4.4"/>
<circle cx="683.5" cy="724.9" r="4.4"/>
<circle cx="709.2" cy="725.4" r="4.4"/>
<circle cx="715.2" cy="725.4" r="4.4"/>
<circle cx="721.7" cy="725.4" r="4.4"/>
<circle cx="737.0" cy="725.2" r="4.4"/>
<circle cx="726.6" cy="729.8" r="4.4"/>
<circle cx="636.1" cy="734.7" r="4.4"/>
<circle cx="672.6" cy="734.7" r="4.4"/>
<circle cx="686.3" cy="734.7" r="4.4"/>
<circle cx="690.6" cy="734.7" r="4.4"/>
<circle cx="700.4" cy="734.7" r="4.4"/>
<circle cx="704.8" cy="734.7" r="4.4"/>
<circle cx="724.4" cy="734.7" r="4.4"/>
<circle cx="740.3" cy="734.7" r="4.4"/>
<circle cx="650.3" cy="738.5" r="4.4"/>
<circle cx="652.5" cy="744.0" r="4.4"/>
<circle cx="659.5" cy="744.0" r="4.4"/>
<circle cx="663.9" cy="744.0" r="4.4"/>
<circle cx="668.8" cy="748.9" r="4.4"/>
<circle cx="695.5" cy="739.4" r="4.4"/>
<circle cx="697.7" cy="744.0" r="4.4"/>
<circle cx="707.0" cy="744.0" r="4.4"/>
<circle cx="710.3" cy="748.4" r="4.4"/>
<circle cx="721.2" cy="739.1" r="4.4"/>
<circle cx="728.8" cy="739.1" r="4.4"/>
<circle cx="733.7" cy="744.0" r="4.4"/>
<circle cx="719.0" cy="748.4" r="4.4"/>
<circle cx="726.6" cy="748.4" r="4.4"/>
<circle cx="637.7" cy="748.9" r="4.4"/>
<circle cx="642.6" cy="753.8" r="4.4"/>
<circle cx="644.8" cy="762.5" r="4.4"/>
<circle cx="660.1" cy="753.8" r="4.4"/>
<circle cx="655.7" cy="758.7" r="4.4"/>
<circle cx="665.5" cy="758.7" r="4.4"/>
<circle cx="681.4" cy="753.8" r="4.4"/>
<circle cx="693.9" cy="752.7" r="4.4"/>
<circle cx="699.4" cy="752.7" r="4.4"/>
<circle cx="689.5" cy="758.7" r="4.4"/>
<circle cx="709.2" cy="753.8" r="4.4"/>
<circle cx="733.2" cy="754.9" r="4.4"/>
<circle cx="700.4" cy="764.7" r="4.4"/>
<circle cx="716.8" cy="761.4" r="4.4"/>
<circle cx="728.8" cy="761.4" r="4.4"/>
<circle cx="639.9" cy="782.6" r="4.4"/>
<circle cx="647.5" cy="782.6" r="4.4"/>
<circle cx="654.1" cy="787.5" r="4.4"/>
<circle cx="638.3" cy="792.5" r="4.4"/>
<circle cx="656.3" cy="797.4" r="4.4"/>
<circle cx="648.6" cy="801.7" r="4.4"/>
<circle cx="637.2" cy="801.7" r="4.4"/>
<circle cx="640.5" cy="806.6" r="4.4"/>
<circle cx="656.8" cy="816.4" r="4.4"/>
<circle cx="647.5" cy="820.8" r="4.4"/>
<circle cx="650.3" cy="825.7" r="4.4"/>
<circle cx="655.2" cy="825.7" r="4.4"/>
<circle cx="667.2" cy="825.7" r="4.4"/>
<circle cx="662.3" cy="854.6" r="4.4"/>
<circle cx="686.3" cy="854.6" r="4.4"/>
<circle cx="666.6" cy="782.6" r="4.4"/>
<circle cx="663.9" cy="778.3" r="4.4"/>
<circle cx="672.1" cy="792.5" r="4.4"/>
<circle cx="677.0" cy="801.7" r="4.4"/>
<circle cx="678.6" cy="806.6" r="4.4"/>
<circle cx="677.5" cy="811.5" r="4.4"/>
<circle cx="671.5" cy="816.4" r="4.4"/>
<circle cx="685.2" cy="797.4" r="4.4"/>
<circle cx="681.4" cy="778.3" r="4.4"/>
<circle cx="688.4" cy="782.6" r="4.4"/>
<circle cx="692.8" cy="777.7" r="4.4"/>
<circle cx="702.6" cy="782.6" r="4.4"/>
<circle cx="707.0" cy="778.3" r="4.4"/>
<circle cx="713.5" cy="773.4" r="4.4"/>
<circle cx="717.9" cy="778.3" r="4.4"/>
<circle cx="722.3" cy="787.5" r="4.4"/>
<circle cx="727.7" cy="778.3" r="4.4"/>
<circle cx="736.4" cy="782.6" r="4.4"/>
<circle cx="738.6" cy="792.5" r="4.4"/>
<circle cx="735.3" cy="801.7" r="4.4"/>
<circle cx="738.1" cy="816.4" r="4.4"/>
<circle cx="707.5" cy="811.5" r="4.4"/>
<circle cx="715.7" cy="806.6" r="4.4"/>
<circle cx="722.8" cy="806.6" r="4.4"/>
<circle cx="696.6" cy="825.7" r="4.4"/>
<circle cx="716.3" cy="825.7" r="4.4"/>
<circle cx="740.8" cy="773.4" r="4.4"/>
<circle cx="690.6" cy="773.4" r="4.4"/>
<circle cx="700.4" cy="771.2" r="4.4"/>
<circle cx="761.6" cy="696.2" r="4.4"/>
<circle cx="786.2" cy="700.9" r="4.4"/>
<circle cx="801.4" cy="696.2" r="4.4"/>
<circle cx="820.0" cy="696.2" r="4.4"/>
<circle cx="836.3" cy="705.8" r="4.4"/>
<circle cx="835.8" cy="710.4" r="4.4"/>
<circle cx="770.9" cy="710.4" r="4.4"/>
<circle cx="797.6" cy="715.4" r="4.4"/>
<circle cx="751.3" cy="720.2" r="4.4"/>
<circle cx="761.1" cy="720.2" r="4.4"/>
<circle cx="769.3" cy="729.8" r="4.4"/>
<circle cx="763.8" cy="734.7" r="4.4"/>
<circle cx="767.6" cy="734.7" r="4.4"/>
<circle cx="789.4" cy="729.8" r="4.4"/>
<circle cx="797.1" cy="724.9" r="4.4"/>
<circle cx="802.5" cy="729.8" r="4.4"/>
<circle cx="810.7" cy="724.9" r="4.4"/>
<circle cx="816.2" cy="724.9" r="4.4"/>
<circle cx="814.0" cy="729.8" r="4.4"/>
<circle cx="817.3" cy="734.7" r="4.4"/>
<circle cx="818.4" cy="739.4" r="4.4"/>
<circle cx="829.3" cy="729.8" r="4.4"/>
<circle cx="834.7" cy="729.8" r="4.4"/>
<circle cx="832.0" cy="739.4" r="4.4"/>
<circle cx="834.2" cy="744.5" r="4.4"/>
<circle cx="777.4" cy="739.4" r="4.4"/>
<circle cx="774.7" cy="744.0" r="4.4"/>
<circle cx="779.6" cy="748.9" r="4.4"/>
<circle cx="775.8" cy="753.8" r="4.4"/>
<circle cx="784.5" cy="748.9" r="4.4"/>
<circle cx="792.2" cy="744.0" r="4.4"/>
<circle cx="796.5" cy="744.0" r="4.4"/>
<circle cx="803.1" cy="739.4" r="4.4"/>
<circle cx="804.2" cy="744.0" r="4.4"/>
<circle cx="808.5" cy="748.9" r="4.4"/>
<circle cx="819.4" cy="748.9" r="4.4"/>
<circle cx="827.1" cy="748.9" r="4.4"/>
<circle cx="833.1" cy="753.3" r="4.4"/>
<circle cx="750.7" cy="744.0" r="4.4"/>
<circle cx="757.3" cy="744.0" r="4.4"/>
<circle cx="763.8" cy="748.9" r="4.4"/>
<circle cx="751.8" cy="748.9" r="4.4"/>
<circle cx="754.0" cy="753.8" r="4.4"/>
<circle cx="745.3" cy="753.3" r="4.4"/>
<circle cx="846.2" cy="730.9" r="4.4"/>
<circle cx="844.5" cy="739.4" r="4.4"/>
<circle cx="846.7" cy="744.0" r="4.4"/>
<circle cx="844.0" cy="757.1" r="4.4"/>
<circle cx="806.4" cy="762.5" r="4.4"/>
<circle cx="818.4" cy="759.3" r="4.4"/>
<circle cx="763.8" cy="762.5" r="4.4"/>
<circle cx="782.4" cy="765.8" r="4.4"/>
<circle cx="840.2" cy="762.5" r="4.4"/>
<circle cx="744.2" cy="773.4" r="4.4"/>
<circle cx="758.4" cy="777.7" r="4.4"/>
<circle cx="765.5" cy="778.3" r="4.4"/>
<circle cx="747.5" cy="782.6" r="4.4"/>
<circle cx="748.5" cy="787.5" r="4.4"/>
<circle cx="757.3" cy="787.5" r="4.4"/>
<circle cx="757.3" cy="792.5" r="4.4"/>
<circle cx="764.9" cy="787.5" r="4.4"/>
<circle cx="770.4" cy="787.5" r="4.4"/>
<circle cx="774.2" cy="792.5" r="4.4"/>
<circle cx="775.8" cy="797.4" r="4.4"/>
<circle cx="743.1" cy="796.8" r="4.4"/>
<circle cx="754.0" cy="801.7" r="4.4"/>
<circle cx="768.2" cy="801.7" r="4.4"/>
<circle cx="758.4" cy="811.5" r="4.4"/>
<circle cx="761.1" cy="811.5" r="4.4"/>
<circle cx="749.1" cy="825.7" r="4.4"/>
<circle cx="778.5" cy="811.5" r="4.4"/>
<circle cx="779.6" cy="835.5" r="4.4"/>
<circle cx="766.0" cy="845.4" r="4.4"/>
<circle cx="780.7" cy="778.3" r="4.4"/>
<circle cx="792.2" cy="777.7" r="4.4"/>
<circle cx="796.5" cy="773.4" r="4.4"/>
<circle cx="787.3" cy="787.5" r="4.4"/>
<circle cx="786.7" cy="797.4" r="4.4"/>
<circle cx="799.8" cy="792.5" r="4.4"/>
<circle cx="798.2" cy="801.7" r="4.4"/>
<circle cx="790.5" cy="806.6" r="4.4"/>
<circle cx="794.4" cy="811.5" r="4.4"/>
<circle cx="796.5" cy="825.7" r="4.4"/>
<circle cx="806.9" cy="816.4" r="4.4"/>
<circle cx="804.2" cy="777.7" r="4.4"/>
<circle cx="808.5" cy="782.6" r="4.4"/>
<circle cx="811.8" cy="792.5" r="4.4"/>
<circle cx="813.4" cy="770.1" r="4.4"/>
<circle cx="820.5" cy="770.1" r="4.4"/>
<circle cx="824.9" cy="782.6" r="4.4"/>
<circle cx="829.3" cy="782.6" r="4.4"/>
<circle cx="826.5" cy="792.5" r="4.4"/>
<circle cx="824.9" cy="801.7" r="4.4"/>
<circle cx="822.2" cy="811.5" r="4.4"/>
<circle cx="834.7" cy="792.5" r="4.4"/>
<circle cx="838.0" cy="787.5" r="4.4"/>
<circle cx="841.3" cy="797.4" r="4.4"/>
<circle cx="838.0" cy="806.6" r="4.4"/>
<circle cx="847.3" cy="806.6" r="4.4"/>
<circle cx="845.6" cy="787.5" r="4.4"/>
<circle cx="834.7" cy="773.4" r="4.4"/>
<circle cx="844.5" cy="773.4" r="4.4"/>
<circle cx="856.6" cy="720.2" r="4.4"/>
<circle cx="851.7" cy="729.8" r="4.4"/>
<circle cx="873.0" cy="734.7" r="4.4"/>
<circle cx="879.0" cy="739.4" r="4.4"/>
<circle cx="887.2" cy="738.5" r="4.4"/>
<circle cx="889.9" cy="744.5" r="4.4"/>
<circle cx="907.4" cy="744.2" r="4.4"/>
<circle cx="920.4" cy="748.9" r="4.4"/>
<circle cx="851.2" cy="748.9" r="4.4"/>
<circle cx="857.2" cy="748.9" r="4.4"/>
<circle cx="867.0" cy="753.8" r="4.4"/>
<circle cx="879.5" cy="753.3" r="4.4"/>
<circle cx="881.2" cy="758.2" r="4.4"/>
<circle cx="895.9" cy="758.7" r="4.4"/>
<circle cx="910.6" cy="758.7" r="4.4"/>
<circle cx="923.2" cy="763.4" r="4.4"/>
<circle cx="859.9" cy="763.1" r="4.4"/>
<circle cx="869.7" cy="766.3" r="4.4"/>
<circle cx="884.4" cy="765.8" r="4.4"/>
<circle cx="898.6" cy="766.3" r="4.4"/>
<circle cx="850.1" cy="782.6" r="4.4"/>
<circle cx="850.1" cy="787.5" r="4.4"/>
<circle cx="862.6" cy="782.6" r="4.4"/>
<circle cx="869.7" cy="782.6" r="4.4"/>
<circle cx="877.4" cy="788.1" r="4.4"/>
<circle cx="856.6" cy="796.8" r="4.4"/>
<circle cx="863.2" cy="796.8" r="4.4"/>
<circle cx="858.3" cy="801.7" r="4.4"/>
<circle cx="864.3" cy="801.7" r="4.4"/>
<circle cx="870.3" cy="801.7" r="4.4"/>
<circle cx="851.2" cy="806.6" r="4.4"/>
<circle cx="878.5" cy="806.6" r="4.4"/>
<circle cx="883.4" cy="816.4" r="4.4"/>
<circle cx="891.5" cy="811.5" r="4.4"/>
<circle cx="888.3" cy="801.7" r="4.4"/>
<circle cx="888.3" cy="792.5" r="4.4"/>
<circle cx="893.7" cy="806.6" r="4.4"/>
<circle cx="899.2" cy="806.6" r="4.4"/>
<circle cx="901.4" cy="797.4" r="4.4"/>
<circle cx="908.4" cy="806.6" r="4.4"/>
<circle cx="903.5" cy="816.4" r="4.4"/>
<circle cx="903.0" cy="830.6" r="4.4"/>
<circle cx="898.6" cy="770.1" r="4.4"/>
<circle cx="902.4" cy="777.7" r="4.4"/>
<circle cx="916.6" cy="773.4" r="4.4"/>
<circle cx="918.8" cy="782.6" r="4.4"/>
<circle cx="923.2" cy="782.6" r="4.4"/>
<circle cx="929.2" cy="777.7" r="4.4"/>
<circle cx="940.1" cy="787.5" r="4.4"/>
<circle cx="931.9" cy="792.5" r="4.4"/>
<circle cx="938.4" cy="796.8" r="4.4"/>
<circle cx="923.2" cy="816.4" r="4.4"/>
<circle cx="930.8" cy="821.4" r="4.4"/>
<circle cx="915.5" cy="825.7" r="4.4"/>
<circle cx="924.3" cy="825.7" r="4.4"/>
<circle cx="941.7" cy="821.4" r="4.4"/>
<circle cx="942.3" cy="825.7" r="4.4"/>
<circle cx="934.1" cy="830.6" r="4.4"/>
<circle cx="931.9" cy="835.5" r="4.4"/>
<circle cx="924.8" cy="850.3" r="4.4"/>
<circle cx="938.4" cy="816.4" r="4.4"/>
<circle cx="927.5" cy="807.2" r="4.4"/>
<circle cx="885.0" cy="770.1" r="4.4"/>
<circle cx="910.1" cy="790.8" r="4.4"/>
<circle cx="914.4" cy="801.7" r="4.4"/>
<circle cx="452.0" cy="772.0" r="4.4"/>
<circle cx="408.8" cy="771.2" r="4.4"/>
<circle cx="501.8" cy="768.9" r="4.4"/>
<circle cx="515.7" cy="772.9" r="4.4"/>
<circle cx="527.1" cy="778.7" r="4.4"/>
<circle cx="538.5" cy="781.9" r="4.4"/>
<circle cx="679.1" cy="767.4" r="4.4"/>
<circle cx="655.9" cy="768.0" r="4.4"/>
<circle cx="647.3" cy="771.7" r="4.4"/>
<circle cx="668.1" cy="769.3" r="4.4"/>
<circle cx="755.0" cy="765.6" r="4.4"/>
<circle cx="745.2" cy="759.5" r="4.4"/>
<circle cx="674.3" cy="761.3" r="4.4"/>
<circle cx="772.2" cy="764.4" r="4.4"/>
<circle cx="795.5" cy="766.2" r="4.4"/>
<circle cx="826.1" cy="761.3" r="4.4"/>
<circle cx="877.4" cy="772.9" r="4.4"/>
<circle cx="905.9" cy="795.8" r="4.4"/>
<circle cx="915.0" cy="806.0" r="4.4"/>
<circle cx="926.3" cy="808.0" r="4.4"/>
<circle cx="921.2" cy="797.8" r="4.4"/>
<circle cx="875.3" cy="778.4" r="4.4"/>
<circle cx="866.1" cy="780.5" r="4.4"/>
<circle cx="365.5" cy="720.4" r="4.4"/>
<circle cx="304.3" cy="792.1" r="4.4"/>
<circle cx="215.7" cy="802.2" r="4.4"/>
<circle cx="408.6" cy="754.0" r="4.4"/>
<circle cx="325.6" cy="739.4" r="4.4"/>
<circle cx="554.6" cy="764.1" r="4.4"/>
<circle cx="559.0" cy="768.6" r="4.4"/>
<circle cx="569.1" cy="743.9" r="4.4"/>
<circle cx="466.0" cy="733.8" r="4.4"/>
<circle cx="581.5" cy="806.7" r="4.4"/>
<circle cx="529.9" cy="749.5" r="4.4"/>
<circle cx="437.9" cy="758.5" r="4.4"/>
<circle cx="458.1" cy="782.0" r="4.4"/>
<circle cx="505.2" cy="796.6" r="4.4"/>
<circle cx="628.6" cy="754.0" r="4.4"/>
<circle cx="619.6" cy="771.9" r="4.4"/>
<circle cx="597.2" cy="765.2" r="4.4"/>
<circle cx="594.9" cy="769.7" r="4.4"/>
<circle cx="603.9" cy="754.0" r="4.4"/>
<circle cx="545.6" cy="769.7" r="4.4"/>
<circle cx="518.7" cy="776.4" r="4.4"/>
<circle cx="534.4" cy="783.2" r="4.4"/>
<circle cx="683.7" cy="724.9" r="4.4"/>
<circle cx="724.1" cy="714.8" r="4.4"/>
<circle cx="736.4" cy="782.0" r="4.4"/>
<circle cx="747.6" cy="785.4" r="4.4"/>
<circle cx="790.3" cy="777.6" r="4.4"/>
<circle cx="828.4" cy="783.2" r="4.4"/>
<circle cx="855.3" cy="798.9" r="4.4"/>
<circle cx="758.9" cy="811.2" r="4.4"/>
<circle cx="691.6" cy="733.8" r="4.4"/>
<circle cx="700.6" cy="734.9" r="4.4"/>
<circle cx="671.4" cy="732.7" r="4.4"/>
<circle cx="662.4" cy="743.9" r="4.4"/>
<circle cx="644.5" cy="763.0" r="4.4"/>
<circle cx="812.7" cy="727.1" r="4.4"/>
<circle cx="817.2" cy="738.3" r="4.4"/>
<circle cx="850.8" cy="749.5" r="4.4"/>
<circle cx="747.6" cy="746.2" r="4.4"/>
<circle cx="779.0" cy="749.5" r="4.4"/>
<circle cx="711.8" cy="771.9" r="4.4"/>
<circle cx="742.0" cy="771.9" r="4.4"/>
<circle cx="890.5" cy="792.1" r="4.4"/>
<circle cx="900.7" cy="798.2" r="4.4"/>
<circle cx="910.9" cy="806.4" r="4.4"/>
<circle cx="923.1" cy="794.2" r="4.4"/>
<circle cx="933.3" cy="794.2" r="4.4"/>
<circle cx="939.4" cy="797.2" r="4.4"/>
<circle cx="878.2" cy="753.4" r="4.4"/>
<circle cx="882.3" cy="761.5" r="4.4"/>
<circle cx="894.6" cy="758.5" r="4.4"/>
<circle cx="896.6" cy="767.7" r="4.4"/>
<circle cx="866.0" cy="753.4" r="4.4"/>
<circle cx="815.0" cy="733.0" r="4.4"/>
<circle cx="849.7" cy="747.3" r="4.4"/>
<circle cx="780.4" cy="747.3" r="4.4"/>
<circle cx="827.3" cy="781.9" r="4.4"/>
<circle cx="837.5" cy="784.0" r="4.4"/>
<circle cx="857.9" cy="798.2" r="4.4"/>
<circle cx="861.9" cy="800.3" r="4.4"/>
<circle cx="931.3" cy="834.9" r="4.4"/>
<circle cx="917.0" cy="825.8" r="4.4"/>
<circle cx="786.5" cy="765.6" r="4.4"/>
<circle cx="772.2" cy="767.7" r="4.4"/>
</g>
<polygon points="107.6,761.1 110.4,762.1 113.2,763.3 116.0,764.5 118.8,765.8 121.6,767.1 124.3,768.4 127.1,769.5 129.9,770.5 132.7,771.2 135.5,771.8 138.3,772.1 141.1,772.4 143.9,772.4 146.7,772.4 149.5,772.3 152.3,772.1 155.0,771.9 157.8,771.7 160.6,771.5 163.4,771.3 166.2,771.2 169.0,771.1 171.8,771.0 174.6,770.9 177.4,770.8 180.2,770.7 182.9,770.6 185.7,770.6 188.5,770.5 191.3,770.4 194.1,770.3 196.9,770.2 199.7,770.0 202.5,769.8 205.3,769.6 208.1,769.4 210.9,769.2 213.6,768.9 216.4,768.6 219.2,768.3 222.0,768.0 224.8,767.7 227.6,767.3 230.4,767.0 233.2,766.6 236.0,766.2 238.8,765.9 241.6,765.5 244.3,765.1 247.1,764.6 249.9,764.2 252.7,763.8 255.5,763.4 258.3,763.0 261.1,762.6 263.9,762.2 266.7,761.8 269.5,761.4 272.2,761.0 275.0,760.6 277.8,760.2 280.6,759.9 283.4,759.5 286.2,759.2 289.0,758.8 291.8,758.5 294.6,758.2 297.4,757.9 300.2,757.6 302.9,757.3 305.7,757.0 308.5,756.8 311.3,756.6 314.1,756.3 316.9,756.2 319.7,756.0 322.5,755.8 325.3,755.7 328.1,755.6 330.9,755.5 333.6,755.4 336.4,755.4 339.2,755.4 342.0,755.4 344.8,755.4 347.6,755.5 350.4,755.6 353.2,755.7 356.0,755.8 358.8,756.0 361.5,756.2 364.3,756.4 367.1,756.7 369.9,757.0 372.7,757.3 375.5,757.7 378.3,758.1 381.1,758.5 383.9,759.0 386.7,759.5 389.5,760.0 392.2,760.5 395.0,761.1 397.8,761.6 400.6,762.1 403.4,762.6 406.2,763.0 409.0,763.5 411.8,763.8 414.6,764.2 417.4,764.4 420.2,764.6 422.9,764.7 425.7,764.8 428.5,764.8 431.3,764.7 434.1,764.6 436.9,764.4 439.7,764.2 442.5,764.0 445.3,763.7 448.1,763.4 450.8,763.1 453.6,762.8 456.4,762.6 459.2,762.3 462.0,762.0 464.8,761.8 467.6,761.6 470.4,761.4 473.2,761.3 476.0,761.2 478.8,761.2 481.5,761.3 484.3,761.4 487.1,761.7 489.9,762.0 492.7,762.5 495.5,763.0 498.3,763.7 501.1,764.6 503.9,765.5 506.7,766.6 509.5,767.7 512.2,768.9 515.0,770.1 517.8,771.3 520.6,772.5 523.4,773.6 526.2,774.6 529.0,775.5 531.8,776.2 534.6,776.8 537.4,777.2 540.1,777.5 542.9,777.5 545.7,777.3 548.5,777.0 551.3,776.3 554.1,775.5 556.9,774.4 559.7,773.1 562.5,771.4 565.3,769.6 568.1,767.6 570.8,765.5 573.6,763.3 576.4,761.1 579.2,759.0 582.0,757.0 584.8,755.2 587.6,753.6 590.4,752.3 593.2,751.3 596.0,750.6 598.8,750.2 601.5,750.1 604.3,750.2 607.1,750.6 609.9,751.1 612.7,751.8 615.5,752.6 618.3,753.5 621.1,754.6 623.9,755.7 626.7,756.8 629.4,758.0 632.2,759.2 635.0,760.3 637.8,761.3 640.6,762.3 643.4,763.2 646.2,763.9 649.0,764.4 651.8,764.8 654.6,765.0 657.4,764.9 660.1,764.8 662.9,764.5 665.7,764.0 668.5,763.4 671.3,762.8 674.1,762.0 676.9,761.2 679.7,760.4 682.5,759.5 685.3,758.6 688.1,757.6 690.8,756.7 693.6,755.8 696.4,755.0 699.2,754.2 702.0,753.4 704.8,752.7 707.6,752.2 710.4,751.7 713.2,751.3 716.0,751.1 718.7,751.0 721.5,750.9 724.3,751.0 727.1,751.2 729.9,751.5 732.7,751.9 735.5,752.4 738.3,753.0 741.1,753.6 743.9,754.4 746.7,755.2 749.4,756.0 752.2,756.9 755.0,757.7 757.8,758.4 760.6,759.1 763.4,759.6 766.2,760.0 769.0,760.3 771.8,760.4 774.6,760.3 777.4,760.0 780.1,759.6 782.9,759.0 785.7,758.4 788.5,757.7 791.3,757.0 794.1,756.2 796.9,755.5 799.7,754.8 802.5,754.1 805.3,753.5 808.0,752.9 810.8,752.4 813.6,752.1 816.4,751.8 819.2,751.7 822.0,751.7 824.8,751.8 827.6,752.2 830.4,752.7 833.2,753.3 836.0,754.2 838.7,755.1 841.5,756.2 844.3,757.4 847.1,758.6 849.9,759.8 852.7,761.1 855.5,762.3 858.3,763.5 861.1,764.6 863.9,765.7 866.7,766.6 869.4,767.6 872.2,768.5 875.0,769.4 877.8,770.3 880.6,771.2 883.4,772.2 886.2,773.2 889.0,774.2 891.8,775.4 894.6,776.6 897.3,777.9 900.1,779.3 902.9,780.7 905.7,782.1 908.5,783.5 911.3,784.9 914.1,786.3 916.9,787.6 919.7,788.9 922.5,790.3 925.3,791.6 928.0,793.0 930.8,794.5 933.6,796.1 936.4,797.6 939.2,799.0 942.0,800.2 942.0,822.7 939.2,821.8 936.4,820.9 933.6,819.7 930.8,818.3 928.0,816.7 925.3,814.8 922.5,812.6 919.7,810.4 916.9,808.2 914.1,806.0 911.3,803.9 908.5,801.8 905.7,799.9 902.9,798.1 900.1,796.4 897.3,794.7 894.6,793.2 891.8,791.7 889.0,790.3 886.2,789.0 883.4,787.7 880.6,786.5 877.8,785.4 875.0,784.2 872.2,783.1 869.4,782.0 866.7,780.9 863.9,779.8 861.1,778.6 858.3,777.5 855.5,776.3 852.7,775.1 849.9,773.9 847.1,772.7 844.3,771.6 841.5,770.5 838.7,769.5 836.0,768.6 833.2,767.9 830.4,767.3 827.6,766.8 824.8,766.5 822.0,766.3 819.2,766.2 816.4,766.3 813.6,766.5 810.8,766.8 808.0,767.2 805.3,767.7 802.5,768.3 799.7,768.9 796.9,769.6 794.1,770.4 791.3,771.1 788.5,771.9 785.7,772.6 782.9,773.2 780.1,773.7 777.4,774.2 774.6,774.4 771.8,774.5 769.0,774.4 766.2,774.1 763.4,773.6 760.6,773.0 757.8,772.3 755.0,771.5 752.2,770.6 749.4,769.7 746.7,768.8 743.9,768.0 741.1,767.2 738.3,766.5 735.5,766.0 732.7,765.5 729.9,765.2 727.1,765.0 724.3,764.8 721.5,764.8 718.7,764.9 716.0,765.0 713.2,765.3 710.4,765.7 707.6,766.1 704.8,766.6 702.0,767.3 699.2,767.9 696.4,768.6 693.6,769.4 690.8,770.2 688.1,771.0 685.3,771.8 682.5,772.6 679.7,773.4 676.9,774.2 674.1,774.9 671.3,775.6 668.5,776.2 665.7,776.7 662.9,777.1 660.1,777.3 657.4,777.5 654.6,777.4 651.8,777.2 649.0,776.8 646.2,776.2 643.4,775.5 640.6,774.6 637.8,773.6 635.0,772.5 632.2,771.4 629.4,770.2 626.7,769.1 623.9,768.0 621.1,767.0 618.3,766.0 615.5,765.2 612.7,764.5 609.9,763.9 607.1,763.6 604.3,763.4 601.5,763.5 598.8,763.8 596.0,764.3 593.2,765.2 590.4,766.3 587.6,767.8 584.8,769.6 582.0,771.5 579.2,773.6 576.4,775.8 573.6,778.1 570.8,780.3 568.1,782.4 565.3,784.4 562.5,786.2 559.7,787.6 556.9,788.8 554.1,789.7 551.3,790.3 548.5,790.6 545.7,790.7 542.9,790.6 540.1,790.2 537.4,789.7 534.6,789.1 531.8,788.3 529.0,787.3 526.2,786.3 523.4,785.2 520.6,784.1 517.8,782.9 515.0,781.7 512.2,780.6 509.5,779.4 506.7,778.3 503.9,777.3 501.1,776.4 498.3,775.6 495.5,774.9 492.7,774.3 489.9,773.8 487.1,773.5 484.3,773.2 481.5,773.0 478.8,772.8 476.0,772.8 473.2,772.8 470.4,772.8 467.6,773.0 464.8,773.1 462.0,773.3 459.2,773.5 456.4,773.8 453.6,774.0 450.8,774.3 448.1,774.6 445.3,774.8 442.5,775.1 439.7,775.3 436.9,775.5 434.1,775.7 431.3,775.9 428.5,776.0 425.7,776.0 422.9,776.0 420.2,776.0 417.4,775.8 414.6,775.6 411.8,775.4 409.0,775.1 406.2,774.7 403.4,774.3 400.6,773.9 397.8,773.5 395.0,773.0 392.2,772.6 389.5,772.1 386.7,771.7 383.9,771.2 381.1,770.8 378.3,770.5 375.5,770.1 372.7,769.8 369.9,769.5 367.1,769.3 364.3,769.0 361.5,768.9 358.8,768.7 356.0,768.6 353.2,768.5 350.4,768.4 347.6,768.4 344.8,768.4 342.0,768.4 339.2,768.5 336.4,768.6 333.6,768.7 330.9,768.9 328.1,769.1 325.3,769.3 322.5,769.5 319.7,769.8 316.9,770.1 314.1,770.5 311.3,770.8 308.5,771.2 305.7,771.7 302.9,772.1 300.2,772.5 297.4,773.0 294.6,773.5 291.8,774.0 289.0,774.5 286.2,775.0 283.4,775.5 280.6,776.1 277.8,776.6 275.0,777.1 272.2,777.6 269.5,778.1 266.7,778.7 263.9,779.2 261.1,779.7 258.3,780.1 255.5,780.6 252.7,781.1 249.9,781.5 247.1,781.9 244.3,782.4 241.6,782.8 238.8,783.2 236.0,783.6 233.2,783.9 230.4,784.3 227.6,784.7 224.8,785.0 222.0,785.4 219.2,785.7 216.4,786.1 213.6,786.4 210.9,786.7 208.1,787.1 205.3,787.4 202.5,787.7 199.7,788.0 196.9,788.3 194.1,788.7 191.3,789.0 188.5,789.3 185.7,789.6 182.9,790.0 180.2,790.3 177.4,790.7 174.6,791.1 171.8,791.5 169.0,791.9 166.2,792.3 163.4,792.8 160.6,793.3 157.8,793.8 155.0,794.3 152.3,794.9 149.5,795.6 146.7,796.3 143.9,797.1 141.1,798.0 138.3,799.0 135.5,800.1 132.7,801.4 129.9,802.7 127.1,804.2 124.3,805.8 121.6,807.6 118.8,809.4 116.0,811.4 113.2,813.5 110.4,815.6 107.6,817.9" fill="rgba(0,0,0,0.57)"/>
<clipPath id="cb"><polygon points="107.6,761.1 110.4,762.1 113.2,763.3 116.0,764.5 118.8,765.8 121.6,767.1 124.3,768.4 127.1,769.5 129.9,770.5 132.7,771.2 135.5,771.8 138.3,772.1 141.1,772.4 143.9,772.4 146.7,772.4 149.5,772.3 152.3,772.1 155.0,771.9 157.8,771.7 160.6,771.5 163.4,771.3 166.2,771.2 169.0,771.1 171.8,771.0 174.6,770.9 177.4,770.8 180.2,770.7 182.9,770.6 185.7,770.6 188.5,770.5 191.3,770.4 194.1,770.3 196.9,770.2 199.7,770.0 202.5,769.8 205.3,769.6 208.1,769.4 210.9,769.2 213.6,768.9 216.4,768.6 219.2,768.3 222.0,768.0 224.8,767.7 227.6,767.3 230.4,767.0 233.2,766.6 236.0,766.2 238.8,765.9 241.6,765.5 244.3,765.1 247.1,764.6 249.9,764.2 252.7,763.8 255.5,763.4 258.3,763.0 261.1,762.6 263.9,762.2 266.7,761.8 269.5,761.4 272.2,761.0 275.0,760.6 277.8,760.2 280.6,759.9 283.4,759.5 286.2,759.2 289.0,758.8 291.8,758.5 294.6,758.2 297.4,757.9 300.2,757.6 302.9,757.3 305.7,757.0 308.5,756.8 311.3,756.6 314.1,756.3 316.9,756.2 319.7,756.0 322.5,755.8 325.3,755.7 328.1,755.6 330.9,755.5 333.6,755.4 336.4,755.4 339.2,755.4 342.0,755.4 344.8,755.4 347.6,755.5 350.4,755.6 353.2,755.7 356.0,755.8 358.8,756.0 361.5,756.2 364.3,756.4 367.1,756.7 369.9,757.0 372.7,757.3 375.5,757.7 378.3,758.1 381.1,758.5 383.9,759.0 386.7,759.5 389.5,760.0 392.2,760.5 395.0,761.1 397.8,761.6 400.6,762.1 403.4,762.6 406.2,763.0 409.0,763.5 411.8,763.8 414.6,764.2 417.4,764.4 420.2,764.6 422.9,764.7 425.7,764.8 428.5,764.8 431.3,764.7 434.1,764.6 436.9,764.4 439.7,764.2 442.5,764.0 445.3,763.7 448.1,763.4 450.8,763.1 453.6,762.8 456.4,762.6 459.2,762.3 462.0,762.0 464.8,761.8 467.6,761.6 470.4,761.4 473.2,761.3 476.0,761.2 478.8,761.2 481.5,761.3 484.3,761.4 487.1,761.7 489.9,762.0 492.7,762.5 495.5,763.0 498.3,763.7 501.1,764.6 503.9,765.5 506.7,766.6 509.5,767.7 512.2,768.9 515.0,770.1 517.8,771.3 520.6,772.5 523.4,773.6 526.2,774.6 529.0,775.5 531.8,776.2 534.6,776.8 537.4,777.2 540.1,777.5 542.9,777.5 545.7,777.3 548.5,777.0 551.3,776.3 554.1,775.5 556.9,774.4 559.7,773.1 562.5,771.4 565.3,769.6 568.1,767.6 570.8,765.5 573.6,763.3 576.4,761.1 579.2,759.0 582.0,757.0 584.8,755.2 587.6,753.6 590.4,752.3 593.2,751.3 596.0,750.6 598.8,750.2 601.5,750.1 604.3,750.2 607.1,750.6 609.9,751.1 612.7,751.8 615.5,752.6 618.3,753.5 621.1,754.6 623.9,755.7 626.7,756.8 629.4,758.0 632.2,759.2 635.0,760.3 637.8,761.3 640.6,762.3 643.4,763.2 646.2,763.9 649.0,764.4 651.8,764.8 654.6,765.0 657.4,764.9 660.1,764.8 662.9,764.5 665.7,764.0 668.5,763.4 671.3,762.8 674.1,762.0 676.9,761.2 679.7,760.4 682.5,759.5 685.3,758.6 688.1,757.6 690.8,756.7 693.6,755.8 696.4,755.0 699.2,754.2 702.0,753.4 704.8,752.7 707.6,752.2 710.4,751.7 713.2,751.3 716.0,751.1 718.7,751.0 721.5,750.9 724.3,751.0 727.1,751.2 729.9,751.5 732.7,751.9 735.5,752.4 738.3,753.0 741.1,753.6 743.9,754.4 746.7,755.2 749.4,756.0 752.2,756.9 755.0,757.7 757.8,758.4 760.6,759.1 763.4,759.6 766.2,760.0 769.0,760.3 771.8,760.4 774.6,760.3 777.4,760.0 780.1,759.6 782.9,759.0 785.7,758.4 788.5,757.7 791.3,757.0 794.1,756.2 796.9,755.5 799.7,754.8 802.5,754.1 805.3,753.5 808.0,752.9 810.8,752.4 813.6,752.1 816.4,751.8 819.2,751.7 822.0,751.7 824.8,751.8 827.6,752.2 830.4,752.7 833.2,753.3 836.0,754.2 838.7,755.1 841.5,756.2 844.3,757.4 847.1,758.6 849.9,759.8 852.7,761.1 855.5,762.3 858.3,763.5 861.1,764.6 863.9,765.7 866.7,766.6 869.4,767.6 872.2,768.5 875.0,769.4 877.8,770.3 880.6,771.2 883.4,772.2 886.2,773.2 889.0,774.2 891.8,775.4 894.6,776.6 897.3,777.9 900.1,779.3 902.9,780.7 905.7,782.1 908.5,783.5 911.3,784.9 914.1,786.3 916.9,787.6 919.7,788.9 922.5,790.3 925.3,791.6 928.0,793.0 930.8,794.5 933.6,796.1 936.4,797.6 939.2,799.0 942.0,800.2 942.0,822.7 939.2,821.8 936.4,820.9 933.6,819.7 930.8,818.3 928.0,816.7 925.3,814.8 922.5,812.6 919.7,810.4 916.9,808.2 914.1,806.0 911.3,803.9 908.5,801.8 905.7,799.9 902.9,798.1 900.1,796.4 897.3,794.7 894.6,793.2 891.8,791.7 889.0,790.3 886.2,789.0 883.4,787.7 880.6,786.5 877.8,785.4 875.0,784.2 872.2,783.1 869.4,782.0 866.7,780.9 863.9,779.8 861.1,778.6 858.3,777.5 855.5,776.3 852.7,775.1 849.9,773.9 847.1,772.7 844.3,771.6 841.5,770.5 838.7,769.5 836.0,768.6 833.2,767.9 830.4,767.3 827.6,766.8 824.8,766.5 822.0,766.3 819.2,766.2 816.4,766.3 813.6,766.5 810.8,766.8 808.0,767.2 805.3,767.7 802.5,768.3 799.7,768.9 796.9,769.6 794.1,770.4 791.3,771.1 788.5,771.9 785.7,772.6 782.9,773.2 780.1,773.7 777.4,774.2 774.6,774.4 771.8,774.5 769.0,774.4 766.2,774.1 763.4,773.6 760.6,773.0 757.8,772.3 755.0,771.5 752.2,770.6 749.4,769.7 746.7,768.8 743.9,768.0 741.1,767.2 738.3,766.5 735.5,766.0 732.7,765.5 729.9,765.2 727.1,765.0 724.3,764.8 721.5,764.8 718.7,764.9 716.0,765.0 713.2,765.3 710.4,765.7 707.6,766.1 704.8,766.6 702.0,767.3 699.2,767.9 696.4,768.6 693.6,769.4 690.8,770.2 688.1,771.0 685.3,771.8 682.5,772.6 679.7,773.4 676.9,774.2 674.1,774.9 671.3,775.6 668.5,776.2 665.7,776.7 662.9,777.1 660.1,777.3 657.4,777.5 654.6,777.4 651.8,777.2 649.0,776.8 646.2,776.2 643.4,775.5 640.6,774.6 637.8,773.6 635.0,772.5 632.2,771.4 629.4,770.2 626.7,769.1 623.9,768.0 621.1,767.0 618.3,766.0 615.5,765.2 612.7,764.5 609.9,763.9 607.1,763.6 604.3,763.4 601.5,763.5 598.8,763.8 596.0,764.3 593.2,765.2 590.4,766.3 587.6,767.8 584.8,769.6 582.0,771.5 579.2,773.6 576.4,775.8 573.6,778.1 570.8,780.3 568.1,782.4 565.3,784.4 562.5,786.2 559.7,787.6 556.9,788.8 554.1,789.7 551.3,790.3 548.5,790.6 545.7,790.7 542.9,790.6 540.1,790.2 537.4,789.7 534.6,789.1 531.8,788.3 529.0,787.3 526.2,786.3 523.4,785.2 520.6,784.1 517.8,782.9 515.0,781.7 512.2,780.6 509.5,779.4 506.7,778.3 503.9,777.3 501.1,776.4 498.3,775.6 495.5,774.9 492.7,774.3 489.9,773.8 487.1,773.5 484.3,773.2 481.5,773.0 478.8,772.8 476.0,772.8 473.2,772.8 470.4,772.8 467.6,773.0 464.8,773.1 462.0,773.3 459.2,773.5 456.4,773.8 453.6,774.0 450.8,774.3 448.1,774.6 445.3,774.8 442.5,775.1 439.7,775.3 436.9,775.5 434.1,775.7 431.3,775.9 428.5,776.0 425.7,776.0 422.9,776.0 420.2,776.0 417.4,775.8 414.6,775.6 411.8,775.4 409.0,775.1 406.2,774.7 403.4,774.3 400.6,773.9 397.8,773.5 395.0,773.0 392.2,772.6 389.5,772.1 386.7,771.7 383.9,771.2 381.1,770.8 378.3,770.5 375.5,770.1 372.7,769.8 369.9,769.5 367.1,769.3 364.3,769.0 361.5,768.9 358.8,768.7 356.0,768.6 353.2,768.5 350.4,768.4 347.6,768.4 344.8,768.4 342.0,768.4 339.2,768.5 336.4,768.6 333.6,768.7 330.9,768.9 328.1,769.1 325.3,769.3 322.5,769.5 319.7,769.8 316.9,770.1 314.1,770.5 311.3,770.8 308.5,771.2 305.7,771.7 302.9,772.1 300.2,772.5 297.4,773.0 294.6,773.5 291.8,774.0 289.0,774.5 286.2,775.0 283.4,775.5 280.6,776.1 277.8,776.6 275.0,777.1 272.2,777.6 269.5,778.1 266.7,778.7 263.9,779.2 261.1,779.7 258.3,780.1 255.5,780.6 252.7,781.1 249.9,781.5 247.1,781.9 244.3,782.4 241.6,782.8 238.8,783.2 236.0,783.6 233.2,783.9 230.4,784.3 227.6,784.7 224.8,785.0 222.0,785.4 219.2,785.7 216.4,786.1 213.6,786.4 210.9,786.7 208.1,787.1 205.3,787.4 202.5,787.7 199.7,788.0 196.9,788.3 194.1,788.7 191.3,789.0 188.5,789.3 185.7,789.6 182.9,790.0 180.2,790.3 177.4,790.7 174.6,791.1 171.8,791.5 169.0,791.9 166.2,792.3 163.4,792.8 160.6,793.3 157.8,793.8 155.0,794.3 152.3,794.9 149.5,795.6 146.7,796.3 143.9,797.1 141.1,798.0 138.3,799.0 135.5,800.1 132.7,801.4 129.9,802.7 127.1,804.2 124.3,805.8 121.6,807.6 118.8,809.4 116.0,811.4 113.2,813.5 110.4,815.6 107.6,817.9"/></clipPath>
<g clip-path="url(#cb)" fill="rgba(150,165,200,0.16)">
<circle cx="109.8" cy="769.5" r="4.4"/>
<circle cx="135.1" cy="773.4" r="4.4"/>
<circle cx="162.2" cy="773.4" r="4.4"/>
<circle cx="166.0" cy="773.4" r="4.4"/>
<circle cx="184.2" cy="772.8" r="4.4"/>
<circle cx="170.4" cy="782.6" r="4.4"/>
<circle cx="143.6" cy="792.5" r="4.4"/>
<circle cx="120.5" cy="811.5" r="4.4"/>
<circle cx="310.1" cy="753.8" r="4.4"/>
<circle cx="242.8" cy="762.8" r="4.4"/>
<circle cx="236.5" cy="766.9" r="4.4"/>
<circle cx="210.3" cy="788.1" r="4.4"/>
<circle cx="220.3" cy="787.8" r="4.4"/>
<circle cx="260.7" cy="782.6" r="4.4"/>
<circle cx="288.3" cy="778.3" r="4.4"/>
<circle cx="269.7" cy="778.3" r="4.4"/>
<circle cx="213.5" cy="773.3" r="4.4"/>
<circle cx="222.6" cy="773.3" r="4.4"/>
<circle cx="230.0" cy="773.3" r="4.4"/>
<circle cx="214.7" cy="779.5" r="4.4"/>
<circle cx="262.4" cy="772.1" r="4.4"/>
<circle cx="272.8" cy="767.8" r="4.4"/>
<circle cx="284.4" cy="767.8" r="4.4"/>
<circle cx="300.3" cy="767.8" r="4.4"/>
<circle cx="311.3" cy="767.8" r="4.4"/>
<circle cx="325.5" cy="753.3" r="4.4"/>
<circle cx="385.4" cy="758.2" r="4.4"/>
<circle cx="368.5" cy="758.2" r="4.4"/>
<circle cx="394.7" cy="762.0" r="4.4"/>
<circle cx="407.8" cy="761.4" r="4.4"/>
<circle cx="339.1" cy="758.2" r="4.4"/>
<circle cx="352.2" cy="763.1" r="4.4"/>
<circle cx="324.4" cy="760.9" r="4.4"/>
<circle cx="318.9" cy="773.4" r="4.4"/>
<circle cx="365.3" cy="772.3" r="4.4"/>
<circle cx="378.4" cy="772.3" r="4.4"/>
<circle cx="379.1" cy="765.3" r="4.4"/>
<circle cx="464.1" cy="758.7" r="4.4"/>
<circle cx="477.7" cy="758.2" r="4.4"/>
<circle cx="489.2" cy="758.2" r="4.4"/>
<circle cx="461.4" cy="763.6" r="4.4"/>
<circle cx="486.4" cy="764.7" r="4.4"/>
<circle cx="423.2" cy="778.3" r="4.4"/>
<circle cx="458.1" cy="778.3" r="4.4"/>
<circle cx="517.5" cy="787.5" r="4.4"/>
<circle cx="423.2" cy="770.1" r="4.4"/>
<circle cx="435.2" cy="770.1" r="4.4"/>
<circle cx="584.7" cy="753.8" r="4.4"/>
<circle cx="571.6" cy="762.5" r="4.4"/>
<circle cx="601.1" cy="748.4" r="4.4"/>
<circle cx="613.1" cy="748.4" r="4.4"/>
<circle cx="593.4" cy="753.8" r="4.4"/>
<circle cx="597.8" cy="759.3" r="4.4"/>
<circle cx="606.5" cy="757.1" r="4.4"/>
<circle cx="596.2" cy="765.3" r="4.4"/>
<circle cx="626.2" cy="759.3" r="4.4"/>
<circle cx="531.3" cy="773.4" r="4.4"/>
<circle cx="538.9" cy="773.4" r="4.4"/>
<circle cx="549.8" cy="778.3" r="4.4"/>
<circle cx="541.1" cy="783.2" r="4.4"/>
<circle cx="549.8" cy="787.5" r="4.4"/>
<circle cx="561.8" cy="787.5" r="4.4"/>
<circle cx="550.4" cy="793.2" r="4.4"/>
<circle cx="530.2" cy="792.5" r="4.4"/>
<circle cx="577.1" cy="777.7" r="4.4"/>
<circle cx="710.3" cy="748.4" r="4.4"/>
<circle cx="719.0" cy="748.4" r="4.4"/>
<circle cx="726.6" cy="748.4" r="4.4"/>
<circle cx="644.8" cy="762.5" r="4.4"/>
<circle cx="693.9" cy="752.7" r="4.4"/>
<circle cx="699.4" cy="752.7" r="4.4"/>
<circle cx="689.5" cy="758.7" r="4.4"/>
<circle cx="709.2" cy="753.8" r="4.4"/>
<circle cx="733.2" cy="754.9" r="4.4"/>
<circle cx="700.4" cy="764.7" r="4.4"/>
<circle cx="716.8" cy="761.4" r="4.4"/>
<circle cx="728.8" cy="761.4" r="4.4"/>
<circle cx="663.9" cy="778.3" r="4.4"/>
<circle cx="690.6" cy="773.4" r="4.4"/>
<circle cx="700.4" cy="771.2" r="4.4"/>
<circle cx="808.5" cy="748.9" r="4.4"/>
<circle cx="819.4" cy="748.9" r="4.4"/>
<circle cx="827.1" cy="748.9" r="4.4"/>
<circle cx="833.1" cy="753.3" r="4.4"/>
<circle cx="754.0" cy="753.8" r="4.4"/>
<circle cx="745.3" cy="753.3" r="4.4"/>
<circle cx="844.0" cy="757.1" r="4.4"/>
<circle cx="806.4" cy="762.5" r="4.4"/>
<circle cx="818.4" cy="759.3" r="4.4"/>
<circle cx="763.8" cy="762.5" r="4.4"/>
<circle cx="782.4" cy="765.8" r="4.4"/>
<circle cx="840.2" cy="762.5" r="4.4"/>
<circle cx="765.5" cy="778.3" r="4.4"/>
<circle cx="780.7" cy="778.3" r="4.4"/>
<circle cx="796.5" cy="773.4" r="4.4"/>
<circle cx="813.4" cy="770.1" r="4.4"/>
<circle cx="820.5" cy="770.1" r="4.4"/>
<circle cx="844.5" cy="773.4" r="4.4"/>
<circle cx="859.9" cy="763.1" r="4.4"/>
<circle cx="869.7" cy="766.3" r="4.4"/>
<circle cx="862.6" cy="782.6" r="4.4"/>
<circle cx="869.7" cy="782.6" r="4.4"/>
<circle cx="877.4" cy="788.1" r="4.4"/>
<circle cx="888.3" cy="792.5" r="4.4"/>
<circle cx="901.4" cy="797.4" r="4.4"/>
<circle cx="908.4" cy="806.6" r="4.4"/>
<circle cx="902.4" cy="777.7" r="4.4"/>
<circle cx="931.9" cy="792.5" r="4.4"/>
<circle cx="938.4" cy="796.8" r="4.4"/>
<circle cx="923.2" cy="816.4" r="4.4"/>
<circle cx="930.8" cy="821.4" r="4.4"/>
<circle cx="941.7" cy="821.4" r="4.4"/>
<circle cx="942.3" cy="825.7" r="4.4"/>
<circle cx="938.4" cy="816.4" r="4.4"/>
<circle cx="927.5" cy="807.2" r="4.4"/>
<circle cx="885.0" cy="770.1" r="4.4"/>
<circle cx="910.1" cy="790.8" r="4.4"/>
<circle cx="914.4" cy="801.7" r="4.4"/>
<circle cx="452.0" cy="772.0" r="4.4"/>
<circle cx="408.8" cy="771.2" r="4.4"/>
<circle cx="501.8" cy="768.9" r="4.4"/>
<circle cx="515.7" cy="772.9" r="4.4"/>
<circle cx="527.1" cy="778.7" r="4.4"/>
<circle cx="538.5" cy="781.9" r="4.4"/>
<circle cx="679.1" cy="767.4" r="4.4"/>
<circle cx="655.9" cy="768.0" r="4.4"/>
<circle cx="647.3" cy="771.7" r="4.4"/>
<circle cx="668.1" cy="769.3" r="4.4"/>
<circle cx="755.0" cy="765.6" r="4.4"/>
<circle cx="745.2" cy="759.5" r="4.4"/>
<circle cx="674.3" cy="761.3" r="4.4"/>
<circle cx="772.2" cy="764.4" r="4.4"/>
<circle cx="795.5" cy="766.2" r="4.4"/>
<circle cx="826.1" cy="761.3" r="4.4"/>
<circle cx="877.4" cy="772.9" r="4.4"/>
<circle cx="905.9" cy="795.8" r="4.4"/>
<circle cx="915.0" cy="806.0" r="4.4"/>
<circle cx="926.3" cy="808.0" r="4.4"/>
<circle cx="921.2" cy="797.8" r="4.4"/>
<circle cx="875.3" cy="778.4" r="4.4"/>
<circle cx="866.1" cy="780.5" r="4.4"/>
<circle cx="559.0" cy="768.6" r="4.4"/>
<circle cx="628.6" cy="754.0" r="4.4"/>
<circle cx="597.2" cy="765.2" r="4.4"/>
<circle cx="603.9" cy="754.0" r="4.4"/>
<circle cx="518.7" cy="776.4" r="4.4"/>
<circle cx="534.4" cy="783.2" r="4.4"/>
<circle cx="644.5" cy="763.0" r="4.4"/>
<circle cx="742.0" cy="771.9" r="4.4"/>
<circle cx="890.5" cy="792.1" r="4.4"/>
<circle cx="900.7" cy="798.2" r="4.4"/>
<circle cx="910.9" cy="806.4" r="4.4"/>
<circle cx="923.1" cy="794.2" r="4.4"/>
<circle cx="933.3" cy="794.2" r="4.4"/>
<circle cx="939.4" cy="797.2" r="4.4"/>
<circle cx="786.5" cy="765.6" r="4.4"/>
<circle cx="772.2" cy="767.7" r="4.4"/>
</g>
<path d="M73.9 776.4 H976" stroke="#000" stroke-width="1.15" stroke-dasharray="8 8"/>
</svg></body></html>
